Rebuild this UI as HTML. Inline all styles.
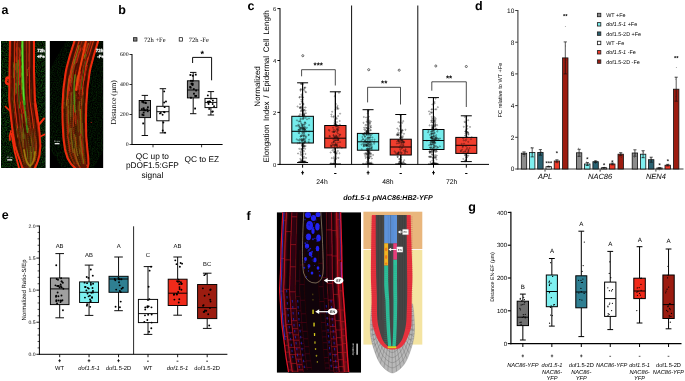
<!DOCTYPE html>
<html><head><meta charset="utf-8"><title>Figure</title>
<style>
html,body{margin:0;padding:0;background:#fff;}
body{width:685px;height:381px;overflow:hidden;font-family:"Liberation Sans",sans-serif;}
svg{display:block;will-change:transform;}
text{text-rendering:geometricPrecision;}
</style></head><body>
<svg width="685" height="381" viewBox="0 0 685 381">
<rect width="685" height="381" fill="#fff"/>
<text x="1.50" y="14.30" font-size="12.5" text-anchor="start" font-family="Liberation Sans, sans-serif" fill="#000" font-weight="bold">a</text>
<text x="118.30" y="13.80" font-size="12.5" text-anchor="start" font-family="Liberation Sans, sans-serif" fill="#000" font-weight="bold">b</text>
<text x="247.60" y="10.30" font-size="12.5" text-anchor="start" font-family="Liberation Sans, sans-serif" fill="#000" font-weight="bold">c</text>
<text x="475.00" y="10.20" font-size="12.5" text-anchor="start" font-family="Liberation Sans, sans-serif" fill="#000" font-weight="bold">d</text>
<text x="1.80" y="219.00" font-size="12.5" text-anchor="start" font-family="Liberation Sans, sans-serif" fill="#000" font-weight="bold">e</text>
<text x="246.50" y="219.50" font-size="12.5" text-anchor="start" font-family="Liberation Sans, sans-serif" fill="#000" font-weight="bold">f</text>
<text x="468.30" y="211.00" font-size="12.5" text-anchor="start" font-family="Liberation Sans, sans-serif" fill="#000" font-weight="bold">g</text>
<defs>
<clipPath id="ca1"><rect x="1" y="41" width="44.5" height="127"/></clipPath>
<clipPath id="ca2"><rect x="49.6" y="41" width="53.8" height="127"/></clipPath>
<filter id="bl1" x="-20%" y="-20%" width="140%" height="140%"><feGaussianBlur stdDeviation="0.5"/></filter>
<filter id="bl05" x="-20%" y="-20%" width="140%" height="140%"><feGaussianBlur stdDeviation="0.35"/></filter>
<filter id="bl2" x="-20%" y="-20%" width="140%" height="140%"><feGaussianBlur stdDeviation="1.0"/></filter>
<filter id="noise" x="0" y="0" width="100%" height="100%" color-interpolation-filters="sRGB"><feTurbulence type="fractalNoise" baseFrequency="0.8" numOctaves="2" seed="3"/><feColorMatrix type="matrix" values="0.15 0 0 0 -0.05  0.75 0 0 0 -0.25  0.1 0 0 0 -0.03  0 0 0 0 1"/></filter>
</defs>
<g clip-path="url(#ca1)">
<rect x="1" y="41" width="44.5" height="127" fill="#000"/>
<rect x="1" y="41" width="44.5" height="127" filter="url(#noise)" opacity="0.85"/>
<g filter="url(#bl1)" stroke="#f42a0c" fill="none" stroke-linecap="round">
<path d="M9.5,78 q-4,-1.5 -3,2 q-2,3 2.5,4.5" stroke-width="2.6"/>
<path d="M10,111 l-4.5,-4.5" stroke-width="1.6"/>
<path d="M37,127 l7,-8.5" stroke-width="2"/>
<path d="M39.5,137 l5,-2.5" stroke-width="1.8"/>
<path d="M11,131 q-2,5 -1,9" stroke-width="1.8"/>
<path d="M11.5,134 Q14,152 19,168" stroke-width="1.8"/>
</g>
<path d="M10.0,38.0 L10.0,41.0 L9.9,44.0 L9.9,47.0 L9.8,50.0 L9.8,53.0 L9.7,56.0 L9.7,59.0 L9.6,62.0 L9.6,65.0 L9.5,68.0 L9.5,71.0 L9.5,74.0 L9.4,77.0 L9.4,80.0 L9.4,83.0 L9.3,86.0 L9.3,89.0 L9.3,92.0 L9.2,95.0 L9.2,98.0 L9.3,101.0 L9.6,104.0 L9.9,107.0 L10.2,110.0 L10.5,113.0 L10.8,116.0 L11.1,119.0 L11.5,122.0 L11.8,125.0 L12.2,128.0 L12.6,131.0 L13.0,134.0 L13.5,137.0 L14.0,140.0 L14.5,143.0 L15.0,146.0 L15.9,149.0 L16.9,152.0 L17.8,155.0 L19.0,158.0 L20.1,161.0 L21.1,164.0 L22.0,167.0 L23.8,170.0 L25.0,172.0 L33.0,172.0 L34.0,170.0 L35.4,167.0 L36.7,164.0 L37.9,161.0 L38.7,158.0 L39.6,155.0 L39.9,152.0 L40.1,149.0 L40.4,146.0 L40.2,143.0 L40.0,140.0 L39.8,137.0 L39.7,134.0 L39.3,131.0 L39.0,128.0 L38.6,125.0 L38.2,122.0 L37.8,119.0 L37.4,116.0 L37.0,113.0 L36.5,110.0 L36.1,107.0 L35.6,104.0 L35.1,101.0 L34.9,98.0 L34.8,95.0 L34.7,92.0 L34.6,89.0 L34.5,86.0 L34.4,83.0 L34.3,80.0 L34.2,77.0 L34.1,74.0 L34.0,71.0 L34.0,68.0 L34.0,65.0 L34.0,62.0 L34.0,59.0 L34.0,56.0 L34.0,53.0 L34.0,50.0 L34.0,47.0 L34.0,44.0 L34.0,41.0 L34.0,38.0 Z" fill="#5c1806"/>
<g filter="url(#bl1)" fill="none" stroke-linecap="round">
<path d="M21.7,107.6 L22.2,110.6 L22.7,113.6 L23.1,116.6 L23.1,119.6 L23.6,122.6 L23.8,125.6 L24.6,128.6 L24.9,131.6 L24.9,134.6" stroke="#4b0f06" stroke-width="1.23" opacity="0.85"/>
<path d="M38.5,155.8 L37.4,158.8 L36.7,161.8 L35.6,164.8 L34.2,167.8" stroke="#52670e" stroke-width="0.71" opacity="0.85"/>
<path d="M21.2,93.4 L21.2,96.4 L21.1,99.4 L21.8,102.4 L22.2,105.4 L22.5,108.4 L22.7,111.4 L22.9,114.4 L23.2,117.4" stroke="#d3280b" stroke-width="1.15" opacity="0.85"/>
<path d="M17.3,49.4 L17.2,52.4 L16.7,55.4 L16.8,58.4 L17.2,61.4 L16.9,64.4 L17.2,67.4 L16.8,70.4 L16.6,73.4" stroke="#631307" stroke-width="1.05" opacity="0.85"/>
<path d="M29.7,133.6 L29.6,136.6 L30.0,139.6 L30.2,142.6 L30.5,145.6" stroke="#381b05" stroke-width="1.57" opacity="0.85"/>
<path d="M28.5,62.1 L28.8,65.1 L28.4,68.1 L28.6,71.1 L28.6,74.1 L28.7,77.1 L29.2,80.1" stroke="#350a04" stroke-width="1.36" opacity="0.85"/>
<path d="M29.1,77.2 L28.8,80.2 L29.4,83.2 L29.0,86.2 L29.1,89.2 L29.5,92.2 L29.3,95.2 L29.4,98.2 L29.4,101.2 L29.9,104.2" stroke="#430d05" stroke-width="1.47" opacity="0.85"/>
<path d="M23.7,69.9 L23.8,72.9 L24.0,75.9 L23.6,78.9 L23.6,81.9 L24.1,84.9 L24.1,87.9" stroke="#470e05" stroke-width="1.56" opacity="0.85"/>
<path d="M16.2,63.6 L16.0,66.6 L15.9,69.6 L15.7,72.6 L15.7,75.6 L16.2,78.6 L15.8,81.6 L16.1,84.6" stroke="#596f0e" stroke-width="1.56" opacity="0.85"/>
<path d="M20.6,139.0 L21.1,142.0 L21.7,145.0 L22.5,148.0 L22.9,151.0 L23.3,154.0 L24.3,157.0" stroke="#301505" stroke-width="1.35" opacity="0.85"/>
<path d="M15.1,43.0 L15.2,46.0 L14.9,49.0 L15.0,52.0 L15.3,55.0" stroke="#2c0804" stroke-width="0.86" opacity="0.85"/>
<path d="M36.4,119.2 L37.3,122.2 L37.6,125.2 L38.1,128.2 L37.9,131.2 L38.6,134.2 L38.7,137.2 L39.0,140.2" stroke="#b31e08" stroke-width="0.73" opacity="0.85"/>
<path d="M25.9,159.9 L26.3,162.9 L26.5,165.9" stroke="#4c2908" stroke-width="1.51" opacity="0.85"/>
<path d="M32.0,82.9 L32.1,85.9 L32.0,88.9 L32.1,91.9 L32.1,94.9 L32.3,97.9 L32.5,100.9 L32.6,103.9" stroke="#9d760f" stroke-width="1.08" opacity="0.85"/>
<path d="M31.5,159.2 L31.2,162.2 L31.0,165.2" stroke="#656b0f" stroke-width="1.36" opacity="0.85"/>
<path d="M15.4,130.3 L15.6,133.3 L16.2,136.3" stroke="#6c6d0f" stroke-width="0.91" opacity="0.85"/>
<path d="M31.4,71.4 L31.9,74.4 L31.8,77.4" stroke="#571106" stroke-width="0.88" opacity="0.85"/>
<path d="M26.6,147.1 L27.1,150.1 L27.5,153.1 L27.5,156.1 L27.9,159.1" stroke="#55670e" stroke-width="1.09" opacity="0.85"/>
<path d="M17.9,57.2 L17.4,60.2 L17.4,63.2 L17.5,66.2 L17.4,69.2 L17.3,72.2" stroke="#9a760f" stroke-width="1.34" opacity="0.85"/>
<path d="M21.8,115.5 L22.0,118.5 L22.3,121.5 L23.2,124.5 L23.1,127.5 L23.8,130.5" stroke="#621307" stroke-width="1.58" opacity="0.85"/>
<path d="M23.2,77.8 L23.7,80.8 L23.4,83.8 L23.4,86.8 L23.4,89.8 L23.8,92.8 L23.7,95.8 L23.9,98.8 L24.2,101.8" stroke="#310904" stroke-width="1.11" opacity="0.85"/>
<path d="M34.8,155.1 L34.6,158.1 L34.3,161.1 L33.3,164.1 L32.5,167.1" stroke="#3f2006" stroke-width="0.86" opacity="0.85"/>
<path d="M21.3,124.0 L21.8,127.0 L21.7,130.0 L22.5,133.0 L22.8,136.0 L22.8,139.0 L23.4,142.0" stroke="#827311" stroke-width="1.05" opacity="0.85"/>
<path d="M31.2,149.3 L31.1,152.3 L31.4,155.3 L31.0,158.3 L31.2,161.3 L30.9,164.3" stroke="#8c7511" stroke-width="1.42" opacity="0.85"/>
<path d="M29.0,126.4 L29.5,129.4 L29.6,132.4 L30.3,135.4" stroke="#d52f0d" stroke-width="1.58" opacity="0.85"/>
<path d="M30.4,82.5 L30.2,85.5 L30.7,88.5" stroke="#4e0f06" stroke-width="1.39" opacity="0.85"/>
<path d="M15.4,136.2 L16.1,139.2 L16.7,142.2 L17.3,145.2" stroke="#4f2a08" stroke-width="0.83" opacity="0.85"/>
<path d="M32.6,153.5 L32.4,156.5 L32.4,159.5 L32.1,162.5 L31.4,165.5" stroke="#9b1d08" stroke-width="0.90" opacity="0.85"/>
<path d="M31.4,107.6 L32.2,110.6 L32.7,113.6 L32.9,116.6 L33.3,119.6" stroke="#631307" stroke-width="1.51" opacity="0.85"/>
<path d="M15.3,104.8 L15.6,107.8 L16.1,110.8 L16.3,113.8 L16.6,116.8 L17.1,119.8 L17.1,122.8" stroke="#ab1c08" stroke-width="1.57" opacity="0.85"/>
<path d="M22.7,90.2 L22.9,93.2 L23.2,96.2 L23.3,99.2 L23.3,102.2 L23.6,105.2 L23.9,108.2 L24.5,111.2 L25.1,114.2 L25.0,117.2" stroke="#60700e" stroke-width="1.13" opacity="0.85"/>
<path d="M28.3,43.7 L28.4,46.7 L28.1,49.7 L28.5,52.7" stroke="#581106" stroke-width="0.99" opacity="0.85"/>
<path d="M13.0,101.7 L13.3,104.7 L13.7,107.7 L13.8,110.7 L14.1,113.7" stroke="#4d0f06" stroke-width="1.09" opacity="0.85"/>
<path d="M27.4,117.0 L28.1,120.0 L28.5,123.0 L28.9,126.0 L28.9,129.0 L29.3,132.0 L30.0,135.0" stroke="#83740f" stroke-width="1.47" opacity="0.85"/>
<path d="M23.8,159.8 L24.3,162.8 L25.2,165.8" stroke="#331805" stroke-width="1.35" opacity="0.85"/>
<path d="M24.3,135.0 L24.9,138.0 L25.4,141.0 L25.8,144.0" stroke="#4a2708" stroke-width="0.72" opacity="0.85"/>
<path d="M12.5,101.2 L12.9,104.2 L13.2,107.2 L13.8,110.2 L14.1,113.2 L14.4,116.2 L14.5,119.2 L14.9,122.2 L15.3,125.2" stroke="#d6290c" stroke-width="0.87" opacity="0.85"/>
<path d="M35.1,158.8 L34.8,161.8 L33.6,164.8 L32.8,167.8" stroke="#2b1204" stroke-width="1.56" opacity="0.85"/>
<path d="M22.2,92.2 L22.4,95.2 L22.6,98.2 L22.6,101.2 L22.8,104.2 L23.2,107.2 L23.8,110.2" stroke="#591106" stroke-width="1.46" opacity="0.85"/>
<path d="M16.3,147.3 L17.3,150.3 L18.2,153.3 L19.4,156.3 L20.4,159.3 L21.1,162.3 L22.3,165.3" stroke="#8a7511" stroke-width="1.27" opacity="0.85"/>
<path d="M32.6,133.6 L32.9,136.6 L33.2,139.6 L33.2,142.6 L33.7,145.6 L33.4,148.6 L33.6,151.6 L33.7,154.6 L33.2,157.6" stroke="#542e09" stroke-width="1.49" opacity="0.85"/>
<path d="M20.5,117.0 L21.0,120.0 L21.3,123.0 L21.7,126.0 L22.0,129.0 L22.7,132.0 L22.9,135.0" stroke="#6a1507" stroke-width="1.30" opacity="0.85"/>
<path d="M31.0,131.6 L31.4,134.6 L31.5,137.6 L31.9,140.6 L32.3,143.6 L32.3,146.6 L32.5,149.6 L33.0,152.6 L32.8,155.6 L32.6,158.6" stroke="#462407" stroke-width="1.36" opacity="0.85"/>
<path d="M34.9,108.6 L35.4,111.6 L35.4,114.6 L36.4,117.6 L36.3,120.6 L36.9,123.6 L37.1,126.6 L37.7,129.6 L38.1,132.6 L38.0,135.6" stroke="#de2c0c" stroke-width="0.77" opacity="0.85"/>
<path d="M32.8,91.1 L32.9,94.1 L32.8,97.1 L33.2,100.1 L33.3,103.1 L33.6,106.1 L34.2,109.1" stroke="#c1230a" stroke-width="0.96" opacity="0.85"/>
<path d="M11.0,59.6 L11.5,62.6 L11.4,65.6 L10.9,68.6 L11.3,71.6 L11.0,74.6 L11.0,77.6 L11.3,80.6 L10.9,83.6" stroke="#661407" stroke-width="1.37" opacity="0.85"/>
<path d="M29.0,152.5 L29.0,155.5 L29.4,158.5 L29.4,161.5 L29.0,164.5 L28.7,167.5" stroke="#583109" stroke-width="1.44" opacity="0.85"/>
<path d="M22.6,55.8 L22.4,58.8 L22.6,61.8 L22.5,64.8 L22.7,67.8 L22.7,70.8" stroke="#c7250a" stroke-width="0.94" opacity="0.85"/>
<path d="M27.1,69.4 L27.1,72.4 L27.4,75.4" stroke="#94750f" stroke-width="1.26" opacity="0.85"/>
<path d="M25.4,111.4 L25.8,114.4 L26.1,117.4 L26.0,120.4 L26.4,123.4 L26.9,126.4 L27.4,129.4 L27.9,132.4" stroke="#b61f09" stroke-width="0.92" opacity="0.85"/>
<path d="M13.0,105.5 L13.2,108.5 L13.6,111.5" stroke="#571106" stroke-width="1.20" opacity="0.85"/>
<path d="M15.2,81.9 L15.1,84.9 L15.2,87.9 L14.8,90.9 L15.0,93.9 L14.9,96.9 L15.2,99.9 L15.3,102.9" stroke="#4d6e0e" stroke-width="0.81" opacity="0.85"/>
<path d="M31.7,158.7 L31.5,161.7 L30.8,164.7 L30.8,167.7" stroke="#4d2908" stroke-width="1.53" opacity="0.85"/>
<path d="M12.4,50.9 L11.9,53.9 L12.0,56.9 L12.2,59.9 L11.8,62.9 L11.9,65.9 L12.1,68.9" stroke="#571106" stroke-width="0.97" opacity="0.85"/>
<path d="M26.1,74.7 L26.5,77.7 L26.5,80.7 L26.8,83.7" stroke="#5a1206" stroke-width="1.03" opacity="0.85"/>
<path d="M38.0,149.7 L38.2,152.7 L37.9,155.7 L36.8,158.7 L36.2,161.7 L35.1,164.7" stroke="#a92209" stroke-width="0.99" opacity="0.85"/>
<path d="M18.7,88.1 L18.9,91.1 L18.8,94.1 L18.5,97.1 L18.9,100.1 L19.3,103.1" stroke="#4f0f06" stroke-width="1.42" opacity="0.85"/>
<path d="M17.0,43.6 L17.1,46.6 L16.6,49.6 L16.9,52.6 L17.0,55.6 L16.5,58.6 L16.5,61.6" stroke="#ce270b" stroke-width="1.57" opacity="0.85"/>
<path d="M33.6,148.0 L33.4,151.0 L33.4,154.0" stroke="#51660e" stroke-width="1.37" opacity="0.85"/>
<path d="M29.1,103.1 L29.4,106.1 L29.9,109.1 L30.4,112.1 L30.8,115.1 L31.3,118.1 L31.4,121.1 L32.0,124.1 L32.3,127.1" stroke="#3f0c05" stroke-width="1.57" opacity="0.85"/>
<path d="M35.5,136.9 L35.9,139.9 L36.2,142.9 L36.2,145.9 L36.1,148.9 L35.9,151.9 L36.2,154.9 L35.8,157.9 L34.9,160.9" stroke="#d42f0d" stroke-width="1.28" opacity="0.85"/>
<path d="M14.0,65.3 L13.8,68.3 L14.1,71.3 L14.2,74.3 L13.8,77.3 L13.7,80.3" stroke="#6b1507" stroke-width="0.75" opacity="0.85"/>
<path d="M22.2,110.5 L22.6,113.5 L23.3,116.5 L23.5,119.5 L23.7,122.5 L24.0,125.5 L24.5,128.5 L24.8,131.5 L25.5,134.5 L25.6,137.5" stroke="#2f0904" stroke-width="0.87" opacity="0.85"/>
<path d="M27.9,138.2 L28.4,141.2 L28.9,144.2 L29.0,147.2 L29.1,150.2 L29.3,153.2" stroke="#542e09" stroke-width="1.52" opacity="0.85"/>
<path d="M38.1,136.4 L38.1,139.4 L38.1,142.4 L38.2,145.4 L38.3,148.4 L38.1,151.4" stroke="#412107" stroke-width="0.95" opacity="0.85"/>
<path d="M32.7,125.9 L33.5,128.9 L33.6,131.9 L34.0,134.9 L34.5,137.9 L34.3,140.9 L34.7,143.9" stroke="#2f1504" stroke-width="0.99" opacity="0.85"/>
<path d="M17.0,132.7 L17.6,135.7 L18.3,138.7" stroke="#cd2c0d" stroke-width="1.44" opacity="0.85"/>
<path d="M12.1,98.1 L12.5,101.1 L12.6,104.1 L13.2,107.1 L13.1,110.1 L13.8,113.1" stroke="#80730f" stroke-width="1.47" opacity="0.85"/>
<path d="M15.5,105.7 L15.7,108.7 L16.1,111.7 L16.6,114.7 L17.0,117.7 L17.2,120.7 L17.8,123.7" stroke="#621307" stroke-width="0.98" opacity="0.85"/>
<path d="M12.2,87.9 L12.4,90.9 L12.6,93.9 L12.3,96.9 L12.5,99.9 L12.7,102.9" stroke="#98760f" stroke-width="1.29" opacity="0.85"/>
<path d="M19.9,159.0 L21.1,162.0 L21.8,165.0" stroke="#462407" stroke-width="0.96" opacity="0.85"/>
<path d="M18.0,87.7 L18.3,90.7 L18.1,93.7 L18.2,96.7 L18.0,99.7 L18.6,102.7 L18.5,105.7 L18.9,108.7" stroke="#350a04" stroke-width="1.36" opacity="0.85"/>
<path d="M14.6,121.6 L14.6,124.6 L15.1,127.6 L15.4,130.6 L15.7,133.6 L16.4,136.6 L16.7,139.6 L17.6,142.6" stroke="#3c1d06" stroke-width="1.45" opacity="0.85"/>
<path d="M20.4,101.9 L20.9,104.9 L21.0,107.9 L21.6,110.9 L22.1,113.9 L22.7,116.9 L22.9,119.9 L23.2,122.9" stroke="#df2c0c" stroke-width="1.05" opacity="0.85"/>
<path d="M24.4,43.2 L24.4,46.2 L24.6,49.2 L24.6,52.2 L24.4,55.2" stroke="#551106" stroke-width="0.80" opacity="0.85"/>
<path d="M17.2,132.2 L18.0,135.2 L18.6,138.2 L18.7,141.2 L19.3,144.2 L19.9,147.2 L20.3,150.2 L21.5,153.2 L22.0,156.2 L22.6,159.2" stroke="#391b06" stroke-width="1.15" opacity="0.85"/>
<path d="M12.0,70.1 L12.0,73.1 L11.8,76.1 L12.3,79.1 L11.8,82.1 L12.2,85.1 L12.0,88.1" stroke="#bf2209" stroke-width="1.54" opacity="0.85"/>
<path d="M24.6,107.7 L24.7,110.7 L25.5,113.7 L25.6,116.7 L26.3,119.7" stroke="#a9770f" stroke-width="1.44" opacity="0.85"/>
<path d="M16.5,109.3 L16.9,112.3 L17.8,115.3 L18.1,118.3 L18.3,121.3 L18.4,124.3 L19.0,127.3 L19.4,130.3 L19.6,133.3" stroke="#4e0f06" stroke-width="0.77" opacity="0.85"/>
<path d="M28.9,136.7 L29.3,139.7 L29.4,142.7" stroke="#3f1f06" stroke-width="0.83" opacity="0.85"/>
<path d="M22.3,72.4 L22.1,75.4 L22.6,78.4 L22.4,81.4 L22.4,84.4 L22.4,87.4 L22.5,90.4" stroke="#541006" stroke-width="0.73" opacity="0.85"/>
<path d="M31.0,131.2 L31.1,134.2 L31.4,137.2 L31.8,140.2 L32.2,143.2 L32.3,146.2 L32.4,149.2 L32.5,152.2 L32.8,155.2" stroke="#593109" stroke-width="1.45" opacity="0.85"/>
<path d="M18.0,47.5 L17.7,50.5 L17.8,53.5 L17.5,56.5 L17.5,59.5 L17.6,62.5 L17.6,65.5 L17.5,68.5" stroke="#8f750f" stroke-width="1.24" opacity="0.85"/>
<path d="M13.5,123.7 L13.8,126.7 L14.6,129.7 L15.0,132.7 L15.3,135.7 L15.9,138.7 L16.1,141.7" stroke="#371a05" stroke-width="1.06" opacity="0.85"/>
<path d="M29.0,67.4 L28.6,70.4 L29.0,73.4 L29.3,76.4 L28.8,79.4 L29.0,82.4 L29.1,85.4 L29.2,88.4" stroke="#e42e0d" stroke-width="0.79" opacity="0.85"/>
<path d="M17.3,147.5 L18.1,150.5 L19.5,153.5 L20.0,156.5 L21.1,159.5 L22.3,162.5 L23.1,165.5" stroke="#391c06" stroke-width="1.23" opacity="0.85"/>
<path d="M21.4,65.6 L21.0,68.6 L21.1,71.6 L21.0,74.6 L21.4,77.6" stroke="#9f760f" stroke-width="0.88" opacity="0.85"/>
<path d="M33.0,65.0 L33.4,68.0 L33.2,71.0 L33.7,74.0 L33.7,77.0 L33.7,80.0 L33.5,83.0 L33.9,86.0" stroke="#651407" stroke-width="0.75" opacity="0.85"/>
<path d="M32.5,94.0 L32.5,97.0 L32.7,100.0" stroke="#3d0c05" stroke-width="1.34" opacity="0.85"/>
<path d="M30.4,135.1 L30.8,138.1 L31.4,141.1 L31.6,144.1 L31.6,147.1" stroke="#8c7511" stroke-width="1.23" opacity="0.85"/>
<path d="M24.8,51.7 L25.2,54.7 L24.9,57.7 L24.9,60.7 L25.2,63.7 L24.8,66.7 L24.9,69.7 L25.2,72.7 L25.0,75.7 L25.0,78.7" stroke="#4c0f06" stroke-width="1.18" opacity="0.85"/>
<path d="M23.1,63.2 L22.8,66.2 L23.1,69.2 L22.9,72.2 L22.7,75.2 L23.0,78.2 L23.1,81.2 L23.0,84.2 L23.2,87.2 L23.3,90.2" stroke="#496e0e" stroke-width="1.12" opacity="0.85"/>
<path d="M22.5,101.2 L23.2,104.2 L23.2,107.2 L23.9,110.2 L24.0,113.2 L24.5,116.2 L25.1,119.2 L25.5,122.2 L25.8,125.2" stroke="#cb260b" stroke-width="1.56" opacity="0.85"/>
<path d="M15.7,99.2 L16.0,102.2 L16.3,105.2 L16.8,108.2" stroke="#ca250a" stroke-width="0.73" opacity="0.85"/>
<path d="M14.3,59.1 L14.6,62.1 L14.1,65.1" stroke="#460e05" stroke-width="1.10" opacity="0.85"/>
<path d="M33.2,108.7 L33.5,111.7 L34.1,114.7 L34.7,117.7 L35.0,120.7 L35.3,123.7 L35.8,126.7" stroke="#b92009" stroke-width="0.83" opacity="0.85"/>
<path d="M16.8,138.6 L17.3,141.6 L17.3,144.6 L18.2,147.6" stroke="#2f1504" stroke-width="1.32" opacity="0.85"/>
<path d="M18.9,66.7 L18.4,69.7 L18.6,72.7 L18.8,75.7 L18.4,78.7 L18.5,81.7 L18.9,84.7 L18.5,87.7 L18.7,90.7 L18.6,93.7" stroke="#4a0e05" stroke-width="1.39" opacity="0.85"/>
<path d="M20.0,50.1 L20.0,53.1 L20.1,56.1" stroke="#92750f" stroke-width="1.36" opacity="0.85"/>
<path d="M15.8,95.9 L15.5,98.9 L15.9,101.9 L16.4,104.9 L16.4,107.9 L16.9,110.9 L17.5,113.9 L17.9,116.9 L18.1,119.9 L18.6,122.9" stroke="#3f0c05" stroke-width="1.58" opacity="0.85"/>
<path d="M21.0,87.8 L20.9,90.8 L21.1,93.8 L20.9,96.8 L21.0,99.8 L21.4,102.8 L21.9,105.8 L22.1,108.8 L22.6,111.8" stroke="#5e1207" stroke-width="0.89" opacity="0.85"/>
<path d="M37.5,121.8 L37.6,124.8 L38.0,127.8 L38.2,130.8 L38.6,133.8 L38.9,136.8 L39.1,139.8 L39.7,142.8 L39.7,145.8" stroke="#3b1d06" stroke-width="0.77" opacity="0.85"/>
<path d="M16.5,84.0 L16.6,87.0 L16.1,90.0 L16.3,93.0" stroke="#69710e" stroke-width="1.39" opacity="0.85"/>
<path d="M19.0,50.9 L19.1,53.9 L19.0,56.9 L18.9,59.9 L18.9,62.9 L19.2,65.9 L18.8,68.9 L19.0,71.9 L19.0,74.9 L19.1,77.9" stroke="#5d1207" stroke-width="1.17" opacity="0.85"/>
<path d="M15.8,125.1 L16.2,128.1 L16.8,131.1 L17.0,134.1 L17.5,137.1" stroke="#7b7110" stroke-width="0.83" opacity="0.85"/>
<path d="M30.0,67.9 L30.4,70.9 L30.4,73.9 L30.6,76.9 L30.8,79.9" stroke="#370b04" stroke-width="0.74" opacity="0.85"/>
<path d="M19.8,120.8 L20.2,123.8 L20.1,126.8 L20.7,129.8 L20.8,132.8 L21.4,135.8 L21.8,138.8 L22.0,141.8 L22.6,144.8 L23.1,147.8" stroke="#4a2708" stroke-width="1.30" opacity="0.85"/>
<path d="M21.8,74.3 L21.6,77.3 L21.6,80.3 L21.7,83.3" stroke="#490e05" stroke-width="0.85" opacity="0.85"/>
<path d="M19.8,58.9 L19.9,61.9 L19.9,64.9 L19.7,67.9 L19.9,70.9 L19.7,73.9 L20.0,76.9" stroke="#cd270b" stroke-width="1.33" opacity="0.85"/>
<path d="M24.4,96.8 L24.2,99.8 L24.4,102.8 L25.1,105.8 L25.2,108.8" stroke="#290804" stroke-width="1.01" opacity="0.85"/>
<path d="M23.3,114.2 L23.5,117.2 L23.9,120.2 L24.2,123.2 L24.5,126.2 L24.8,129.2 L25.5,132.2 L25.9,135.2 L26.0,138.2 L26.6,141.2" stroke="#501006" stroke-width="1.55" opacity="0.85"/>
<path d="M11.0,57.2 L11.0,60.2 L10.9,63.2 L11.2,66.2 L10.9,69.2 L10.7,72.2 L11.0,75.2" stroke="#410d05" stroke-width="1.58" opacity="0.85"/>
<path d="M19.3,69.5 L19.5,72.5 L19.6,75.5 L19.2,78.5 L19.3,81.5 L19.6,84.5" stroke="#cd260b" stroke-width="1.26" opacity="0.85"/>
<path d="M20.4,126.2 L21.1,129.2 L21.3,132.2 L21.8,135.2 L22.1,138.2 L22.4,141.2 L23.1,144.2 L23.4,147.2" stroke="#937711" stroke-width="1.44" opacity="0.85"/>
<path d="M15.4,70.7 L15.4,73.7 L15.4,76.7 L15.8,79.7 L15.4,82.7" stroke="#4b0f06" stroke-width="0.81" opacity="0.85"/>
<path d="M24.7,132.9 L25.2,135.9 L25.7,138.9 L26.2,141.9 L26.3,144.9 L26.9,147.9" stroke="#532d09" stroke-width="1.48" opacity="0.85"/>
<path d="M19.2,126.2 L19.5,129.2 L19.7,132.2 L20.3,135.2 L20.7,138.2" stroke="#4d2908" stroke-width="1.46" opacity="0.85"/>
<path d="M34.7,136.3 L34.9,139.3 L35.4,142.3 L35.9,145.3" stroke="#492608" stroke-width="0.91" opacity="0.85"/>
<path d="M33.0,56.9 L33.0,59.9 L32.4,62.9 L32.8,65.9 L32.5,68.9 L32.5,71.9 L32.7,74.9 L33.1,77.9" stroke="#541006" stroke-width="1.06" opacity="0.85"/>
<path d="M33.2,55.3 L33.1,58.3 L33.4,61.3 L33.4,64.3 L33.1,67.3" stroke="#4d0f06" stroke-width="1.13" opacity="0.85"/>
<path d="M21.2,114.5 L21.7,117.5 L21.7,120.5 L22.1,123.5 L22.4,126.5 L23.3,129.5 L23.2,132.5 L23.8,135.5 L23.9,138.5" stroke="#6c710e" stroke-width="1.32" opacity="0.85"/>
<path d="M17.8,43.3 L17.9,46.3 L17.8,49.3 L17.7,52.3 L17.5,55.3 L17.5,58.3 L18.0,61.3" stroke="#531006" stroke-width="0.95" opacity="0.85"/>
<path d="M17.7,50.3 L17.5,53.3 L17.4,56.3 L17.6,59.3" stroke="#6d1507" stroke-width="0.88" opacity="0.85"/>
<path d="M19.8,47.9 L19.7,50.9 L19.8,53.9 L19.4,56.9 L19.6,59.9 L19.5,62.9 L19.2,65.9" stroke="#d2280b" stroke-width="0.95" opacity="0.85"/>
<path d="M10.8,61.1 L10.8,64.1 L10.5,67.1" stroke="#410d05" stroke-width="1.38" opacity="0.85"/>
<path d="M22.9,155.2 L23.4,158.2 L24.3,161.2" stroke="#502b08" stroke-width="1.41" opacity="0.85"/>
<path d="M34.6,132.4 L34.6,135.4 L35.2,138.4 L34.9,141.4 L35.5,144.4 L35.4,147.4 L35.5,150.4 L35.4,153.4 L35.4,156.4 L35.0,159.4" stroke="#573009" stroke-width="1.06" opacity="0.85"/>
<path d="M20.5,116.9 L21.1,119.9 L21.7,122.9 L21.7,125.9 L22.4,128.9" stroke="#671407" stroke-width="0.99" opacity="0.85"/>
<path d="M26.0,121.9 L26.1,124.9 L26.8,127.9 L27.1,130.9" stroke="#2f1404" stroke-width="1.02" opacity="0.85"/>
<path d="M18.5,104.9 L18.4,107.9 L19.3,110.9 L19.3,113.9 L20.0,116.9 L19.9,119.9 L20.4,122.9 L20.9,125.9 L21.0,128.9 L21.4,131.9" stroke="#651407" stroke-width="0.99" opacity="0.85"/>
<path d="M32.1,153.8 L32.3,156.8 L32.0,159.8 L31.9,162.8 L31.0,165.8" stroke="#391c06" stroke-width="1.59" opacity="0.85"/>
<path d="M30.3,146.6 L31.0,149.6 L31.1,152.6 L31.1,155.6 L31.1,158.6 L30.9,161.6 L30.5,164.6 L30.0,167.6" stroke="#6e6e10" stroke-width="1.21" opacity="0.85"/>
<path d="M25.8,109.2 L26.2,112.2 L26.8,115.2 L26.7,118.2 L27.3,121.2 L28.0,124.2 L28.2,127.2" stroke="#531006" stroke-width="1.10" opacity="0.85"/>
<path d="M21.2,128.7 L21.3,131.7 L21.5,134.7 L22.3,137.7 L22.6,140.7 L23.1,143.7 L23.5,146.7 L24.0,149.7 L24.4,152.7 L25.2,155.7" stroke="#532d09" stroke-width="0.81" opacity="0.85"/>
<path d="M17.0,144.5 L17.8,147.5 L18.3,150.5 L19.2,153.5 L20.3,156.5 L20.9,159.5 L22.1,162.5 L23.0,165.5" stroke="#502b08" stroke-width="1.11" opacity="0.85"/>
<path d="M21.8,69.8 L21.7,72.8 L21.4,75.8 L21.6,78.8 L21.4,81.8 L21.4,84.8 L21.6,87.8 L22.0,90.8 L22.0,93.8" stroke="#93750f" stroke-width="1.19" opacity="0.85"/>
<path d="M12.7,62.6 L13.2,65.6 L12.7,68.6 L12.9,71.6 L13.1,74.6 L13.0,77.6" stroke="#83740f" stroke-width="1.51" opacity="0.85"/>
<path d="M17.1,120.5 L17.2,123.5 L17.8,126.5 L18.2,129.5 L18.2,132.5 L18.6,135.5" stroke="#381b06" stroke-width="0.98" opacity="0.85"/>
<path d="M26.7,96.5 L26.7,99.5 L27.5,102.5 L27.7,105.5" stroke="#691507" stroke-width="1.25" opacity="0.85"/>
<path d="M27.5,83.9 L27.8,86.9 L27.6,89.9 L27.7,92.9 L27.8,95.9" stroke="#320a04" stroke-width="1.27" opacity="0.85"/>
<path d="M32.6,82.2 L32.4,85.2 L32.8,88.2 L32.8,91.2 L32.7,94.2 L33.1,97.2 L32.9,100.2 L33.5,103.2" stroke="#501006" stroke-width="0.96" opacity="0.85"/>
<path d="M24.8,94.4 L24.4,97.4 L24.7,100.4" stroke="#3b0b05" stroke-width="1.10" opacity="0.85"/>
<path d="M25.7,70.1 L25.7,73.1 L26.1,76.1 L26.1,79.1 L26.0,82.1 L26.1,85.1" stroke="#661407" stroke-width="0.93" opacity="0.85"/>
<path d="M18.6,147.7 L19.2,150.7 L20.3,153.7" stroke="#3a1c06" stroke-width="1.35" opacity="0.85"/>
<path d="M32.1,43.8 L32.3,46.8 L32.3,49.8 L32.5,52.8 L32.5,55.8 L32.5,58.8 L32.2,61.8 L32.4,64.8" stroke="#410d05" stroke-width="1.12" opacity="0.85"/>
<path d="M29.0,124.4 L29.2,127.4 L30.0,130.4 L29.9,133.4 L30.3,136.4 L30.4,139.4 L30.9,142.4 L31.4,145.4 L31.2,148.4 L31.4,151.4" stroke="#3f1f06" stroke-width="1.06" opacity="0.85"/>
<path d="M27.9,115.1 L27.9,118.1 L28.5,121.1 L28.6,124.1 L29.5,127.1 L29.9,130.1 L30.2,133.1 L30.0,136.1" stroke="#601307" stroke-width="1.36" opacity="0.85"/>
<path d="M19.0,104.8 L19.1,107.8 L19.8,110.8 L19.9,113.8 L20.2,116.8 L20.8,119.8 L21.0,122.8" stroke="#5f1307" stroke-width="0.97" opacity="0.85"/>
<path d="M28.3,70.4 L28.3,73.4 L28.6,76.4 L28.2,79.4 L28.7,82.4 L28.4,85.4" stroke="#370b04" stroke-width="1.11" opacity="0.85"/>
<path d="M34.1,103.5 L34.3,106.5 L34.8,109.5 L35.7,112.5 L36.0,115.5 L36.5,118.5" stroke="#e22d0d" stroke-width="1.57" opacity="0.85"/>
<path d="M14.8,41.0 L14.7,44.0 L14.7,47.0 L14.7,50.0 L14.6,53.0 L14.6,56.0 L14.5,59.0 L14.5,62.0 L14.5,65.0 L14.4,68.0 L14.4,71.0 L14.4,74.0 L14.4,77.0 L14.4,80.0 L14.4,83.0 L14.4,86.0 L14.4,89.0 L14.4,92.0 L14.4,95.0 L14.4,98.0 L14.5,101.0 L14.8,104.0 L15.1,107.0 L15.5,110.0 L15.8,113.0 L16.1,116.0 L16.5,119.0 L16.8,122.0 L17.2,125.0 L17.6,128.0" stroke="#d8300c" stroke-width="1.0"/>
<path d="M17.6,128.0 L17.9,131.0 L18.3,134.0 L18.8,137.0 L19.2,140.0 L19.6,143.0 L20.1,146.0 L20.8,149.0 L21.5,152.0 L22.2,155.0 L22.9,158.0 L23.7,161.0 L24.2,164.0" stroke="#d8300c" stroke-width="1.0" opacity="0.45"/>
<path d="M29.2,41.0 L29.2,44.0 L29.2,47.0 L29.2,50.0 L29.2,53.0 L29.1,56.0 L29.1,59.0 L29.1,62.0 L29.1,65.0 L29.1,68.0 L29.1,71.0 L29.2,74.0 L29.3,77.0 L29.3,80.0 L29.4,83.0 L29.5,86.0 L29.6,89.0 L29.6,92.0 L29.7,95.0 L29.8,98.0 L30.0,101.0 L30.4,104.0 L30.8,107.0 L31.2,110.0 L31.7,113.0 L32.1,116.0 L32.5,119.0 L32.9,122.0 L33.2,125.0 L33.6,128.0" stroke="#d8300c" stroke-width="1.0"/>
<path d="M33.6,128.0 L34.0,131.0 L34.3,134.0 L34.6,137.0 L34.8,140.0 L35.1,143.0 L35.3,146.0 L35.3,149.0 L35.3,152.0 L35.2,155.0 L34.8,158.0 L34.3,161.0 L33.6,164.0" stroke="#d8300c" stroke-width="1.0" opacity="0.45"/>
<path d="M17.6,41.0 L17.6,44.0 L17.6,47.0 L17.6,50.0 L17.5,53.0 L17.5,56.0 L17.5,59.0 L17.4,62.0 L17.4,65.0 L17.4,68.0 L17.3,71.0 L17.4,74.0 L17.4,77.0 L17.4,80.0 L17.4,83.0 L17.4,86.0 L17.4,89.0 L17.4,92.0 L17.4,95.0 L17.4,98.0 L17.6,101.0 L17.9,104.0 L18.3,107.0 L18.6,110.0 L19.0,113.0 L19.3,116.0 L19.7,119.0 L20.0,122.0 L20.4,125.0 L20.8,128.0" stroke="#a8280a" stroke-width="0.8"/>
<path d="M20.8,128.0 L21.1,131.0 L21.5,134.0 L21.9,137.0 L22.3,140.0 L22.7,143.0 L23.1,146.0 L23.7,149.0 L24.2,152.0 L24.8,155.0 L25.3,158.0 L25.8,161.0 L26.1,164.0" stroke="#a8280a" stroke-width="0.8" opacity="0.45"/>
<path d="M26.5,41.0 L26.5,44.0 L26.5,47.0 L26.5,50.0 L26.5,53.0 L26.5,56.0 L26.5,59.0 L26.4,62.0 L26.4,65.0 L26.4,68.0 L26.4,71.0 L26.5,74.0 L26.5,77.0 L26.6,80.0 L26.7,83.0 L26.7,86.0 L26.8,89.0 L26.8,92.0 L26.9,95.0 L27.0,98.0 L27.1,101.0 L27.5,104.0 L27.9,107.0 L28.3,110.0 L28.8,113.0 L29.2,116.0 L29.5,119.0 L29.9,122.0 L30.3,125.0 L30.7,128.0" stroke="#a8280a" stroke-width="0.8"/>
<path d="M30.7,128.0 L31.0,131.0 L31.4,134.0 L31.7,137.0 L32.0,140.0 L32.2,143.0 L32.5,146.0 L32.6,149.0 L32.7,152.0 L32.8,155.0 L32.6,158.0 L32.4,161.0 L31.9,164.0" stroke="#a8280a" stroke-width="0.8" opacity="0.45"/>
<path d="M12.6,41.0 L12.6,44.0 L12.5,47.0 L12.5,50.0 L12.4,53.0 L12.4,56.0 L12.3,59.0 L12.3,62.0 L12.3,65.0 L12.2,68.0 L12.2,71.0 L12.2,74.0 L12.2,77.0 L12.1,80.0 L12.1,83.0 L12.1,86.0 L12.1,89.0 L12.1,92.0 L12.1,95.0 L12.0,98.0 L12.1,101.0 L12.5,104.0 L12.8,107.0 L13.1,110.0 L13.4,113.0 L13.7,116.0 L14.1,119.0 L14.4,122.0 L14.8,125.0 L15.1,128.0 L15.5,131.0 L15.9,134.0 L16.4,137.0 L16.8,140.0 L17.3,143.0 L17.8,146.0 L18.6,149.0 L19.4,152.0 L20.2,155.0 L21.1,158.0 L22.1,161.0 L22.8,164.0" stroke="#3a0c04" stroke-width="1.5" opacity="0.9"/>
<path d="M31.6,41.0 L31.6,44.0 L31.6,47.0 L31.6,50.0 L31.6,53.0 L31.6,56.0 L31.6,59.0 L31.6,62.0 L31.6,65.0 L31.6,68.0 L31.6,71.0 L31.7,74.0 L31.8,77.0 L31.8,80.0 L31.9,83.0 L32.0,86.0 L32.1,89.0 L32.2,92.0 L32.3,95.0 L32.4,98.0 L32.6,101.0 L33.0,104.0 L33.4,107.0 L33.9,110.0 L34.3,113.0 L34.7,116.0 L35.2,119.0 L35.5,122.0 L35.9,125.0 L36.3,128.0 L36.7,131.0 L37.0,134.0 L37.2,137.0 L37.4,140.0 L37.6,143.0 L37.9,146.0 L37.7,149.0 L37.6,152.0 L37.4,155.0 L36.8,158.0 L36.1,161.0 L35.2,164.0" stroke="#3a0c04" stroke-width="1.5" opacity="0.9"/>
</g>
<g filter="url(#bl05)" fill="none">
<path d="M18.1,141.6 L18.4,143.6 L18.7,145.6 L19.2,147.6 L19.7,149.6 L20.2,151.6 L20.7,153.6 L21.2,155.6 L21.8,157.6 L22.4,159.6 L22.9,161.6 L23.4,163.6" stroke="#8a8418" stroke-width="0.9" stroke-dasharray="0.8 1.2" opacity="0.45"/>
<path d="M18.8,126.8 L19.0,128.8 L19.2,130.8 L19.5,132.8 L19.8,134.8 L20.0,136.8 L20.3,138.8 L20.6,140.8 L20.9,142.8 L21.2,144.8 L21.5,146.8 L22.0,148.8 L22.4,150.8 L22.8,152.8 L23.2,154.8 L23.7,156.8 L24.1,158.8 L24.5,160.8 L24.9,162.8 L25.1,164.8" stroke="#8a8418" stroke-width="0.9" stroke-dasharray="0.8 1.2" opacity="0.45"/>
<path d="M22.0,131.9 L22.3,133.9 L22.6,135.9 L22.8,137.9 L23.1,139.9 L23.4,141.9 L23.6,143.9 L23.9,145.9 L24.2,147.9 L24.6,149.9 L24.9,151.9 L25.2,153.9 L25.6,155.9 L25.9,157.9 L26.2,159.9 L26.5,161.9 L26.6,163.9" stroke="#8a8418" stroke-width="0.9" stroke-dasharray="0.8 1.2" opacity="0.45"/>
<path d="M28.1,116.0 L28.4,118.0 L28.6,120.0 L28.9,122.0 L29.1,124.0 L29.4,126.0 L29.6,128.0 L29.8,130.0 L30.1,132.0 L30.3,134.0 L30.5,136.0 L30.7,138.0 L30.9,140.0 L31.1,142.0 L31.3,144.0 L31.5,146.0 L31.6,148.0 L31.7,150.0 L31.8,152.0 L31.9,154.0 L31.9,156.0 L31.8,158.0 L31.7,160.0 L31.6,162.0 L31.2,164.0" stroke="#8a8418" stroke-width="0.9" stroke-dasharray="0.8 1.2" opacity="0.45"/>
<path d="M31.6,122.8 L31.9,124.8 L32.1,126.8 L32.4,128.8 L32.6,130.8 L32.9,132.8 L33.1,134.8 L33.2,136.8 L33.4,138.8 L33.6,140.8 L33.8,142.8 L33.9,144.8 L34.1,146.8 L34.1,148.8 L34.1,150.8 L34.1,152.8 L34.1,154.8 L33.9,156.8 L33.7,158.8 L33.5,160.8 L33.1,162.8 L32.6,164.8" stroke="#8a8418" stroke-width="0.9" stroke-dasharray="0.8 1.2" opacity="0.45"/>
<path d="M33.9,119.5 L34.1,121.5 L34.4,123.5 L34.6,125.5 L34.9,127.5 L35.1,129.5 L35.4,131.5 L35.6,133.5 L35.8,135.5 L35.9,137.5 L36.1,139.5 L36.2,141.5 L36.4,143.5 L36.6,145.5 L36.5,147.5 L36.5,149.5 L36.4,151.5 L36.4,153.5 L36.2,155.5 L35.9,157.5 L35.5,159.5 L35.1,161.5 L34.5,163.5" stroke="#8a8418" stroke-width="0.9" stroke-dasharray="0.8 1.2" opacity="0.45"/>
<path d="M25.1,134.6 L25.3,136.6 L25.5,138.6 L25.8,140.6 L26.0,142.6 L26.3,144.6 L26.5,146.6 L26.8,148.6 L27.0,150.6 L27.3,152.6 L27.6,154.6 L27.7,156.6 L27.9,158.6 L28.1,160.6 L28.2,162.6 L28.1,164.6" stroke="#8a8418" stroke-width="0.9" stroke-dasharray="0.8 1.2" opacity="0.45"/>
<path d="M26.4,124.0 L26.7,126.0 L26.9,128.0 L27.2,130.0 L27.4,132.0 L27.6,134.0 L27.9,136.0 L28.1,138.0 L28.3,140.0 L28.5,142.0 L28.7,144.0 L29.0,146.0 L29.2,148.0 L29.3,150.0 L29.5,152.0 L29.7,154.0 L29.8,156.0 L29.8,158.0 L29.9,160.0 L29.9,162.0 L29.7,164.0" stroke="#8a8418" stroke-width="0.9" stroke-dasharray="0.8 1.2" opacity="0.45"/>
</g>
<g filter="url(#bl1)" fill="none">
<path d="M10.0,38.0 L10.0,41.0 L9.9,44.0 L9.9,47.0 L9.8,50.0 L9.8,53.0 L9.7,56.0 L9.7,59.0 L9.6,62.0 L9.6,65.0 L9.5,68.0 L9.5,71.0 L9.5,74.0 L9.4,77.0 L9.4,80.0 L9.4,83.0 L9.3,86.0 L9.3,89.0 L9.3,92.0 L9.2,95.0 L9.2,98.0 L9.3,101.0 L9.6,104.0 L9.9,107.0 L10.2,110.0 L10.5,113.0 L10.8,116.0 L11.1,119.0 L11.5,122.0 L11.8,125.0 L12.2,128.0 L12.6,131.0 L13.0,134.0 L13.5,137.0 L14.0,140.0 L14.5,143.0 L15.0,146.0 L15.9,149.0 L16.9,152.0 L17.8,155.0 L19.0,158.0 L20.1,161.0 L21.1,164.0 L22.0,167.0 L23.8,170.0 L25.0,172.0 L33.0,172.0 L34.0,170.0 L35.4,167.0 L36.7,164.0 L37.9,161.0 L38.7,158.0 L39.6,155.0 L39.9,152.0 L40.1,149.0 L40.4,146.0 L40.2,143.0 L40.0,140.0 L39.8,137.0 L39.7,134.0 L39.3,131.0 L39.0,128.0 L38.6,125.0 L38.2,122.0 L37.8,119.0 L37.4,116.0 L37.0,113.0 L36.5,110.0 L36.1,107.0 L35.6,104.0 L35.1,101.0 L34.9,98.0 L34.8,95.0 L34.7,92.0 L34.6,89.0 L34.5,86.0 L34.4,83.0 L34.3,80.0 L34.2,77.0 L34.1,74.0 L34.0,71.0 L34.0,68.0 L34.0,65.0 L34.0,62.0 L34.0,59.0 L34.0,56.0 L34.0,53.0 L34.0,50.0 L34.0,47.0 L34.0,44.0 L34.0,41.0 L34.0,38.0 Z" stroke="#f02c0e" stroke-width="2.0"/>
</g>
<g filter="url(#bl1)" fill="none" stroke-linecap="round">
<path d="M22.3,41 C22.5,70 23,90 24.3,104" stroke="#34b81c" stroke-width="2.6" opacity="0.9"/>
<path d="M24.3,104 Q26.3,120 27.4,132" stroke="#34a81c" stroke-width="1.8" opacity="0.75" stroke-dasharray="5 2"/>
<path d="M22.3,41 C22.5,70 23,90 24,100" stroke="#68e830" stroke-width="1.1" opacity="0.9"/>
<path d="M21.2,41 C21.4,70 21.8,90 23,104" stroke="#7a2008" stroke-width="0.6" opacity="0.6" stroke-dasharray="3 4"/>
<path d="M18.3,60 C18.3,80 18.6,95 19.5,108" stroke="#50a018" stroke-width="0.9" opacity="0.8"/>
<path d="M24,150 Q26,164 30,166 Q34,164 35,152" stroke="#c0a810" stroke-width="1.8" opacity="0.6"/>
</g>
</g>
<text x="41.00" y="52.30" font-size="4.4" text-anchor="middle" font-family="Liberation Sans, sans-serif" fill="#fff" font-weight="bold" stroke="#fff" stroke-width="0.25">72h</text>
<text x="40.80" y="57.60" font-size="4.4" text-anchor="middle" font-family="Liberation Sans, sans-serif" fill="#fff" font-weight="bold" stroke="#fff" stroke-width="0.25">+Fe</text>
<rect x="7.2" y="159.3" width="5" height="1.2" fill="#fff"/>
<text x="9.70" y="158.40" font-size="2.2" text-anchor="middle" font-family="Liberation Sans, sans-serif" fill="#ddd" >50 µm</text>
<g clip-path="url(#ca2)">
<rect x="49.6" y="41" width="53.8" height="127" fill="#000"/>
<defs><clipPath id="fov"><path d="M66,41 L103.4,41 L103.4,150 L94,168 L62,168 L49.6,148 L49.6,70 Z"/></clipPath></defs>
<g clip-path="url(#fov)"><rect x="49.6" y="41" width="53.8" height="127" filter="url(#noise)" opacity="0.38"/></g>
<path d="M75.5,38.0 L74.4,41.0 L73.5,44.0 L72.5,47.0 L71.6,50.0 L70.6,53.0 L69.7,56.0 L68.9,59.0 L68.1,62.0 L67.3,65.0 L66.5,68.0 L65.9,71.0 L65.4,74.0 L65.0,77.0 L64.6,80.0 L64.2,83.0 L63.8,86.0 L63.4,89.0 L63.2,92.0 L63.0,95.0 L62.9,98.0 L62.7,101.0 L62.5,104.0 L62.4,107.0 L62.4,110.0 L62.5,113.0 L62.5,116.0 L62.5,119.0 L62.6,122.0 L62.7,125.0 L62.9,128.0 L63.0,131.0 L63.2,134.0 L63.3,137.0 L63.7,140.0 L64.1,143.0 L64.5,146.0 L64.9,149.0 L65.6,152.0 L66.6,155.0 L67.5,158.0 L69.2,161.0 L71.0,164.0 L74.0,167.0 L77.0,170.0 L79.0,172.0 L86.0,172.0 L86.8,170.0 L87.8,167.0 L88.5,164.0 L88.4,161.0 L88.3,158.0 L88.0,155.0 L87.7,152.0 L87.4,149.0 L87.1,146.0 L86.9,143.0 L86.6,140.0 L86.3,137.0 L86.2,134.0 L86.2,131.0 L86.1,128.0 L86.1,125.0 L86.0,122.0 L86.0,119.0 L86.1,116.0 L86.1,113.0 L86.2,110.0 L86.3,107.0 L86.4,104.0 L86.6,101.0 L86.8,98.0 L87.0,95.0 L87.2,92.0 L87.4,89.0 L87.8,86.0 L88.2,83.0 L88.6,80.0 L89.0,77.0 L89.4,74.0 L89.9,71.0 L90.5,68.0 L91.3,65.0 L92.1,62.0 L92.9,59.0 L93.7,56.0 L94.6,53.0 L95.5,50.0 L96.4,47.0 L97.3,44.0 L98.2,41.0 L99.0,38.0 Z" fill="#5c1806"/>
<g filter="url(#bl1)" fill="none" stroke-linecap="round">
<path d="M85.8,153.9 L85.9,156.9 L86.3,159.9 L86.7,162.9 L86.4,165.9" stroke="#452407" stroke-width="1.08" opacity="0.85"/>
<path d="M84.5,43.9 L83.4,46.9 L82.3,49.9" stroke="#c5240a" stroke-width="1.16" opacity="0.85"/>
<path d="M80.8,111.1 L80.6,114.1 L80.7,117.1 L80.7,120.1 L80.5,123.1 L80.5,126.1 L80.8,129.1 L81.0,132.1" stroke="#937711" stroke-width="1.03" opacity="0.85"/>
<path d="M77.3,94.2 L76.8,97.2 L76.5,100.2 L76.3,103.2 L76.1,106.2 L76.2,109.2 L76.4,112.2 L76.5,115.2" stroke="#301605" stroke-width="0.99" opacity="0.85"/>
<path d="M71.9,85.0 L71.4,88.0 L71.6,91.0 L71.4,94.0 L71.2,97.0" stroke="#5e1207" stroke-width="1.19" opacity="0.85"/>
<path d="M68.7,105.9 L68.1,108.9 L68.4,111.9 L68.1,114.9 L68.6,117.9 L68.5,120.9 L68.8,123.9 L68.9,126.9 L69.1,129.9 L68.9,132.9" stroke="#917611" stroke-width="0.85" opacity="0.85"/>
<path d="M85.1,130.1 L85.4,133.1 L85.3,136.1 L85.9,139.1 L86.2,142.1" stroke="#ae230a" stroke-width="0.87" opacity="0.85"/>
<path d="M75.9,53.3 L75.1,56.3 L74.6,59.3 L73.5,62.3 L72.7,65.3 L72.2,68.3 L71.5,71.3" stroke="#4e0f06" stroke-width="1.43" opacity="0.85"/>
<path d="M83.0,122.8 L83.1,125.8 L83.2,128.8 L83.5,131.8 L83.4,134.8 L83.5,137.8" stroke="#887411" stroke-width="1.28" opacity="0.85"/>
<path d="M89.6,53.9 L89.2,56.9 L87.9,59.9 L87.4,62.9 L86.6,65.9 L85.6,68.9 L85.2,71.9 L84.7,74.9" stroke="#4f0f06" stroke-width="1.45" opacity="0.85"/>
<path d="M73.6,126.5 L73.3,129.5 L73.7,132.5" stroke="#4f2a08" stroke-width="0.83" opacity="0.85"/>
<path d="M67.7,94.5 L67.4,97.5 L67.3,100.5 L67.0,103.5 L66.8,106.5 L67.2,109.5" stroke="#4a2708" stroke-width="1.13" opacity="0.85"/>
<path d="M66.9,145.3 L67.1,148.3 L67.7,151.3 L68.6,154.3 L69.4,157.3 L71.2,160.3 L72.4,163.3 L74.8,166.3" stroke="#4e2a08" stroke-width="1.31" opacity="0.85"/>
<path d="M72.9,138.2 L73.3,141.2 L73.7,144.2 L74.4,147.2 L74.6,150.2 L75.0,153.2" stroke="#5a690f" stroke-width="0.95" opacity="0.85"/>
<path d="M81.3,55.4 L80.1,58.4 L79.7,61.4 L78.7,64.4 L77.6,67.4 L77.3,70.4 L76.5,73.4" stroke="#641407" stroke-width="0.93" opacity="0.85"/>
<path d="M78.0,58.4 L77.0,61.4 L76.1,64.4 L75.8,67.4 L74.9,70.4 L74.2,73.4 L74.2,76.4 L73.8,79.4 L72.9,82.4" stroke="#5b1206" stroke-width="1.06" opacity="0.85"/>
<path d="M63.5,113.7 L63.7,116.7 L63.7,119.7 L63.7,122.7" stroke="#6b6d0f" stroke-width="1.34" opacity="0.85"/>
<path d="M78.7,79.9 L78.2,82.9 L77.9,85.9 L77.5,88.9" stroke="#631307" stroke-width="0.89" opacity="0.85"/>
<path d="M83.2,92.9 L83.4,95.9 L83.2,98.9 L83.0,101.9 L82.3,104.9" stroke="#817210" stroke-width="1.53" opacity="0.85"/>
<path d="M72.2,133.1 L72.2,136.1 L72.3,139.1 L72.7,142.1 L72.9,145.1 L73.4,148.1 L73.9,151.1 L74.8,154.1 L75.4,157.1" stroke="#3b1d06" stroke-width="1.35" opacity="0.85"/>
<path d="M76.2,70.3 L75.6,73.3 L75.5,76.3 L74.8,79.3 L74.4,82.3" stroke="#c6240a" stroke-width="0.86" opacity="0.85"/>
<path d="M72.4,113.4 L72.9,116.4 L72.6,119.4 L72.6,122.4 L72.6,125.4 L72.6,128.4 L73.0,131.4 L73.4,134.4 L73.4,137.4 L73.7,140.4" stroke="#c0290b" stroke-width="1.09" opacity="0.85"/>
<path d="M81.4,73.5 L81.0,76.5 L80.3,79.5 L79.8,82.5" stroke="#ae1d08" stroke-width="1.23" opacity="0.85"/>
<path d="M80.6,58.3 L79.7,61.3 L78.7,64.3 L78.0,67.3 L77.6,70.3 L76.8,73.3 L76.4,76.3 L76.1,79.3" stroke="#531006" stroke-width="1.38" opacity="0.85"/>
<path d="M75.8,135.1 L76.2,138.1 L76.0,141.1 L76.7,144.1 L77.2,147.1" stroke="#971c08" stroke-width="1.41" opacity="0.85"/>
<path d="M85.7,54.4 L84.9,57.4 L84.6,60.4 L83.7,63.4 L83.1,66.4 L82.1,69.4 L81.5,72.4 L80.9,75.4 L80.7,78.4 L80.5,81.4" stroke="#516f0e" stroke-width="1.44" opacity="0.85"/>
<path d="M79.1,145.2 L79.0,148.2 L79.4,151.2 L79.9,154.2" stroke="#807210" stroke-width="0.76" opacity="0.85"/>
<path d="M85.0,57.9 L84.2,60.9 L83.5,63.9 L82.6,66.9 L81.5,69.9 L81.5,72.9 L80.8,75.9 L80.5,78.9 L80.1,81.9 L79.9,84.9" stroke="#601307" stroke-width="1.38" opacity="0.85"/>
<path d="M73.8,142.6 L73.7,145.6 L74.4,148.6" stroke="#492608" stroke-width="1.25" opacity="0.85"/>
<path d="M87.9,58.0 L87.1,61.0 L86.5,64.0 L85.6,67.0" stroke="#e92f0d" stroke-width="1.25" opacity="0.85"/>
<path d="M75.2,111.6 L75.3,114.6 L75.2,117.6 L75.4,120.6 L75.4,123.6 L75.1,126.6 L75.4,129.6 L75.4,132.6 L75.4,135.6 L75.8,138.6" stroke="#cc2c0d" stroke-width="0.94" opacity="0.85"/>
<path d="M85.3,132.4 L85.1,135.4 L85.5,138.4" stroke="#3a1c06" stroke-width="1.50" opacity="0.85"/>
<path d="M79.0,45.6 L78.3,48.6 L77.4,51.6 L76.5,54.6 L75.5,57.6 L74.5,60.6 L74.2,63.6" stroke="#93750f" stroke-width="1.36" opacity="0.85"/>
<path d="M69.3,128.9 L69.5,131.9 L69.8,134.9 L69.7,137.9 L70.2,140.9 L70.4,143.9" stroke="#616a0f" stroke-width="0.78" opacity="0.85"/>
<path d="M85.7,61.7 L84.8,64.7 L83.7,67.7 L83.3,70.7 L82.9,73.7 L82.4,76.7 L82.2,79.7 L81.8,82.7 L81.2,85.7 L81.0,88.7" stroke="#486e0e" stroke-width="1.47" opacity="0.85"/>
<path d="M69.0,76.5 L68.6,79.5 L68.4,82.5 L67.7,85.5 L67.5,88.5 L67.2,91.5 L66.9,94.5" stroke="#e72f0d" stroke-width="1.27" opacity="0.85"/>
<path d="M77.2,59.3 L76.3,62.3 L75.8,65.3" stroke="#3d0c05" stroke-width="0.77" opacity="0.85"/>
<path d="M80.4,120.1 L80.9,123.1 L80.6,126.1 L81.0,129.1 L80.7,132.1 L80.6,135.1 L81.1,138.1 L81.5,141.1 L81.5,144.1" stroke="#2d1304" stroke-width="1.25" opacity="0.85"/>
<path d="M86.3,156.8 L86.6,159.8 L86.9,162.8 L86.5,165.8" stroke="#d52f0d" stroke-width="0.83" opacity="0.85"/>
<path d="M75.5,111.0 L75.0,114.0 L75.0,117.0 L75.0,120.0 L75.1,123.0 L75.4,126.0 L75.7,129.0 L75.5,132.0 L75.4,135.0" stroke="#3a1c06" stroke-width="0.98" opacity="0.85"/>
<path d="M80.5,80.6 L80.2,83.6 L79.7,86.6 L79.5,89.6 L79.2,92.6 L78.7,95.6 L78.7,98.6" stroke="#c7250a" stroke-width="1.36" opacity="0.85"/>
<path d="M80.8,134.4 L80.5,137.4 L81.1,140.4 L81.5,143.4 L81.9,146.4 L82.2,149.4 L82.4,152.4 L82.7,155.4" stroke="#cb2c0c" stroke-width="1.19" opacity="0.85"/>
<path d="M82.6,119.2 L83.2,122.2 L83.0,125.2 L83.2,128.2" stroke="#532d09" stroke-width="1.22" opacity="0.85"/>
<path d="M85.0,71.5 L84.1,74.5 L83.8,77.5 L83.5,80.5 L82.8,83.5 L82.6,86.5 L82.7,89.5" stroke="#521006" stroke-width="1.09" opacity="0.85"/>
<path d="M88.2,62.4 L87.4,65.4 L86.5,68.4 L85.9,71.4 L85.5,74.4 L85.6,77.4 L84.6,80.4 L84.5,83.4 L83.9,86.4" stroke="#380b04" stroke-width="1.27" opacity="0.85"/>
<path d="M91.1,41.4 L90.2,44.4 L89.4,47.4 L88.2,50.4 L87.7,53.4" stroke="#ab1c08" stroke-width="1.07" opacity="0.85"/>
<path d="M69.5,132.9 L69.5,135.9 L69.8,138.9 L70.6,141.9" stroke="#311605" stroke-width="0.78" opacity="0.85"/>
<path d="M75.4,100.1 L74.8,103.1 L75.0,106.1 L75.0,109.1 L75.2,112.1 L74.6,115.1 L74.8,118.1" stroke="#981c08" stroke-width="0.74" opacity="0.85"/>
<path d="M70.2,110.0 L70.3,113.0 L70.3,116.0" stroke="#927711" stroke-width="1.19" opacity="0.85"/>
<path d="M81.9,99.0 L82.1,102.0 L81.7,105.0" stroke="#897411" stroke-width="1.33" opacity="0.85"/>
<path d="M70.8,134.5 L70.7,137.5 L71.2,140.5 L71.6,143.5" stroke="#552e09" stroke-width="0.75" opacity="0.85"/>
<path d="M87.7,67.2 L86.9,70.2 L86.8,73.2" stroke="#b82009" stroke-width="1.08" opacity="0.85"/>
<path d="M67.1,72.7 L67.2,75.7 L66.4,78.7 L66.3,81.7 L65.5,84.7 L65.5,87.7" stroke="#601307" stroke-width="1.51" opacity="0.85"/>
<path d="M87.4,71.8 L87.4,74.8 L86.9,77.8 L86.6,80.8" stroke="#641407" stroke-width="1.40" opacity="0.85"/>
<path d="M91.3,59.9 L90.5,62.9 L89.8,65.9 L89.1,68.9 L88.8,71.9 L88.2,74.9 L87.7,77.9 L87.4,80.9" stroke="#350a04" stroke-width="1.18" opacity="0.85"/>
<path d="M67.7,136.6 L68.3,139.6 L68.8,142.6 L69.3,145.6 L69.7,148.6 L69.9,151.6 L71.0,154.6 L71.8,157.6 L73.2,160.6" stroke="#b3250a" stroke-width="1.19" opacity="0.85"/>
<path d="M80.9,80.2 L80.4,83.2 L79.7,86.2 L79.3,89.2 L79.0,92.2 L79.3,95.2 L79.1,98.2 L78.6,101.2 L78.3,104.2" stroke="#4f0f06" stroke-width="1.11" opacity="0.85"/>
<path d="M80.7,64.3 L79.9,67.3 L79.3,70.3 L79.1,73.3 L78.2,76.3 L77.9,79.3 L77.5,82.3" stroke="#3e0c05" stroke-width="1.32" opacity="0.85"/>
<path d="M70.6,99.0 L70.3,102.0 L70.2,105.0 L70.0,108.0 L70.2,111.0 L70.1,114.0 L70.3,117.0 L70.2,120.0 L70.2,123.0" stroke="#4b2808" stroke-width="1.09" opacity="0.85"/>
<path d="M91.3,62.3 L90.1,65.3 L89.4,68.3" stroke="#581106" stroke-width="0.78" opacity="0.85"/>
<path d="M88.6,43.5 L87.4,46.5 L86.7,49.5 L85.5,52.5 L84.6,55.5 L84.0,58.5" stroke="#8e750f" stroke-width="1.05" opacity="0.85"/>
<path d="M79.9,123.4 L80.4,126.4 L80.1,129.4 L80.3,132.4" stroke="#371a05" stroke-width="0.91" opacity="0.85"/>
<path d="M63.9,124.9 L64.1,127.9 L64.1,130.9 L63.9,133.9 L64.1,136.9 L64.5,139.9 L64.8,142.9 L65.5,145.9" stroke="#573009" stroke-width="1.60" opacity="0.85"/>
<path d="M78.0,84.1 L77.9,87.1 L77.4,90.1 L77.4,93.1 L77.2,96.1 L76.9,99.1 L76.5,102.1 L76.7,105.1" stroke="#3b0b05" stroke-width="0.80" opacity="0.85"/>
<path d="M65.9,90.2 L65.7,93.2 L65.3,96.2 L65.3,99.2 L65.1,102.2 L65.0,105.2 L64.8,108.2 L65.1,111.2 L65.0,114.2 L64.7,117.2" stroke="#626b0f" stroke-width="1.44" opacity="0.85"/>
<path d="M81.5,64.4 L80.7,67.4 L79.7,70.4 L79.4,73.4 L78.7,76.4 L78.4,79.4 L78.0,82.4" stroke="#6d1507" stroke-width="1.01" opacity="0.85"/>
<path d="M79.4,101.5 L79.4,104.5 L79.2,107.5 L79.2,110.5" stroke="#6f6e10" stroke-width="1.17" opacity="0.85"/>
<path d="M75.3,88.8 L75.0,91.8 L74.8,94.8 L74.8,97.8 L74.6,100.8 L74.4,103.8" stroke="#696c0f" stroke-width="0.76" opacity="0.85"/>
<path d="M71.7,68.7 L70.7,71.7 L70.2,74.7 L70.1,77.7 L69.9,80.7 L69.4,83.7" stroke="#3a0b05" stroke-width="1.14" opacity="0.85"/>
<path d="M74.8,156.8 L76.1,159.8 L77.0,162.8 L78.7,165.8" stroke="#cc2c0d" stroke-width="0.73" opacity="0.85"/>
<path d="M67.8,152.6 L68.5,155.6 L69.9,158.6 L71.1,161.6 L73.0,164.6 L75.6,167.6" stroke="#512c08" stroke-width="1.18" opacity="0.85"/>
<path d="M66.1,76.4 L65.5,79.4 L65.1,82.4" stroke="#400c05" stroke-width="0.72" opacity="0.85"/>
<path d="M77.6,80.6 L77.1,83.6 L76.5,86.6" stroke="#a7770f" stroke-width="0.91" opacity="0.85"/>
<path d="M78.8,72.6 L78.3,75.6 L77.6,78.6 L77.6,81.6 L76.7,84.6" stroke="#2b0804" stroke-width="0.91" opacity="0.85"/>
<path d="M84.6,79.4 L84.2,82.4 L84.0,85.4 L83.7,88.4 L83.1,91.4 L83.0,94.4 L82.7,97.4 L82.4,100.4 L82.2,103.4 L82.0,106.4" stroke="#651407" stroke-width="0.82" opacity="0.85"/>
<path d="M70.6,92.3 L70.4,95.3 L70.1,98.3 L69.8,101.3 L69.8,104.3 L70.1,107.3 L69.6,110.3 L69.8,113.3 L69.7,116.3 L70.0,119.3" stroke="#827311" stroke-width="1.00" opacity="0.85"/>
<path d="M63.8,101.7 L64.1,104.7 L64.1,107.7 L64.1,110.7 L64.1,113.7 L63.8,116.7 L64.0,119.7 L64.0,122.7" stroke="#2f1404" stroke-width="1.50" opacity="0.85"/>
<path d="M77.4,86.2 L77.6,89.2 L77.1,92.2 L76.9,95.2 L77.0,98.2 L76.7,101.2 L76.1,104.2 L76.3,107.2 L76.2,110.2" stroke="#4f0f06" stroke-width="0.76" opacity="0.85"/>
<path d="M80.0,73.4 L79.6,76.4 L78.9,79.4 L78.8,82.4 L78.2,85.4" stroke="#81730f" stroke-width="1.20" opacity="0.85"/>
<path d="M68.9,78.7 L68.3,81.7 L68.1,84.7 L67.6,87.7 L67.3,90.7 L67.4,93.7 L67.0,96.7 L66.5,99.7 L66.8,102.7 L66.2,105.7" stroke="#a0770f" stroke-width="1.15" opacity="0.85"/>
<path d="M70.1,94.9 L69.9,97.9 L69.4,100.9 L69.3,103.9" stroke="#3d1e06" stroke-width="1.18" opacity="0.85"/>
<path d="M67.6,80.6 L67.5,83.6 L67.2,86.6 L66.9,89.6 L66.5,92.6 L66.0,95.6" stroke="#476e0e" stroke-width="1.43" opacity="0.85"/>
<path d="M70.1,92.9 L70.2,95.9 L69.8,98.9 L69.8,101.9 L69.5,104.9 L69.5,107.9 L69.4,110.9 L69.8,113.9" stroke="#ce2d0d" stroke-width="0.76" opacity="0.85"/>
<path d="M71.1,83.9 L70.8,86.9 L70.8,89.9 L70.7,92.9" stroke="#310904" stroke-width="1.28" opacity="0.85"/>
<path d="M70.9,128.4 L71.0,131.4 L71.1,134.4 L71.2,137.4 L71.7,140.4 L72.1,143.4 L72.2,146.4 L72.5,149.4 L73.1,152.4" stroke="#777010" stroke-width="1.38" opacity="0.85"/>
<path d="M74.2,59.6 L73.2,62.6 L72.8,65.6 L72.0,68.6 L71.0,71.6 L70.7,74.6 L70.5,77.6" stroke="#7b730f" stroke-width="1.28" opacity="0.85"/>
<path d="M85.0,60.5 L84.3,63.5 L83.9,66.5 L82.6,69.5 L82.1,72.5 L82.1,75.5" stroke="#4e0f06" stroke-width="1.44" opacity="0.85"/>
<path d="M77.6,97.6 L77.7,100.6 L77.3,103.6 L77.1,106.6 L77.0,109.6 L77.0,112.6" stroke="#482507" stroke-width="0.94" opacity="0.85"/>
<path d="M77.1,126.2 L76.9,129.2 L77.2,132.2" stroke="#3b1d06" stroke-width="0.85" opacity="0.85"/>
<path d="M77.0,156.8 L77.8,159.8 L79.1,162.8 L80.1,165.8" stroke="#381b06" stroke-width="1.29" opacity="0.85"/>
<path d="M66.2,141.7 L66.2,144.7 L66.9,147.7 L67.1,150.7" stroke="#432207" stroke-width="1.11" opacity="0.85"/>
<path d="M65.9,124.2 L65.7,127.2 L66.4,130.2 L66.0,133.2 L66.5,136.2 L66.9,139.2 L67.0,142.2 L67.6,145.2 L67.6,148.2" stroke="#291104" stroke-width="0.88" opacity="0.85"/>
<path d="M80.4,109.4 L80.2,112.4 L80.3,115.4 L80.6,118.4 L80.4,121.4 L80.5,124.4 L80.6,127.4 L80.4,130.4 L81.0,133.4" stroke="#847311" stroke-width="1.48" opacity="0.85"/>
<path d="M76.0,110.6 L75.6,113.6 L76.0,116.6 L75.9,119.6 L75.8,122.6 L75.7,125.6" stroke="#b4250a" stroke-width="1.19" opacity="0.85"/>
<path d="M77.7,75.9 L77.0,78.9 L76.9,81.9" stroke="#90750f" stroke-width="1.51" opacity="0.85"/>
<path d="M72.1,71.7 L71.1,74.7 L71.2,77.7 L70.6,80.7 L70.5,83.7 L70.0,86.7" stroke="#b01d08" stroke-width="0.75" opacity="0.85"/>
<path d="M73.6,106.1 L73.7,109.1 L73.5,112.1 L73.2,115.1 L73.2,118.1 L73.3,121.1 L73.9,124.1 L73.9,127.1" stroke="#281004" stroke-width="1.59" opacity="0.85"/>
<path d="M70.2,94.1 L70.2,97.1 L69.7,100.1 L69.8,103.1 L69.4,106.1 L69.4,109.1 L69.8,112.1 L69.6,115.1 L69.4,118.1 L69.6,121.1" stroke="#371a05" stroke-width="1.18" opacity="0.85"/>
<path d="M84.9,84.0 L84.6,87.0 L84.1,90.0 L84.3,93.0 L83.6,96.0" stroke="#661407" stroke-width="1.25" opacity="0.85"/>
<path d="M68.5,99.0 L68.4,102.0 L67.7,105.0 L67.8,108.0 L67.8,111.0 L67.7,114.0 L67.8,117.0 L68.0,120.0 L68.2,123.0" stroke="#7a7110" stroke-width="0.70" opacity="0.85"/>
<path d="M73.5,105.3 L73.3,108.3 L73.4,111.3 L73.3,114.3 L73.7,117.3 L73.6,120.3 L73.3,123.3 L73.6,126.3" stroke="#d52f0d" stroke-width="1.34" opacity="0.85"/>
<path d="M72.8,115.8 L72.5,118.8 L72.7,121.8 L72.7,124.8 L72.9,127.8 L73.0,130.8 L72.9,133.8 L73.1,136.8 L73.5,139.8 L73.9,142.8" stroke="#4a2708" stroke-width="1.07" opacity="0.85"/>
<path d="M77.9,83.8 L77.5,86.8 L77.3,89.8 L77.0,92.8 L77.0,95.8 L77.2,98.8" stroke="#c2230a" stroke-width="0.99" opacity="0.85"/>
<path d="M74.3,149.6 L74.5,152.6 L75.1,155.6 L76.4,158.6 L77.1,161.6 L78.5,164.6 L80.1,167.6" stroke="#c0290b" stroke-width="1.56" opacity="0.85"/>
<path d="M85.7,103.5 L85.1,106.5 L85.2,109.5 L85.5,112.5 L85.4,115.5" stroke="#7d7110" stroke-width="0.78" opacity="0.85"/>
<path d="M83.2,143.9 L83.6,146.9 L84.0,149.9 L84.1,152.9 L84.8,155.9 L84.9,158.9" stroke="#3f2006" stroke-width="1.17" opacity="0.85"/>
<path d="M85.6,48.1 L84.8,51.1 L83.6,54.1 L82.8,57.1" stroke="#5d1207" stroke-width="1.59" opacity="0.85"/>
<path d="M78.7,156.3 L79.5,159.3 L80.0,162.3 L80.9,165.3" stroke="#4a2708" stroke-width="1.35" opacity="0.85"/>
<path d="M73.8,63.9 L72.5,66.9 L72.0,69.9 L71.5,72.9 L71.0,75.9 L71.0,78.9 L70.0,81.9 L70.2,84.9 L69.6,87.9 L69.6,90.9" stroke="#df2c0c" stroke-width="0.99" opacity="0.85"/>
<path d="M74.1,148.1 L74.3,151.1 L74.9,154.1 L76.0,157.1 L76.5,160.1 L78.1,163.1 L79.0,166.1" stroke="#787010" stroke-width="0.94" opacity="0.85"/>
<path d="M86.2,77.6 L85.8,80.6 L85.8,83.6 L85.3,86.6 L84.7,89.6 L84.8,92.6 L84.6,95.6 L83.9,98.6" stroke="#581106" stroke-width="0.86" opacity="0.85"/>
<path d="M81.5,66.3 L80.8,69.3 L80.2,72.3 L79.8,75.3 L79.7,78.3" stroke="#370b04" stroke-width="1.23" opacity="0.85"/>
<path d="M73.2,156.3 L74.2,159.3 L75.7,162.3" stroke="#341805" stroke-width="1.16" opacity="0.85"/>
<path d="M81.9,69.7 L81.4,72.7 L80.9,75.7 L80.3,78.7 L79.8,81.7 L79.5,84.7 L79.5,87.7 L79.3,90.7 L78.8,93.7 L78.4,96.7" stroke="#4f0f06" stroke-width="1.02" opacity="0.85"/>
<path d="M70.3,152.3 L71.5,155.3 L72.4,158.3 L73.5,161.3" stroke="#2b1204" stroke-width="1.15" opacity="0.85"/>
<path d="M82.0,121.2 L81.8,124.2 L82.0,127.2 L82.0,130.2 L82.2,133.2 L82.0,136.2" stroke="#48640e" stroke-width="0.85" opacity="0.85"/>
<path d="M69.8,75.4 L69.6,78.4 L69.2,81.4 L68.6,84.4 L68.2,87.4 L68.0,90.4 L67.8,93.4 L67.4,96.4 L67.4,99.4" stroke="#db2b0c" stroke-width="1.39" opacity="0.85"/>
<path d="M86.1,71.3 L85.3,74.3 L85.1,77.3 L84.6,80.3 L84.2,83.3 L83.6,86.3" stroke="#3c0c05" stroke-width="1.53" opacity="0.85"/>
<path d="M78.5,83.8 L77.7,86.8 L77.9,89.8 L77.5,92.8 L77.2,95.8 L76.9,98.8 L77.1,101.8 L76.4,104.8" stroke="#4c0f06" stroke-width="1.10" opacity="0.85"/>
<path d="M78.6,77.5 L78.4,80.5 L77.8,83.5 L77.4,86.5 L77.5,89.5" stroke="#536f0e" stroke-width="0.87" opacity="0.85"/>
<path d="M90.5,61.0 L89.5,64.0 L89.0,67.0 L88.3,70.0 L87.9,73.0 L87.1,76.0 L86.9,79.0" stroke="#576f0e" stroke-width="0.84" opacity="0.85"/>
<path d="M74.9,94.7 L74.6,97.7 L74.9,100.7 L74.4,103.7" stroke="#52670e" stroke-width="1.31" opacity="0.85"/>
<path d="M72.4,102.1 L72.1,105.1 L72.1,108.1 L72.3,111.1 L72.3,114.1 L72.3,117.1" stroke="#502b08" stroke-width="1.58" opacity="0.85"/>
<path d="M80.6,71.9 L79.6,74.9 L79.4,77.9 L79.1,80.9 L78.4,83.9 L78.1,86.9 L77.8,89.9" stroke="#d2280b" stroke-width="1.28" opacity="0.85"/>
<path d="M75.7,124.6 L75.7,127.6 L75.5,130.6 L75.6,133.6 L75.6,136.6" stroke="#321705" stroke-width="1.07" opacity="0.85"/>
<path d="M84.7,151.2 L85.2,154.2 L85.3,157.2" stroke="#3b1d06" stroke-width="0.92" opacity="0.85"/>
<path d="M85.2,113.5 L84.9,116.5 L84.8,119.5 L85.0,122.5" stroke="#50660e" stroke-width="1.07" opacity="0.85"/>
<path d="M87.6,65.2 L86.8,68.2 L86.0,71.2 L85.6,74.2 L84.8,77.2 L84.6,80.2" stroke="#b61f09" stroke-width="1.04" opacity="0.85"/>
<path d="M80.9,47.8 L80.2,50.8 L78.9,53.8 L78.1,56.8 L77.3,59.8 L76.5,62.8" stroke="#d5290b" stroke-width="1.25" opacity="0.85"/>
<path d="M83.1,95.4 L83.2,98.4 L82.9,101.4 L82.8,104.4 L82.6,107.4 L82.7,110.4 L82.7,113.4 L82.2,116.4 L82.5,119.4 L82.5,122.4" stroke="#3b1d06" stroke-width="1.25" opacity="0.85"/>
<path d="M77.2,63.1 L76.1,66.1 L75.1,69.1 L74.6,72.1 L74.3,75.1 L74.1,78.1 L73.2,81.1 L73.0,84.1 L72.8,87.1" stroke="#3a0b05" stroke-width="0.99" opacity="0.85"/>
<path d="M65.2,110.7 L65.3,113.7 L65.0,116.7 L65.1,119.7 L65.2,122.7 L65.4,125.7 L65.3,128.7 L65.6,131.7 L65.6,134.7" stroke="#4a2708" stroke-width="1.21" opacity="0.85"/>
<path d="M82.6,138.4 L83.0,141.4 L83.1,144.4 L83.5,147.4 L84.1,150.4" stroke="#593109" stroke-width="1.36" opacity="0.85"/>
<path d="M67.0,114.3 L67.2,117.3 L67.2,120.3 L67.4,123.3 L67.1,126.3 L67.4,129.3 L67.7,132.3 L67.6,135.3 L68.1,138.3" stroke="#b1240a" stroke-width="0.75" opacity="0.85"/>
<path d="M87.8,80.2 L87.1,83.2 L87.0,86.2 L86.1,89.2 L86.2,92.2 L85.7,95.2 L85.7,98.2" stroke="#561106" stroke-width="1.56" opacity="0.85"/>
<path d="M76.5,55.8 L75.6,58.8 L75.0,61.8 L74.2,64.8 L73.6,67.8 L72.5,70.8 L72.1,73.8 L71.6,76.8 L71.7,79.8 L71.2,82.8" stroke="#7b730f" stroke-width="0.85" opacity="0.85"/>
<path d="M71.9,92.3 L71.3,95.3 L71.2,98.3 L71.4,101.3 L71.3,104.3 L71.0,107.3 L71.0,110.3 L70.9,113.3 L70.9,116.3" stroke="#746f10" stroke-width="1.07" opacity="0.85"/>
<path d="M76.7,134.0 L76.8,137.0 L77.2,140.0 L77.4,143.0 L77.7,146.0 L77.7,149.0 L78.2,152.0 L78.7,155.0 L79.6,158.0 L80.4,161.0" stroke="#3e1f06" stroke-width="1.10" opacity="0.85"/>
<path d="M65.9,146.1 L66.2,149.1 L67.1,152.1 L68.0,155.1 L68.9,158.1 L70.4,161.1 L72.5,164.1 L74.8,167.1" stroke="#59680e" stroke-width="0.97" opacity="0.85"/>
<path d="M77.0,86.5 L76.5,89.5 L76.6,92.5" stroke="#551106" stroke-width="1.48" opacity="0.85"/>
<path d="M64.2,102.4 L64.3,105.4 L64.1,108.4" stroke="#827311" stroke-width="1.40" opacity="0.85"/>
<path d="M68.6,125.2 L68.6,128.2 L68.5,131.2 L68.8,134.2" stroke="#cb2c0c" stroke-width="0.71" opacity="0.85"/>
<path d="M87.5,44.0 L86.7,47.0 L85.6,50.0 L84.5,53.0" stroke="#ba2109" stroke-width="1.48" opacity="0.85"/>
<path d="M80.9,75.6 L80.9,78.6 L80.5,81.6 L79.8,84.6 L79.5,87.6 L79.5,90.6 L78.8,93.6" stroke="#cd270b" stroke-width="0.87" opacity="0.85"/>
<path d="M74.7,134.6 L74.9,137.6 L75.2,140.6 L75.6,143.6 L75.8,146.6 L76.5,149.6 L77.0,152.6 L77.6,155.6" stroke="#857311" stroke-width="1.03" opacity="0.85"/>
<path d="M78.4,132.5 L78.3,135.5 L78.5,138.5 L78.8,141.5 L79.0,144.5 L79.4,147.5" stroke="#321705" stroke-width="0.80" opacity="0.85"/>
<path d="M63.8,122.9 L64.1,125.9 L64.3,128.9 L64.5,131.9 L64.4,134.9 L64.8,137.9" stroke="#573009" stroke-width="1.16" opacity="0.85"/>
<path d="M77.6,120.0 L77.7,123.0 L78.2,126.0 L78.0,129.0 L78.4,132.0" stroke="#51660e" stroke-width="0.74" opacity="0.85"/>
<path d="M79.9,136.4 L80.0,139.4 L80.5,142.4 L80.5,145.4 L81.2,148.4 L81.1,151.4 L82.1,154.4 L82.5,157.4 L83.2,160.4 L83.5,163.4" stroke="#7b7110" stroke-width="1.43" opacity="0.85"/>
<path d="M72.2,100.8 L72.1,103.8 L72.2,106.8 L72.1,109.8 L72.0,112.8 L72.1,115.8" stroke="#512c09" stroke-width="0.85" opacity="0.85"/>
<path d="M79.2,41.0 L78.2,44.0 L77.3,47.0 L76.4,50.0 L75.4,53.0 L74.5,56.0 L73.7,59.0 L72.9,62.0 L72.1,65.0 L71.3,68.0 L70.7,71.0 L70.2,74.0 L69.8,77.0 L69.4,80.0 L69.0,83.0 L68.6,86.0 L68.2,89.0 L68.0,92.0 L67.8,95.0" stroke="#d8300c" stroke-width="1.0"/>
<path d="M67.8,95.0 L67.6,98.0 L67.4,101.0 L67.2,104.0 L67.2,107.0 L67.2,110.0 L67.2,113.0 L67.2,116.0 L67.2,119.0 L67.3,122.0 L67.4,125.0 L67.5,128.0 L67.7,131.0 L67.8,134.0 L67.9,137.0 L68.3,140.0 L68.6,143.0 L69.0,146.0 L69.4,149.0 L70.0,152.0 L70.8,155.0 L71.7,158.0 L73.1,161.0 L74.5,164.0" stroke="#d8300c" stroke-width="1.0" opacity="0.45"/>
<path d="M93.4,41.0 L92.5,44.0 L91.6,47.0 L90.7,50.0 L89.8,53.0 L88.9,56.0 L88.1,59.0 L87.3,62.0 L86.5,65.0 L85.7,68.0 L85.1,71.0 L84.6,74.0 L84.2,77.0 L83.8,80.0 L83.4,83.0 L83.0,86.0 L82.6,89.0 L82.4,92.0 L82.2,95.0" stroke="#d8300c" stroke-width="1.0"/>
<path d="M82.2,95.0 L82.0,98.0 L81.8,101.0 L81.6,104.0 L81.5,107.0 L81.4,110.0 L81.4,113.0 L81.4,116.0 L81.3,119.0 L81.3,122.0 L81.4,125.0 L81.5,128.0 L81.6,131.0 L81.6,134.0 L81.7,137.0 L82.0,140.0 L82.3,143.0 L82.6,146.0 L82.9,149.0 L83.3,152.0 L83.7,155.0 L84.1,158.0 L84.6,161.0 L85.0,164.0" stroke="#d8300c" stroke-width="1.0" opacity="0.45"/>
<path d="M82.0,41.0 L81.1,44.0 L80.2,47.0 L79.2,50.0 L78.3,53.0 L77.4,56.0 L76.6,59.0 L75.8,62.0 L75.0,65.0 L74.2,68.0 L73.5,71.0 L73.1,74.0 L72.7,77.0 L72.3,80.0 L71.9,83.0 L71.5,86.0 L71.1,89.0 L70.9,92.0 L70.7,95.0" stroke="#a8280a" stroke-width="0.8"/>
<path d="M70.7,95.0 L70.5,98.0 L70.3,101.0 L70.1,104.0 L70.0,107.0 L70.0,110.0 L70.0,113.0 L70.0,116.0 L70.0,119.0 L70.1,122.0 L70.2,125.0 L70.3,128.0 L70.4,131.0 L70.5,134.0 L70.7,137.0 L71.0,140.0 L71.4,143.0 L71.7,146.0 L72.1,149.0 L72.7,152.0 L73.4,155.0 L74.2,158.0 L75.4,161.0 L76.6,164.0" stroke="#a8280a" stroke-width="0.8" opacity="0.45"/>
<path d="M90.8,41.0 L89.9,44.0 L89.0,47.0 L88.1,50.0 L87.2,53.0 L86.3,56.0 L85.5,59.0 L84.7,62.0 L83.9,65.0 L83.1,68.0 L82.4,71.0 L82.0,74.0 L81.6,77.0 L81.2,80.0 L80.8,83.0 L80.3,86.0 L80.0,89.0 L79.8,92.0 L79.6,95.0" stroke="#a8280a" stroke-width="0.8"/>
<path d="M79.6,95.0 L79.4,98.0 L79.2,101.0 L79.0,104.0 L78.9,107.0 L78.8,110.0 L78.8,113.0 L78.8,116.0 L78.7,119.0 L78.8,122.0 L78.8,125.0 L78.9,128.0 L79.0,131.0 L79.1,134.0 L79.2,137.0 L79.5,140.0 L79.8,143.0 L80.1,146.0 L80.4,149.0 L80.9,152.0 L81.4,155.0 L81.9,158.0 L82.5,161.0 L83.1,164.0" stroke="#a8280a" stroke-width="0.8" opacity="0.45"/>
<path d="M77.0,41.0 L76.1,44.0 L75.1,47.0 L74.2,50.0 L73.3,53.0 L72.4,56.0 L71.6,59.0 L70.8,62.0 L70.0,65.0 L69.2,68.0 L68.5,71.0 L68.1,74.0 L67.7,77.0 L67.3,80.0 L66.8,83.0 L66.4,86.0 L66.1,89.0 L65.9,92.0 L65.7,95.0 L65.5,98.0 L65.3,101.0 L65.1,104.0 L65.0,107.0 L65.0,110.0 L65.1,113.0 L65.1,116.0 L65.1,119.0 L65.2,122.0 L65.3,125.0 L65.4,128.0 L65.6,131.0 L65.7,134.0 L65.8,137.0 L66.2,140.0 L66.6,143.0 L67.0,146.0 L67.3,149.0 L68.1,152.0 L68.9,155.0 L69.8,158.0 L71.4,161.0 L72.9,164.0" stroke="#3a0c04" stroke-width="1.5" opacity="0.9"/>
<path d="M95.8,41.0 L94.9,44.0 L94.0,47.0 L93.1,50.0 L92.2,53.0 L91.3,56.0 L90.5,59.0 L89.7,62.0 L88.9,65.0 L88.1,68.0 L87.5,71.0 L87.0,74.0 L86.6,77.0 L86.2,80.0 L85.8,83.0 L85.4,86.0 L85.0,89.0 L84.8,92.0 L84.6,95.0 L84.4,98.0 L84.2,101.0 L84.0,104.0 L83.9,107.0 L83.8,110.0 L83.8,113.0 L83.7,116.0 L83.7,119.0 L83.7,122.0 L83.8,125.0 L83.8,128.0 L83.9,131.0 L83.9,134.0 L84.0,137.0 L84.3,140.0 L84.6,143.0 L84.9,146.0 L85.2,149.0 L85.5,152.0 L85.9,155.0 L86.2,158.0 L86.5,161.0 L86.8,164.0" stroke="#3a0c04" stroke-width="1.5" opacity="0.9"/>
</g>
<g filter="url(#bl05)" fill="none">
<path d="M66.2,102.4 L66.0,104.4 L66.0,106.4 L66.0,108.4 L66.0,110.4 L66.0,112.4 L66.0,114.4 L66.0,116.4 L66.0,118.4 L66.0,120.4 L66.1,122.4 L66.2,124.4 L66.3,126.4 L66.4,128.4 L66.5,130.4 L66.6,132.4 L66.6,134.4 L66.7,136.4 L66.9,138.4 L67.2,140.4 L67.4,142.4 L67.7,144.4 L67.9,146.4 L68.2,148.4 L68.5,150.4 L69.1,152.4 L69.6,154.4 L70.2,156.4 L70.8,158.4 L71.8,160.4 L72.8,162.4 L74.0,164.4" stroke="#8a8418" stroke-width="0.9" stroke-dasharray="0.8 1.2" opacity="0.45"/>
<path d="M69.0,95.4 L68.9,97.4 L68.7,99.4 L68.6,101.4 L68.5,103.4 L68.4,105.4 L68.4,107.4 L68.4,109.4 L68.4,111.4 L68.4,113.4 L68.4,115.4 L68.4,117.4 L68.4,119.4 L68.4,121.4 L68.5,123.4 L68.6,125.4 L68.7,127.4 L68.8,129.4 L68.8,131.4 L68.9,133.4 L69.0,135.4 L69.1,137.4 L69.3,139.4 L69.6,141.4 L69.8,143.4 L70.1,145.4 L70.3,147.4 L70.6,149.4 L71.0,151.4 L71.5,153.4 L72.0,155.4 L72.6,157.4 L73.3,159.4 L74.2,161.4 L75.1,163.4" stroke="#8a8418" stroke-width="0.9" stroke-dasharray="0.8 1.2" opacity="0.45"/>
<path d="M70.8,104.1 L70.8,106.1 L70.8,108.1 L70.8,110.1 L70.7,112.1 L70.7,114.1 L70.7,116.1 L70.7,118.1 L70.7,120.1 L70.8,122.1 L70.9,124.1 L70.9,126.1 L71.0,128.1 L71.1,130.1 L71.2,132.1 L71.2,134.1 L71.3,136.1 L71.5,138.1 L71.7,140.1 L71.9,142.1 L72.2,144.1 L72.4,146.1 L72.7,148.1 L72.9,150.1 L73.4,152.1 L73.8,154.1 L74.3,156.1 L74.8,158.1 L75.6,160.1 L76.4,162.1 L77.2,164.1" stroke="#8a8418" stroke-width="0.9" stroke-dasharray="0.8 1.2" opacity="0.45"/>
<path d="M78.2,101.7 L78.0,103.7 L77.9,105.7 L77.9,107.7 L77.9,109.7 L77.9,111.7 L77.8,113.7 L77.8,115.7 L77.8,117.7 L77.8,119.7 L77.8,121.7 L77.9,123.7 L77.9,125.7 L78.0,127.7 L78.0,129.7 L78.1,131.7 L78.2,133.7 L78.2,135.7 L78.3,137.7 L78.5,139.7 L78.7,141.7 L79.0,143.7 L79.2,145.7 L79.4,147.7 L79.6,149.7 L79.9,151.7 L80.3,153.7 L80.6,155.7 L81.0,157.7 L81.4,159.7 L81.8,161.7 L82.3,163.7" stroke="#8a8418" stroke-width="0.9" stroke-dasharray="0.8 1.2" opacity="0.45"/>
<path d="M81.6,86.9 L81.4,88.9 L81.3,90.9 L81.2,92.9 L81.0,94.9 L80.9,96.9 L80.7,98.9 L80.6,100.9 L80.5,102.9 L80.3,104.9 L80.3,106.9 L80.3,108.9 L80.2,110.9 L80.2,112.9 L80.2,114.9 L80.2,116.9 L80.1,118.9 L80.1,120.9 L80.2,122.9 L80.2,124.9 L80.3,126.9 L80.3,128.9 L80.4,130.9 L80.4,132.9 L80.5,134.9 L80.5,136.9 L80.7,138.9 L81.0,140.9 L81.2,142.9 L81.4,144.9 L81.6,146.9 L81.8,148.9 L82.0,150.9 L82.3,152.9 L82.6,154.9 L82.9,156.9 L83.3,158.9 L83.6,160.9 L83.9,162.9 L84.2,164.9" stroke="#8a8418" stroke-width="0.9" stroke-dasharray="0.8 1.2" opacity="0.45"/>
<path d="M83.9,87.6 L83.8,89.6 L83.6,91.6 L83.5,93.6 L83.4,95.6 L83.2,97.6 L83.1,99.6 L82.9,101.6 L82.8,103.6 L82.7,105.6 L82.7,107.6 L82.6,109.6 L82.6,111.6 L82.6,113.6 L82.5,115.6 L82.5,117.6 L82.5,119.6 L82.5,121.6 L82.6,123.6 L82.6,125.6 L82.6,127.6 L82.7,129.6 L82.7,131.6 L82.8,133.6 L82.8,135.6 L82.9,137.6 L83.1,139.6 L83.3,141.6 L83.5,143.6 L83.7,145.6 L83.9,147.6 L84.1,149.6 L84.3,151.6 L84.6,153.6 L84.9,155.6 L85.1,157.6 L85.4,159.6 L85.6,161.6 L85.8,163.6" stroke="#8a8418" stroke-width="0.9" stroke-dasharray="0.8 1.2" opacity="0.45"/>
<path d="M73.8,95.9 L73.6,97.9 L73.5,99.9 L73.4,101.9 L73.2,103.9 L73.2,105.9 L73.1,107.9 L73.1,109.9 L73.1,111.9 L73.1,113.9 L73.1,115.9 L73.1,117.9 L73.1,119.9 L73.1,121.9 L73.2,123.9 L73.3,125.9 L73.3,127.9 L73.4,129.9 L73.5,131.9 L73.5,133.9 L73.6,135.9 L73.8,137.9 L74.0,139.9 L74.2,141.9 L74.4,143.9 L74.7,145.9 L74.9,147.9 L75.1,149.9 L75.5,151.9 L76.0,153.9 L76.4,155.9 L76.8,157.9 L77.5,159.9 L78.2,161.9 L78.8,163.9" stroke="#8a8418" stroke-width="0.9" stroke-dasharray="0.8 1.2" opacity="0.45"/>
<path d="M76.2,95.4 L76.1,97.4 L75.9,99.4 L75.8,101.4 L75.7,103.4 L75.5,105.4 L75.5,107.4 L75.5,109.4 L75.5,111.4 L75.5,113.4 L75.5,115.4 L75.4,117.4 L75.4,119.4 L75.5,121.4 L75.5,123.4 L75.6,125.4 L75.7,127.4 L75.7,129.4 L75.8,131.4 L75.8,133.4 L75.9,135.4 L76.0,137.4 L76.2,139.4 L76.4,141.4 L76.7,143.4 L76.9,145.4 L77.1,147.4 L77.3,149.4 L77.6,151.4 L78.0,153.4 L78.4,155.4 L78.8,157.4 L79.3,159.4 L79.9,161.4 L80.5,163.4" stroke="#8a8418" stroke-width="0.9" stroke-dasharray="0.8 1.2" opacity="0.45"/>
</g>
<g filter="url(#bl1)" fill="none">
<path d="M75.5,38.0 L74.4,41.0 L73.5,44.0 L72.5,47.0 L71.6,50.0 L70.6,53.0 L69.7,56.0 L68.9,59.0 L68.1,62.0 L67.3,65.0 L66.5,68.0 L65.9,71.0 L65.4,74.0 L65.0,77.0 L64.6,80.0 L64.2,83.0 L63.8,86.0 L63.4,89.0 L63.2,92.0 L63.0,95.0 L62.9,98.0 L62.7,101.0 L62.5,104.0 L62.4,107.0 L62.4,110.0 L62.5,113.0 L62.5,116.0 L62.5,119.0 L62.6,122.0 L62.7,125.0 L62.9,128.0 L63.0,131.0 L63.2,134.0 L63.3,137.0 L63.7,140.0 L64.1,143.0 L64.5,146.0 L64.9,149.0 L65.6,152.0 L66.6,155.0 L67.5,158.0 L69.2,161.0 L71.0,164.0 L74.0,167.0 L77.0,170.0 L79.0,172.0 L86.0,172.0 L86.8,170.0 L87.8,167.0 L88.5,164.0 L88.4,161.0 L88.3,158.0 L88.0,155.0 L87.7,152.0 L87.4,149.0 L87.1,146.0 L86.9,143.0 L86.6,140.0 L86.3,137.0 L86.2,134.0 L86.2,131.0 L86.1,128.0 L86.1,125.0 L86.0,122.0 L86.0,119.0 L86.1,116.0 L86.1,113.0 L86.2,110.0 L86.3,107.0 L86.4,104.0 L86.6,101.0 L86.8,98.0 L87.0,95.0 L87.2,92.0 L87.4,89.0 L87.8,86.0 L88.2,83.0 L88.6,80.0 L89.0,77.0 L89.4,74.0 L89.9,71.0 L90.5,68.0 L91.3,65.0 L92.1,62.0 L92.9,59.0 L93.7,56.0 L94.6,53.0 L95.5,50.0 L96.4,47.0 L97.3,44.0 L98.2,41.0 L99.0,38.0 Z" stroke="#f02c0e" stroke-width="2.0"/>
</g>
<g filter="url(#bl1)" fill="none" stroke-linecap="round">
<path d="M86,41 C82,60 78,75 76,90" stroke="#f03c0a" stroke-width="2"/>
<path d="M75,75 C73,90 74,100 75,112" stroke="#50a018" stroke-width="1.5" opacity="0.75"/>
</g>
<circle cx="91.2" cy="122.4" r="0.5" fill="#e02010"/>
</g>
<text x="99.60" y="52.30" font-size="4.4" text-anchor="middle" font-family="Liberation Sans, sans-serif" fill="#fff" font-weight="bold" stroke="#fff" stroke-width="0.25">72h</text>
<text x="100.60" y="57.60" font-size="4.4" text-anchor="middle" font-family="Liberation Sans, sans-serif" fill="#fff" font-weight="bold" stroke="#fff" stroke-width="0.25">-Fe</text>
<rect x="54.7" y="143.1" width="4.8" height="1.2" fill="#fff"/>
<text x="57.00" y="142.20" font-size="2.2" text-anchor="middle" font-family="Liberation Sans, sans-serif" fill="#ddd" >50 µm</text>
<rect x="133.6" y="37.7" width="3.4" height="3.4" fill="#808080" stroke="#000" stroke-width="0.7"/>
<text x="144.00" y="41.70" font-size="6.5" text-anchor="start" font-family="Liberation Serif, serif" fill="#000" >72h +Fe</text>
<rect x="179.2" y="37.7" width="3.4" height="3.4" fill="#fff" stroke="#000" stroke-width="0.7"/>
<text x="188.80" y="41.70" font-size="6.5" text-anchor="start" font-family="Liberation Serif, serif" fill="#000" >72h -Fe</text>
<line x1="132.00" y1="54.00" x2="132.00" y2="145.00" stroke="#000" stroke-width="1.0"/>
<line x1="131.50" y1="144.50" x2="222.60" y2="144.50" stroke="#000" stroke-width="1.0"/>
<line x1="129.50" y1="54.50" x2="132.00" y2="54.50" stroke="#000" stroke-width="0.8"/>
<text x="128.60" y="56.40" font-size="5.8" text-anchor="end" font-family="Liberation Serif, serif" fill="#000" >600</text>
<line x1="129.50" y1="84.50" x2="132.00" y2="84.50" stroke="#000" stroke-width="0.8"/>
<text x="128.60" y="86.40" font-size="5.8" text-anchor="end" font-family="Liberation Serif, serif" fill="#000" >400</text>
<line x1="129.50" y1="114.50" x2="132.00" y2="114.50" stroke="#000" stroke-width="0.8"/>
<text x="128.60" y="116.40" font-size="5.8" text-anchor="end" font-family="Liberation Serif, serif" fill="#000" >200</text>
<line x1="129.50" y1="144.50" x2="132.00" y2="144.50" stroke="#000" stroke-width="0.8"/>
<text x="128.60" y="146.40" font-size="5.8" text-anchor="end" font-family="Liberation Serif, serif" fill="#000" >0</text>
<line x1="153.00" y1="144.50" x2="153.00" y2="147.30" stroke="#000" stroke-width="0.8"/>
<line x1="201.60" y1="144.50" x2="201.60" y2="147.30" stroke="#000" stroke-width="0.8"/>
<text transform="translate(116.4,102.3) rotate(-90)" font-size="7.7" text-anchor="middle" font-family="Liberation Serif, serif">Distance (µm)</text>
<line x1="144.85" y1="95.40" x2="144.85" y2="100.50" stroke="#000" stroke-width="0.95"/>
<line x1="144.85" y1="117.60" x2="144.85" y2="135.50" stroke="#000" stroke-width="0.95"/>
<line x1="141.65" y1="95.40" x2="148.05" y2="95.40" stroke="#000" stroke-width="0.95"/>
<line x1="141.65" y1="135.50" x2="148.05" y2="135.50" stroke="#000" stroke-width="0.95"/>
<rect x="139.20" y="100.50" width="11.30" height="17.10" fill="#808080" stroke="#000" stroke-width="0.95"/>
<line x1="139.20" y1="110.30" x2="150.50" y2="110.30" stroke="#000" stroke-width="0.95"/>
<rect x="144.92" y="102.18" width="1.8" height="1.8" fill="#000"/>
<rect x="143.09" y="108.76" width="1.8" height="1.8" fill="#000"/>
<rect x="140.99" y="108.28" width="1.8" height="1.8" fill="#000"/>
<rect x="141.33" y="100.79" width="1.8" height="1.8" fill="#000"/>
<rect x="141.54" y="113.74" width="1.8" height="1.8" fill="#000"/>
<rect x="146.82" y="110.33" width="1.8" height="1.8" fill="#000"/>
<rect x="147.00" y="106.38" width="1.8" height="1.8" fill="#000"/>
<rect x="142.60" y="114.28" width="1.8" height="1.8" fill="#000"/>
<rect x="142.72" y="101.61" width="1.8" height="1.8" fill="#000"/>
<rect x="144.47" y="101.75" width="1.8" height="1.8" fill="#000"/>
<rect x="144.26" y="109.43" width="1.8" height="1.8" fill="#000"/>
<rect x="142.07" y="100.62" width="1.8" height="1.8" fill="#000"/>
<rect x="142.76" y="111.65" width="1.8" height="1.8" fill="#000"/>
<rect x="142.67" y="107.35" width="1.8" height="1.8" fill="#000"/>
<rect x="142.31" y="122.53" width="1.8" height="1.8" fill="#000"/>
<rect x="146.35" y="108.58" width="1.8" height="1.8" fill="#000"/>
<line x1="162.90" y1="88.70" x2="162.90" y2="106.30" stroke="#000" stroke-width="0.95"/>
<line x1="162.90" y1="120.80" x2="162.90" y2="132.90" stroke="#000" stroke-width="0.95"/>
<line x1="159.70" y1="88.70" x2="166.10" y2="88.70" stroke="#000" stroke-width="0.95"/>
<line x1="159.70" y1="132.90" x2="166.10" y2="132.90" stroke="#000" stroke-width="0.95"/>
<rect x="156.80" y="106.30" width="12.20" height="14.50" fill="#fff" stroke="#000" stroke-width="0.95"/>
<line x1="156.80" y1="111.70" x2="169.00" y2="111.70" stroke="#000" stroke-width="0.95"/>
<circle cx="165.97" cy="101.43" r="0.95" fill="#000"/>
<circle cx="164.55" cy="112.36" r="0.95" fill="#000"/>
<circle cx="159.95" cy="113.39" r="0.95" fill="#000"/>
<circle cx="163.37" cy="122.49" r="0.95" fill="#000"/>
<circle cx="164.15" cy="102.57" r="0.95" fill="#000"/>
<circle cx="162.62" cy="114.71" r="0.95" fill="#000"/>
<circle cx="162.73" cy="130.45" r="0.95" fill="#000"/>
<circle cx="164.19" cy="91.38" r="0.95" fill="#000"/>
<circle cx="164.96" cy="132.59" r="0.95" fill="#000"/>
<circle cx="163.98" cy="111.89" r="0.95" fill="#000"/>
<circle cx="160.78" cy="112.99" r="0.95" fill="#000"/>
<circle cx="164.62" cy="107.15" r="0.95" fill="#000"/>
<line x1="193.20" y1="72.40" x2="193.20" y2="80.80" stroke="#000" stroke-width="0.95"/>
<line x1="193.20" y1="97.90" x2="193.20" y2="113.70" stroke="#000" stroke-width="0.95"/>
<line x1="190.00" y1="72.40" x2="196.40" y2="72.40" stroke="#000" stroke-width="0.95"/>
<line x1="190.00" y1="113.70" x2="196.40" y2="113.70" stroke="#000" stroke-width="0.95"/>
<rect x="187.40" y="80.80" width="11.60" height="17.10" fill="#808080" stroke="#000" stroke-width="0.95"/>
<line x1="187.40" y1="90.00" x2="199.00" y2="90.00" stroke="#000" stroke-width="0.95"/>
<rect x="191.60" y="84.13" width="1.8" height="1.8" fill="#000"/>
<rect x="191.97" y="74.83" width="1.8" height="1.8" fill="#000"/>
<rect x="194.34" y="95.01" width="1.8" height="1.8" fill="#000"/>
<rect x="191.76" y="83.00" width="1.8" height="1.8" fill="#000"/>
<rect x="195.23" y="95.02" width="1.8" height="1.8" fill="#000"/>
<rect x="190.58" y="82.91" width="1.8" height="1.8" fill="#000"/>
<rect x="192.87" y="88.19" width="1.8" height="1.8" fill="#000"/>
<rect x="191.78" y="79.97" width="1.8" height="1.8" fill="#000"/>
<rect x="195.20" y="89.58" width="1.8" height="1.8" fill="#000"/>
<rect x="193.05" y="92.79" width="1.8" height="1.8" fill="#000"/>
<rect x="194.86" y="73.73" width="1.8" height="1.8" fill="#000"/>
<rect x="194.21" y="107.62" width="1.8" height="1.8" fill="#000"/>
<rect x="189.76" y="86.72" width="1.8" height="1.8" fill="#000"/>
<rect x="189.53" y="74.07" width="1.8" height="1.8" fill="#000"/>
<rect x="191.28" y="82.68" width="1.8" height="1.8" fill="#000"/>
<rect x="190.07" y="79.90" width="1.8" height="1.8" fill="#000"/>
<rect x="189.26" y="86.12" width="1.8" height="1.8" fill="#000"/>
<rect x="190.05" y="96.86" width="1.8" height="1.8" fill="#000"/>
<line x1="210.90" y1="91.60" x2="210.90" y2="98.40" stroke="#000" stroke-width="0.95"/>
<line x1="210.90" y1="107.60" x2="210.90" y2="115.00" stroke="#000" stroke-width="0.95"/>
<line x1="207.70" y1="91.60" x2="214.10" y2="91.60" stroke="#000" stroke-width="0.95"/>
<line x1="207.70" y1="115.00" x2="214.10" y2="115.00" stroke="#000" stroke-width="0.95"/>
<rect x="205.00" y="98.40" width="11.80" height="9.20" fill="#fff" stroke="#000" stroke-width="0.95"/>
<line x1="205.00" y1="102.40" x2="216.80" y2="102.40" stroke="#000" stroke-width="0.95"/>
<circle cx="210.03" cy="101.60" r="0.95" fill="#000"/>
<circle cx="214.06" cy="106.21" r="0.95" fill="#000"/>
<circle cx="208.25" cy="102.85" r="0.95" fill="#000"/>
<circle cx="209.39" cy="101.55" r="0.95" fill="#000"/>
<circle cx="207.85" cy="95.38" r="0.95" fill="#000"/>
<circle cx="208.64" cy="103.96" r="0.95" fill="#000"/>
<circle cx="211.08" cy="98.65" r="0.95" fill="#000"/>
<circle cx="212.16" cy="111.80" r="0.95" fill="#000"/>
<circle cx="208.77" cy="101.77" r="0.95" fill="#000"/>
<circle cx="212.69" cy="104.06" r="0.95" fill="#000"/>
<circle cx="212.89" cy="100.45" r="0.95" fill="#000"/>
<circle cx="212.86" cy="111.55" r="0.95" fill="#000"/>
<circle cx="209.15" cy="108.91" r="0.95" fill="#000"/>
<circle cx="207.89" cy="101.67" r="0.95" fill="#000"/>
<path d="M192.6,63 V57.4 H211.6 V80.3" fill="none" stroke="#000" stroke-width="0.95"/>
<text x="202.20" y="56.60" font-size="9" text-anchor="middle" font-family="Liberation Sans, sans-serif" fill="#000" font-weight="bold">*</text>
<text x="152.40" y="158.60" font-size="8.3" text-anchor="middle" font-family="Liberation Sans, sans-serif" fill="#000" >QC up to</text>
<text x="152.40" y="168.40" font-size="8.3" text-anchor="middle" font-family="Liberation Sans, sans-serif" fill="#000" >pDOF1.5:GFP</text>
<text x="152.40" y="178.20" font-size="8.3" text-anchor="middle" font-family="Liberation Sans, sans-serif" fill="#000" >signal</text>
<text x="201.80" y="161.60" font-size="8.3" text-anchor="middle" font-family="Liberation Sans, sans-serif" fill="#000" >QC to EZ</text>
<line x1="280.00" y1="8.10" x2="280.00" y2="164.90" stroke="#000" stroke-width="1.0"/>
<line x1="279.50" y1="164.40" x2="489.00" y2="164.40" stroke="#000" stroke-width="1.0"/>
<line x1="277.40" y1="8.60" x2="280.00" y2="8.60" stroke="#000" stroke-width="1.0"/>
<text x="276.40" y="10.70" font-size="5.9" text-anchor="end" font-family="Liberation Sans, sans-serif" fill="#000" >6</text>
<line x1="277.40" y1="60.50" x2="280.00" y2="60.50" stroke="#000" stroke-width="1.0"/>
<text x="276.40" y="62.60" font-size="5.9" text-anchor="end" font-family="Liberation Sans, sans-serif" fill="#000" >4</text>
<line x1="277.40" y1="112.40" x2="280.00" y2="112.40" stroke="#000" stroke-width="1.0"/>
<text x="276.40" y="114.50" font-size="5.9" text-anchor="end" font-family="Liberation Sans, sans-serif" fill="#000" >2</text>
<line x1="277.40" y1="164.40" x2="280.00" y2="164.40" stroke="#000" stroke-width="1.0"/>
<text x="276.40" y="166.50" font-size="5.9" text-anchor="end" font-family="Liberation Sans, sans-serif" fill="#000" >0</text>
<line x1="351.60" y1="5.50" x2="351.60" y2="164.40" stroke="#000" stroke-width="0.95"/>
<line x1="417.80" y1="5.50" x2="417.80" y2="164.40" stroke="#000" stroke-width="0.95"/>
<text transform="translate(260.4,86.4) rotate(-90)" font-size="8" text-anchor="middle" font-family="Liberation Sans, sans-serif">Normalized</text>
<text transform="translate(269.2,86.4) rotate(-90)" font-size="8" text-anchor="middle" font-family="Liberation Sans, sans-serif" word-spacing="1.4">Elongation Index / Epidermal Cell Length</text>
<line x1="302.60" y1="82.80" x2="302.60" y2="116.30" stroke="#000" stroke-width="1.0"/>
<line x1="302.60" y1="143.00" x2="302.60" y2="162.50" stroke="#000" stroke-width="1.0"/>
<line x1="297.10" y1="82.80" x2="308.10" y2="82.80" stroke="#000" stroke-width="1.0"/>
<line x1="297.10" y1="162.50" x2="308.10" y2="162.50" stroke="#000" stroke-width="1.0"/>
<rect x="291.80" y="116.30" width="21.60" height="26.70" fill="#74ecec" stroke="#000" stroke-width="1.0"/>
<line x1="291.80" y1="131.30" x2="313.40" y2="131.30" stroke="#000" stroke-width="1.0"/>
<circle cx="302.87" cy="146.68" r="0.6" fill="none" stroke="#111" stroke-width="0.4" stroke-opacity="0.8"/>
<circle cx="306.89" cy="127.76" r="0.6" fill="none" stroke="#111" stroke-width="0.4" stroke-opacity="0.8"/>
<circle cx="302.04" cy="152.05" r="0.6" fill="none" stroke="#111" stroke-width="0.4" stroke-opacity="0.8"/>
<circle cx="300.42" cy="162.00" r="0.6" fill="none" stroke="#111" stroke-width="0.4" stroke-opacity="0.8"/>
<circle cx="302.10" cy="149.19" r="0.6" fill="none" stroke="#111" stroke-width="0.4" stroke-opacity="0.8"/>
<circle cx="304.57" cy="132.48" r="0.6" fill="none" stroke="#111" stroke-width="0.4" stroke-opacity="0.8"/>
<circle cx="304.39" cy="134.40" r="0.6" fill="none" stroke="#111" stroke-width="0.4" stroke-opacity="0.8"/>
<circle cx="299.73" cy="97.03" r="0.6" fill="none" stroke="#111" stroke-width="0.4" stroke-opacity="0.8"/>
<circle cx="299.90" cy="142.79" r="0.6" fill="none" stroke="#111" stroke-width="0.4" stroke-opacity="0.8"/>
<circle cx="299.81" cy="107.72" r="0.6" fill="none" stroke="#111" stroke-width="0.4" stroke-opacity="0.8"/>
<circle cx="304.02" cy="156.70" r="0.6" fill="none" stroke="#111" stroke-width="0.4" stroke-opacity="0.8"/>
<circle cx="300.82" cy="161.11" r="0.6" fill="none" stroke="#111" stroke-width="0.4" stroke-opacity="0.8"/>
<circle cx="299.41" cy="129.67" r="0.6" fill="none" stroke="#111" stroke-width="0.4" stroke-opacity="0.8"/>
<circle cx="305.62" cy="146.01" r="0.6" fill="none" stroke="#111" stroke-width="0.4" stroke-opacity="0.8"/>
<circle cx="305.56" cy="110.63" r="0.6" fill="none" stroke="#111" stroke-width="0.4" stroke-opacity="0.8"/>
<circle cx="302.26" cy="150.75" r="0.6" fill="none" stroke="#111" stroke-width="0.4" stroke-opacity="0.8"/>
<circle cx="305.27" cy="87.53" r="0.6" fill="none" stroke="#111" stroke-width="0.4" stroke-opacity="0.8"/>
<circle cx="300.91" cy="127.59" r="0.6" fill="none" stroke="#111" stroke-width="0.4" stroke-opacity="0.8"/>
<circle cx="303.75" cy="138.19" r="0.6" fill="none" stroke="#111" stroke-width="0.4" stroke-opacity="0.8"/>
<circle cx="300.66" cy="161.65" r="0.6" fill="none" stroke="#111" stroke-width="0.4" stroke-opacity="0.8"/>
<circle cx="305.43" cy="153.92" r="0.6" fill="none" stroke="#111" stroke-width="0.4" stroke-opacity="0.8"/>
<circle cx="302.26" cy="160.67" r="0.6" fill="none" stroke="#111" stroke-width="0.4" stroke-opacity="0.8"/>
<circle cx="304.54" cy="113.76" r="0.6" fill="none" stroke="#111" stroke-width="0.4" stroke-opacity="0.8"/>
<circle cx="302.95" cy="132.11" r="0.6" fill="none" stroke="#111" stroke-width="0.4" stroke-opacity="0.8"/>
<circle cx="302.10" cy="160.07" r="0.6" fill="none" stroke="#111" stroke-width="0.4" stroke-opacity="0.8"/>
<circle cx="301.86" cy="83.80" r="0.6" fill="none" stroke="#111" stroke-width="0.4" stroke-opacity="0.8"/>
<circle cx="304.16" cy="90.05" r="0.6" fill="none" stroke="#111" stroke-width="0.4" stroke-opacity="0.8"/>
<circle cx="300.89" cy="136.42" r="0.6" fill="none" stroke="#111" stroke-width="0.4" stroke-opacity="0.8"/>
<circle cx="304.93" cy="129.44" r="0.6" fill="none" stroke="#111" stroke-width="0.4" stroke-opacity="0.8"/>
<circle cx="306.31" cy="131.34" r="0.6" fill="none" stroke="#111" stroke-width="0.4" stroke-opacity="0.8"/>
<circle cx="305.51" cy="128.34" r="0.6" fill="none" stroke="#111" stroke-width="0.4" stroke-opacity="0.8"/>
<circle cx="305.66" cy="161.51" r="0.6" fill="none" stroke="#111" stroke-width="0.4" stroke-opacity="0.8"/>
<circle cx="304.27" cy="115.30" r="0.6" fill="none" stroke="#111" stroke-width="0.4" stroke-opacity="0.8"/>
<circle cx="300.54" cy="89.58" r="0.6" fill="none" stroke="#111" stroke-width="0.4" stroke-opacity="0.8"/>
<circle cx="304.63" cy="87.72" r="0.6" fill="none" stroke="#111" stroke-width="0.4" stroke-opacity="0.8"/>
<circle cx="302.58" cy="103.34" r="0.6" fill="none" stroke="#111" stroke-width="0.4" stroke-opacity="0.8"/>
<circle cx="302.52" cy="125.54" r="0.6" fill="none" stroke="#111" stroke-width="0.4" stroke-opacity="0.8"/>
<circle cx="303.25" cy="117.02" r="0.6" fill="none" stroke="#111" stroke-width="0.4" stroke-opacity="0.8"/>
<circle cx="302.68" cy="162.00" r="0.6" fill="none" stroke="#111" stroke-width="0.4" stroke-opacity="0.8"/>
<circle cx="305.40" cy="140.99" r="0.6" fill="none" stroke="#111" stroke-width="0.4" stroke-opacity="0.8"/>
<circle cx="299.07" cy="125.42" r="0.6" fill="none" stroke="#111" stroke-width="0.4" stroke-opacity="0.8"/>
<circle cx="305.61" cy="117.79" r="0.6" fill="none" stroke="#111" stroke-width="0.4" stroke-opacity="0.8"/>
<circle cx="301.46" cy="94.49" r="0.6" fill="none" stroke="#111" stroke-width="0.4" stroke-opacity="0.8"/>
<circle cx="304.11" cy="151.17" r="0.6" fill="none" stroke="#111" stroke-width="0.4" stroke-opacity="0.8"/>
<circle cx="304.85" cy="129.81" r="0.6" fill="none" stroke="#111" stroke-width="0.4" stroke-opacity="0.8"/>
<circle cx="299.30" cy="133.20" r="0.6" fill="none" stroke="#111" stroke-width="0.4" stroke-opacity="0.8"/>
<circle cx="301.39" cy="96.24" r="0.6" fill="none" stroke="#111" stroke-width="0.4" stroke-opacity="0.8"/>
<circle cx="301.53" cy="149.36" r="0.6" fill="none" stroke="#111" stroke-width="0.4" stroke-opacity="0.8"/>
<circle cx="301.14" cy="110.38" r="0.6" fill="none" stroke="#111" stroke-width="0.4" stroke-opacity="0.8"/>
<circle cx="302.38" cy="96.93" r="0.6" fill="none" stroke="#111" stroke-width="0.4" stroke-opacity="0.8"/>
<circle cx="303.29" cy="104.45" r="0.6" fill="none" stroke="#111" stroke-width="0.4" stroke-opacity="0.8"/>
<circle cx="303.22" cy="83.80" r="0.6" fill="none" stroke="#111" stroke-width="0.4" stroke-opacity="0.8"/>
<circle cx="298.91" cy="115.95" r="0.6" fill="none" stroke="#111" stroke-width="0.4" stroke-opacity="0.8"/>
<circle cx="302.08" cy="145.13" r="0.6" fill="none" stroke="#111" stroke-width="0.4" stroke-opacity="0.8"/>
<circle cx="300.94" cy="83.80" r="0.6" fill="none" stroke="#111" stroke-width="0.4" stroke-opacity="0.8"/>
<circle cx="301.32" cy="135.87" r="0.6" fill="none" stroke="#111" stroke-width="0.4" stroke-opacity="0.8"/>
<circle cx="304.02" cy="146.31" r="0.6" fill="none" stroke="#111" stroke-width="0.4" stroke-opacity="0.8"/>
<circle cx="303.22" cy="143.88" r="0.6" fill="none" stroke="#111" stroke-width="0.4" stroke-opacity="0.8"/>
<circle cx="303.85" cy="158.14" r="0.6" fill="none" stroke="#111" stroke-width="0.4" stroke-opacity="0.8"/>
<circle cx="296.76" cy="139.29" r="0.6" fill="none" stroke="#111" stroke-width="0.4" stroke-opacity="0.8"/>
<circle cx="305.09" cy="148.80" r="0.6" fill="none" stroke="#111" stroke-width="0.4" stroke-opacity="0.8"/>
<circle cx="301.29" cy="123.31" r="0.6" fill="none" stroke="#111" stroke-width="0.4" stroke-opacity="0.8"/>
<circle cx="299.26" cy="162.00" r="0.6" fill="none" stroke="#111" stroke-width="0.4" stroke-opacity="0.8"/>
<circle cx="309.10" cy="139.66" r="0.6" fill="none" stroke="#111" stroke-width="0.4" stroke-opacity="0.8"/>
<circle cx="303.91" cy="109.84" r="0.6" fill="none" stroke="#111" stroke-width="0.4" stroke-opacity="0.8"/>
<circle cx="302.37" cy="162.00" r="0.6" fill="none" stroke="#111" stroke-width="0.4" stroke-opacity="0.8"/>
<circle cx="305.13" cy="141.64" r="0.6" fill="none" stroke="#111" stroke-width="0.4" stroke-opacity="0.8"/>
<circle cx="302.43" cy="110.30" r="0.6" fill="none" stroke="#111" stroke-width="0.4" stroke-opacity="0.8"/>
<circle cx="304.91" cy="135.90" r="0.6" fill="none" stroke="#111" stroke-width="0.4" stroke-opacity="0.8"/>
<circle cx="302.05" cy="128.91" r="0.6" fill="none" stroke="#111" stroke-width="0.4" stroke-opacity="0.8"/>
<circle cx="301.92" cy="107.95" r="0.6" fill="none" stroke="#111" stroke-width="0.4" stroke-opacity="0.8"/>
<circle cx="302.79" cy="148.70" r="0.6" fill="none" stroke="#111" stroke-width="0.4" stroke-opacity="0.8"/>
<circle cx="301.00" cy="111.43" r="0.6" fill="none" stroke="#111" stroke-width="0.4" stroke-opacity="0.8"/>
<circle cx="304.77" cy="162.00" r="0.6" fill="none" stroke="#111" stroke-width="0.4" stroke-opacity="0.8"/>
<circle cx="297.67" cy="143.26" r="0.6" fill="none" stroke="#111" stroke-width="0.4" stroke-opacity="0.8"/>
<circle cx="303.95" cy="142.92" r="0.6" fill="none" stroke="#111" stroke-width="0.4" stroke-opacity="0.8"/>
<circle cx="303.41" cy="162.00" r="0.6" fill="none" stroke="#111" stroke-width="0.4" stroke-opacity="0.8"/>
<circle cx="304.06" cy="128.21" r="0.6" fill="none" stroke="#111" stroke-width="0.4" stroke-opacity="0.8"/>
<circle cx="304.56" cy="88.12" r="0.6" fill="none" stroke="#111" stroke-width="0.4" stroke-opacity="0.8"/>
<circle cx="300.63" cy="136.59" r="0.6" fill="none" stroke="#111" stroke-width="0.4" stroke-opacity="0.8"/>
<circle cx="306.04" cy="157.96" r="0.6" fill="none" stroke="#111" stroke-width="0.4" stroke-opacity="0.8"/>
<circle cx="301.33" cy="99.69" r="0.6" fill="none" stroke="#111" stroke-width="0.4" stroke-opacity="0.8"/>
<circle cx="303.11" cy="135.87" r="0.6" fill="none" stroke="#111" stroke-width="0.4" stroke-opacity="0.8"/>
<circle cx="299.87" cy="121.14" r="0.6" fill="none" stroke="#111" stroke-width="0.4" stroke-opacity="0.8"/>
<circle cx="304.57" cy="162.00" r="0.6" fill="none" stroke="#111" stroke-width="0.4" stroke-opacity="0.8"/>
<circle cx="300.04" cy="104.14" r="0.6" fill="none" stroke="#111" stroke-width="0.4" stroke-opacity="0.8"/>
<circle cx="304.48" cy="162.00" r="0.6" fill="none" stroke="#111" stroke-width="0.4" stroke-opacity="0.8"/>
<circle cx="304.14" cy="162.00" r="0.6" fill="none" stroke="#111" stroke-width="0.4" stroke-opacity="0.8"/>
<circle cx="303.10" cy="111.02" r="0.6" fill="none" stroke="#111" stroke-width="0.4" stroke-opacity="0.8"/>
<circle cx="301.18" cy="83.80" r="0.6" fill="none" stroke="#111" stroke-width="0.4" stroke-opacity="0.8"/>
<circle cx="304.06" cy="128.39" r="0.6" fill="none" stroke="#111" stroke-width="0.4" stroke-opacity="0.8"/>
<circle cx="302.36" cy="114.11" r="0.6" fill="none" stroke="#111" stroke-width="0.4" stroke-opacity="0.8"/>
<circle cx="303.65" cy="139.44" r="0.6" fill="none" stroke="#111" stroke-width="0.4" stroke-opacity="0.8"/>
<circle cx="303.00" cy="143.28" r="0.6" fill="none" stroke="#111" stroke-width="0.4" stroke-opacity="0.8"/>
<circle cx="304.81" cy="122.73" r="0.6" fill="none" stroke="#111" stroke-width="0.4" stroke-opacity="0.8"/>
<circle cx="300.29" cy="130.70" r="0.6" fill="none" stroke="#111" stroke-width="0.4" stroke-opacity="0.8"/>
<circle cx="302.60" cy="116.28" r="0.6" fill="none" stroke="#111" stroke-width="0.4" stroke-opacity="0.8"/>
<circle cx="303.04" cy="127.31" r="0.6" fill="none" stroke="#111" stroke-width="0.4" stroke-opacity="0.8"/>
<circle cx="303.09" cy="129.64" r="0.6" fill="none" stroke="#111" stroke-width="0.4" stroke-opacity="0.8"/>
<circle cx="299.08" cy="126.78" r="0.6" fill="none" stroke="#111" stroke-width="0.4" stroke-opacity="0.8"/>
<circle cx="305.55" cy="138.65" r="0.6" fill="none" stroke="#111" stroke-width="0.4" stroke-opacity="0.8"/>
<circle cx="302.07" cy="138.93" r="0.6" fill="none" stroke="#111" stroke-width="0.4" stroke-opacity="0.8"/>
<circle cx="299.90" cy="139.19" r="0.6" fill="none" stroke="#111" stroke-width="0.4" stroke-opacity="0.8"/>
<circle cx="302.71" cy="89.15" r="0.6" fill="none" stroke="#111" stroke-width="0.4" stroke-opacity="0.8"/>
<circle cx="304.01" cy="109.77" r="0.6" fill="none" stroke="#111" stroke-width="0.4" stroke-opacity="0.8"/>
<circle cx="297.61" cy="106.49" r="0.6" fill="none" stroke="#111" stroke-width="0.4" stroke-opacity="0.8"/>
<circle cx="305.60" cy="107.45" r="0.6" fill="none" stroke="#111" stroke-width="0.4" stroke-opacity="0.8"/>
<circle cx="298.77" cy="121.49" r="0.6" fill="none" stroke="#111" stroke-width="0.4" stroke-opacity="0.8"/>
<circle cx="303.59" cy="113.34" r="0.6" fill="none" stroke="#111" stroke-width="0.4" stroke-opacity="0.8"/>
<circle cx="303.09" cy="140.26" r="0.6" fill="none" stroke="#111" stroke-width="0.4" stroke-opacity="0.8"/>
<circle cx="303.94" cy="161.35" r="0.6" fill="none" stroke="#111" stroke-width="0.4" stroke-opacity="0.8"/>
<circle cx="304.27" cy="129.20" r="0.6" fill="none" stroke="#111" stroke-width="0.4" stroke-opacity="0.8"/>
<circle cx="304.45" cy="162.00" r="0.6" fill="none" stroke="#111" stroke-width="0.4" stroke-opacity="0.8"/>
<circle cx="300.54" cy="151.52" r="0.6" fill="none" stroke="#111" stroke-width="0.4" stroke-opacity="0.8"/>
<circle cx="304.64" cy="126.48" r="0.6" fill="none" stroke="#111" stroke-width="0.4" stroke-opacity="0.8"/>
<circle cx="305.59" cy="123.32" r="0.6" fill="none" stroke="#111" stroke-width="0.4" stroke-opacity="0.8"/>
<circle cx="305.14" cy="142.39" r="0.6" fill="none" stroke="#111" stroke-width="0.4" stroke-opacity="0.8"/>
<circle cx="309.10" cy="125.11" r="0.6" fill="none" stroke="#111" stroke-width="0.4" stroke-opacity="0.8"/>
<circle cx="302.19" cy="156.14" r="0.6" fill="none" stroke="#111" stroke-width="0.4" stroke-opacity="0.8"/>
<circle cx="309.10" cy="131.59" r="0.6" fill="none" stroke="#111" stroke-width="0.4" stroke-opacity="0.8"/>
<circle cx="305.05" cy="122.32" r="0.6" fill="none" stroke="#111" stroke-width="0.4" stroke-opacity="0.8"/>
<circle cx="302.61" cy="150.59" r="0.6" fill="none" stroke="#111" stroke-width="0.4" stroke-opacity="0.8"/>
<circle cx="302.96" cy="104.72" r="0.6" fill="none" stroke="#111" stroke-width="0.4" stroke-opacity="0.8"/>
<circle cx="305.76" cy="137.33" r="0.6" fill="none" stroke="#111" stroke-width="0.4" stroke-opacity="0.8"/>
<circle cx="302.65" cy="146.37" r="0.6" fill="none" stroke="#111" stroke-width="0.4" stroke-opacity="0.8"/>
<circle cx="303.63" cy="147.88" r="0.6" fill="none" stroke="#111" stroke-width="0.4" stroke-opacity="0.8"/>
<circle cx="302.75" cy="134.05" r="0.6" fill="none" stroke="#111" stroke-width="0.4" stroke-opacity="0.8"/>
<circle cx="304.52" cy="124.45" r="0.6" fill="none" stroke="#111" stroke-width="0.4" stroke-opacity="0.8"/>
<circle cx="301.41" cy="107.13" r="0.6" fill="none" stroke="#111" stroke-width="0.4" stroke-opacity="0.8"/>
<circle cx="298.50" cy="129.76" r="0.6" fill="none" stroke="#111" stroke-width="0.4" stroke-opacity="0.8"/>
<circle cx="296.98" cy="120.34" r="0.6" fill="none" stroke="#111" stroke-width="0.4" stroke-opacity="0.8"/>
<circle cx="303.68" cy="115.06" r="0.6" fill="none" stroke="#111" stroke-width="0.4" stroke-opacity="0.8"/>
<circle cx="302.45" cy="141.75" r="0.6" fill="none" stroke="#111" stroke-width="0.4" stroke-opacity="0.8"/>
<circle cx="298.63" cy="124.69" r="0.6" fill="none" stroke="#111" stroke-width="0.4" stroke-opacity="0.8"/>
<circle cx="303.58" cy="162.00" r="0.6" fill="none" stroke="#111" stroke-width="0.4" stroke-opacity="0.8"/>
<circle cx="300.92" cy="153.01" r="0.6" fill="none" stroke="#111" stroke-width="0.4" stroke-opacity="0.8"/>
<circle cx="297.51" cy="125.69" r="0.6" fill="none" stroke="#111" stroke-width="0.4" stroke-opacity="0.8"/>
<circle cx="304.38" cy="146.32" r="0.6" fill="none" stroke="#111" stroke-width="0.4" stroke-opacity="0.8"/>
<circle cx="302.50" cy="89.12" r="0.6" fill="none" stroke="#111" stroke-width="0.4" stroke-opacity="0.8"/>
<circle cx="299.25" cy="143.11" r="0.6" fill="none" stroke="#111" stroke-width="0.4" stroke-opacity="0.8"/>
<circle cx="300.58" cy="90.66" r="0.6" fill="none" stroke="#111" stroke-width="0.4" stroke-opacity="0.8"/>
<circle cx="299.93" cy="116.21" r="0.6" fill="none" stroke="#111" stroke-width="0.4" stroke-opacity="0.8"/>
<circle cx="303.30" cy="130.33" r="0.6" fill="none" stroke="#111" stroke-width="0.4" stroke-opacity="0.8"/>
<circle cx="303.93" cy="143.19" r="0.6" fill="none" stroke="#111" stroke-width="0.4" stroke-opacity="0.8"/>
<circle cx="304.81" cy="161.75" r="0.6" fill="none" stroke="#111" stroke-width="0.4" stroke-opacity="0.8"/>
<circle cx="301.64" cy="101.63" r="0.6" fill="none" stroke="#111" stroke-width="0.4" stroke-opacity="0.8"/>
<circle cx="300.55" cy="107.01" r="0.6" fill="none" stroke="#111" stroke-width="0.4" stroke-opacity="0.8"/>
<circle cx="302.62" cy="127.91" r="0.6" fill="none" stroke="#111" stroke-width="0.4" stroke-opacity="0.8"/>
<circle cx="298.16" cy="140.12" r="0.6" fill="none" stroke="#111" stroke-width="0.4" stroke-opacity="0.8"/>
<circle cx="302.56" cy="103.21" r="0.6" fill="none" stroke="#111" stroke-width="0.4" stroke-opacity="0.8"/>
<circle cx="301.73" cy="125.39" r="0.6" fill="none" stroke="#111" stroke-width="0.4" stroke-opacity="0.8"/>
<circle cx="300.47" cy="128.30" r="0.6" fill="none" stroke="#111" stroke-width="0.4" stroke-opacity="0.8"/>
<circle cx="303.27" cy="144.63" r="0.6" fill="none" stroke="#111" stroke-width="0.4" stroke-opacity="0.8"/>
<circle cx="300.72" cy="127.78" r="0.6" fill="none" stroke="#111" stroke-width="0.4" stroke-opacity="0.8"/>
<circle cx="296.10" cy="125.93" r="0.6" fill="none" stroke="#111" stroke-width="0.4" stroke-opacity="0.8"/>
<circle cx="302.67" cy="108.69" r="0.6" fill="none" stroke="#111" stroke-width="0.4" stroke-opacity="0.8"/>
<circle cx="302.98" cy="97.52" r="0.6" fill="none" stroke="#111" stroke-width="0.4" stroke-opacity="0.8"/>
<circle cx="298.74" cy="132.80" r="0.6" fill="none" stroke="#111" stroke-width="0.4" stroke-opacity="0.8"/>
<circle cx="301.72" cy="124.30" r="0.6" fill="none" stroke="#111" stroke-width="0.4" stroke-opacity="0.8"/>
<circle cx="304.31" cy="139.47" r="0.6" fill="none" stroke="#111" stroke-width="0.4" stroke-opacity="0.8"/>
<circle cx="300.22" cy="128.87" r="0.6" fill="none" stroke="#111" stroke-width="0.4" stroke-opacity="0.8"/>
<circle cx="302.42" cy="126.57" r="0.6" fill="none" stroke="#111" stroke-width="0.4" stroke-opacity="0.8"/>
<circle cx="303.16" cy="145.34" r="0.6" fill="none" stroke="#111" stroke-width="0.4" stroke-opacity="0.8"/>
<circle cx="300.03" cy="114.22" r="0.6" fill="none" stroke="#111" stroke-width="0.4" stroke-opacity="0.8"/>
<circle cx="300.53" cy="121.68" r="0.6" fill="none" stroke="#111" stroke-width="0.4" stroke-opacity="0.8"/>
<circle cx="302.38" cy="105.90" r="0.6" fill="none" stroke="#111" stroke-width="0.4" stroke-opacity="0.8"/>
<circle cx="302.90" cy="119.16" r="0.6" fill="none" stroke="#111" stroke-width="0.4" stroke-opacity="0.8"/>
<circle cx="301.44" cy="140.83" r="0.6" fill="none" stroke="#111" stroke-width="0.4" stroke-opacity="0.8"/>
<circle cx="301.99" cy="162.00" r="0.6" fill="none" stroke="#111" stroke-width="0.4" stroke-opacity="0.8"/>
<circle cx="302.83" cy="153.18" r="0.6" fill="none" stroke="#111" stroke-width="0.4" stroke-opacity="0.8"/>
<circle cx="298.09" cy="153.49" r="0.6" fill="none" stroke="#111" stroke-width="0.4" stroke-opacity="0.8"/>
<circle cx="303.07" cy="113.60" r="0.6" fill="none" stroke="#111" stroke-width="0.4" stroke-opacity="0.8"/>
<circle cx="309.10" cy="142.52" r="0.6" fill="none" stroke="#111" stroke-width="0.4" stroke-opacity="0.8"/>
<circle cx="306.18" cy="136.54" r="0.6" fill="none" stroke="#111" stroke-width="0.4" stroke-opacity="0.8"/>
<circle cx="304.40" cy="146.02" r="0.6" fill="none" stroke="#111" stroke-width="0.4" stroke-opacity="0.8"/>
<circle cx="302.16" cy="140.54" r="0.6" fill="none" stroke="#111" stroke-width="0.4" stroke-opacity="0.8"/>
<circle cx="299.58" cy="140.52" r="0.6" fill="none" stroke="#111" stroke-width="0.4" stroke-opacity="0.8"/>
<circle cx="300.67" cy="154.88" r="0.6" fill="none" stroke="#111" stroke-width="0.4" stroke-opacity="0.8"/>
<circle cx="308.54" cy="134.97" r="0.6" fill="none" stroke="#111" stroke-width="0.4" stroke-opacity="0.8"/>
<circle cx="302.65" cy="124.88" r="0.6" fill="none" stroke="#111" stroke-width="0.4" stroke-opacity="0.8"/>
<circle cx="302.65" cy="154.49" r="0.6" fill="none" stroke="#111" stroke-width="0.4" stroke-opacity="0.8"/>
<circle cx="303.09" cy="112.40" r="0.6" fill="none" stroke="#111" stroke-width="0.4" stroke-opacity="0.8"/>
<circle cx="304.59" cy="142.08" r="0.6" fill="none" stroke="#111" stroke-width="0.4" stroke-opacity="0.8"/>
<circle cx="305.93" cy="113.15" r="0.6" fill="none" stroke="#111" stroke-width="0.4" stroke-opacity="0.8"/>
<circle cx="302.63" cy="162.00" r="0.6" fill="none" stroke="#111" stroke-width="0.4" stroke-opacity="0.8"/>
<circle cx="301.40" cy="135.39" r="0.6" fill="none" stroke="#111" stroke-width="0.4" stroke-opacity="0.8"/>
<circle cx="301.26" cy="159.86" r="0.6" fill="none" stroke="#111" stroke-width="0.4" stroke-opacity="0.8"/>
<circle cx="301.69" cy="144.05" r="0.6" fill="none" stroke="#111" stroke-width="0.4" stroke-opacity="0.8"/>
<circle cx="303.97" cy="114.83" r="0.6" fill="none" stroke="#111" stroke-width="0.4" stroke-opacity="0.8"/>
<circle cx="302.58" cy="158.14" r="0.6" fill="none" stroke="#111" stroke-width="0.4" stroke-opacity="0.8"/>
<circle cx="304.14" cy="115.18" r="0.6" fill="none" stroke="#111" stroke-width="0.4" stroke-opacity="0.8"/>
<circle cx="303.47" cy="128.59" r="0.6" fill="none" stroke="#111" stroke-width="0.4" stroke-opacity="0.8"/>
<circle cx="304.75" cy="162.00" r="0.6" fill="none" stroke="#111" stroke-width="0.4" stroke-opacity="0.8"/>
<circle cx="308.99" cy="118.55" r="0.6" fill="none" stroke="#111" stroke-width="0.4" stroke-opacity="0.8"/>
<circle cx="304.80" cy="129.72" r="0.6" fill="none" stroke="#111" stroke-width="0.4" stroke-opacity="0.8"/>
<circle cx="302.52" cy="115.82" r="0.6" fill="none" stroke="#111" stroke-width="0.4" stroke-opacity="0.8"/>
<circle cx="305.99" cy="92.27" r="0.6" fill="none" stroke="#111" stroke-width="0.4" stroke-opacity="0.8"/>
<circle cx="300.29" cy="158.82" r="0.6" fill="none" stroke="#111" stroke-width="0.4" stroke-opacity="0.8"/>
<circle cx="299.52" cy="97.50" r="0.6" fill="none" stroke="#111" stroke-width="0.4" stroke-opacity="0.8"/>
<circle cx="301.73" cy="154.76" r="0.6" fill="none" stroke="#111" stroke-width="0.4" stroke-opacity="0.8"/>
<circle cx="301.72" cy="128.36" r="0.6" fill="none" stroke="#111" stroke-width="0.4" stroke-opacity="0.8"/>
<circle cx="299.55" cy="127.06" r="0.6" fill="none" stroke="#111" stroke-width="0.4" stroke-opacity="0.8"/>
<circle cx="298.57" cy="130.16" r="0.6" fill="none" stroke="#111" stroke-width="0.4" stroke-opacity="0.8"/>
<circle cx="303.46" cy="128.12" r="0.6" fill="none" stroke="#111" stroke-width="0.4" stroke-opacity="0.8"/>
<circle cx="301.95" cy="139.64" r="0.6" fill="none" stroke="#111" stroke-width="0.4" stroke-opacity="0.8"/>
<circle cx="302.90" cy="110.35" r="0.6" fill="none" stroke="#111" stroke-width="0.4" stroke-opacity="0.8"/>
<circle cx="306.98" cy="119.30" r="0.6" fill="none" stroke="#111" stroke-width="0.4" stroke-opacity="0.8"/>
<circle cx="302.38" cy="146.05" r="0.6" fill="none" stroke="#111" stroke-width="0.4" stroke-opacity="0.8"/>
<circle cx="300.63" cy="119.59" r="0.6" fill="none" stroke="#111" stroke-width="0.4" stroke-opacity="0.8"/>
<circle cx="301.93" cy="109.63" r="0.6" fill="none" stroke="#111" stroke-width="0.4" stroke-opacity="0.8"/>
<circle cx="304.04" cy="135.95" r="0.6" fill="none" stroke="#111" stroke-width="0.4" stroke-opacity="0.8"/>
<circle cx="308.48" cy="141.80" r="0.6" fill="none" stroke="#111" stroke-width="0.4" stroke-opacity="0.8"/>
<circle cx="302.62" cy="114.59" r="0.6" fill="none" stroke="#111" stroke-width="0.4" stroke-opacity="0.8"/>
<circle cx="299.05" cy="162.00" r="0.6" fill="none" stroke="#111" stroke-width="0.4" stroke-opacity="0.8"/>
<circle cx="303.07" cy="118.51" r="0.6" fill="none" stroke="#111" stroke-width="0.4" stroke-opacity="0.8"/>
<circle cx="303.74" cy="132.95" r="0.6" fill="none" stroke="#111" stroke-width="0.4" stroke-opacity="0.8"/>
<circle cx="303.63" cy="124.55" r="0.6" fill="none" stroke="#111" stroke-width="0.4" stroke-opacity="0.8"/>
<circle cx="304.76" cy="130.78" r="0.6" fill="none" stroke="#111" stroke-width="0.4" stroke-opacity="0.8"/>
<circle cx="300.92" cy="89.22" r="0.6" fill="none" stroke="#111" stroke-width="0.4" stroke-opacity="0.8"/>
<circle cx="299.71" cy="129.60" r="0.6" fill="none" stroke="#111" stroke-width="0.4" stroke-opacity="0.8"/>
<circle cx="303.79" cy="107.34" r="0.6" fill="none" stroke="#111" stroke-width="0.4" stroke-opacity="0.8"/>
<circle cx="303.81" cy="115.77" r="0.6" fill="none" stroke="#111" stroke-width="0.4" stroke-opacity="0.8"/>
<circle cx="303.18" cy="145.58" r="0.6" fill="none" stroke="#111" stroke-width="0.4" stroke-opacity="0.8"/>
<circle cx="302.31" cy="140.50" r="0.6" fill="none" stroke="#111" stroke-width="0.4" stroke-opacity="0.8"/>
<circle cx="302.54" cy="99.55" r="0.6" fill="none" stroke="#111" stroke-width="0.4" stroke-opacity="0.8"/>
<circle cx="301.12" cy="139.35" r="0.6" fill="none" stroke="#111" stroke-width="0.4" stroke-opacity="0.8"/>
<circle cx="304.70" cy="127.52" r="0.6" fill="none" stroke="#111" stroke-width="0.4" stroke-opacity="0.8"/>
<circle cx="303.82" cy="110.89" r="0.6" fill="none" stroke="#111" stroke-width="0.4" stroke-opacity="0.8"/>
<circle cx="301.55" cy="162.00" r="0.6" fill="none" stroke="#111" stroke-width="0.4" stroke-opacity="0.8"/>
<circle cx="302.18" cy="132.78" r="0.6" fill="none" stroke="#111" stroke-width="0.4" stroke-opacity="0.8"/>
<circle cx="303.20" cy="162.00" r="0.6" fill="none" stroke="#111" stroke-width="0.4" stroke-opacity="0.8"/>
<circle cx="301.29" cy="148.83" r="0.6" fill="none" stroke="#111" stroke-width="0.4" stroke-opacity="0.8"/>
<circle cx="302.57" cy="129.31" r="0.6" fill="none" stroke="#111" stroke-width="0.4" stroke-opacity="0.8"/>
<circle cx="305.34" cy="91.72" r="0.6" fill="none" stroke="#111" stroke-width="0.4" stroke-opacity="0.8"/>
<circle cx="299.28" cy="148.86" r="0.6" fill="none" stroke="#111" stroke-width="0.4" stroke-opacity="0.8"/>
<circle cx="302.35" cy="145.55" r="0.6" fill="none" stroke="#111" stroke-width="0.4" stroke-opacity="0.8"/>
<circle cx="303.63" cy="139.23" r="0.6" fill="none" stroke="#111" stroke-width="0.4" stroke-opacity="0.8"/>
<circle cx="302.20" cy="97.63" r="0.6" fill="none" stroke="#111" stroke-width="0.4" stroke-opacity="0.8"/>
<circle cx="301.51" cy="161.53" r="0.6" fill="none" stroke="#111" stroke-width="0.4" stroke-opacity="0.8"/>
<circle cx="300.02" cy="107.80" r="0.6" fill="none" stroke="#111" stroke-width="0.4" stroke-opacity="0.8"/>
<circle cx="303.24" cy="103.57" r="0.6" fill="none" stroke="#111" stroke-width="0.4" stroke-opacity="0.8"/>
<circle cx="303.42" cy="162.00" r="0.6" fill="none" stroke="#111" stroke-width="0.4" stroke-opacity="0.8"/>
<circle cx="308.85" cy="134.89" r="0.6" fill="none" stroke="#111" stroke-width="0.4" stroke-opacity="0.8"/>
<circle cx="300.71" cy="118.55" r="0.6" fill="none" stroke="#111" stroke-width="0.4" stroke-opacity="0.8"/>
<circle cx="304.14" cy="140.94" r="0.6" fill="none" stroke="#111" stroke-width="0.4" stroke-opacity="0.8"/>
<circle cx="300.38" cy="107.98" r="0.6" fill="none" stroke="#111" stroke-width="0.4" stroke-opacity="0.8"/>
<circle cx="303.29" cy="135.87" r="0.6" fill="none" stroke="#111" stroke-width="0.4" stroke-opacity="0.8"/>
<circle cx="302.22" cy="101.74" r="0.6" fill="none" stroke="#111" stroke-width="0.4" stroke-opacity="0.8"/>
<circle cx="303.89" cy="118.06" r="0.6" fill="none" stroke="#111" stroke-width="0.4" stroke-opacity="0.8"/>
<circle cx="302.36" cy="127.16" r="0.6" fill="none" stroke="#111" stroke-width="0.4" stroke-opacity="0.8"/>
<line x1="302.60" y1="82.80" x2="302.60" y2="116.30" stroke="#000" stroke-width="1.0"/>
<line x1="302.60" y1="143.00" x2="302.60" y2="162.50" stroke="#000" stroke-width="1.0"/>
<line x1="335.35" y1="91.80" x2="335.35" y2="125.50" stroke="#000" stroke-width="1.0"/>
<line x1="335.35" y1="147.90" x2="335.35" y2="164.00" stroke="#000" stroke-width="1.0"/>
<line x1="329.85" y1="91.80" x2="340.85" y2="91.80" stroke="#000" stroke-width="1.0"/>
<line x1="329.85" y1="164.00" x2="340.85" y2="164.00" stroke="#000" stroke-width="1.0"/>
<rect x="324.70" y="125.50" width="21.30" height="22.40" fill="#f03e2e" stroke="#000" stroke-width="1.0"/>
<line x1="324.70" y1="138.20" x2="346.00" y2="138.20" stroke="#000" stroke-width="1.0"/>
<circle cx="338.30" cy="130.37" r="0.6" fill="none" stroke="#111" stroke-width="0.4" stroke-opacity="0.8"/>
<circle cx="334.65" cy="161.62" r="0.6" fill="none" stroke="#111" stroke-width="0.4" stroke-opacity="0.8"/>
<circle cx="333.91" cy="151.86" r="0.6" fill="none" stroke="#111" stroke-width="0.4" stroke-opacity="0.8"/>
<circle cx="337.45" cy="137.99" r="0.6" fill="none" stroke="#111" stroke-width="0.4" stroke-opacity="0.8"/>
<circle cx="334.62" cy="163.50" r="0.6" fill="none" stroke="#111" stroke-width="0.4" stroke-opacity="0.8"/>
<circle cx="335.90" cy="135.37" r="0.6" fill="none" stroke="#111" stroke-width="0.4" stroke-opacity="0.8"/>
<circle cx="335.38" cy="109.85" r="0.6" fill="none" stroke="#111" stroke-width="0.4" stroke-opacity="0.8"/>
<circle cx="336.06" cy="124.59" r="0.6" fill="none" stroke="#111" stroke-width="0.4" stroke-opacity="0.8"/>
<circle cx="331.59" cy="116.45" r="0.6" fill="none" stroke="#111" stroke-width="0.4" stroke-opacity="0.8"/>
<circle cx="336.08" cy="137.39" r="0.6" fill="none" stroke="#111" stroke-width="0.4" stroke-opacity="0.8"/>
<circle cx="337.84" cy="126.86" r="0.6" fill="none" stroke="#111" stroke-width="0.4" stroke-opacity="0.8"/>
<circle cx="333.65" cy="131.80" r="0.6" fill="none" stroke="#111" stroke-width="0.4" stroke-opacity="0.8"/>
<circle cx="330.96" cy="145.26" r="0.6" fill="none" stroke="#111" stroke-width="0.4" stroke-opacity="0.8"/>
<circle cx="335.31" cy="124.56" r="0.6" fill="none" stroke="#111" stroke-width="0.4" stroke-opacity="0.8"/>
<circle cx="335.04" cy="151.91" r="0.6" fill="none" stroke="#111" stroke-width="0.4" stroke-opacity="0.8"/>
<circle cx="333.51" cy="142.23" r="0.6" fill="none" stroke="#111" stroke-width="0.4" stroke-opacity="0.8"/>
<circle cx="340.01" cy="142.11" r="0.6" fill="none" stroke="#111" stroke-width="0.4" stroke-opacity="0.8"/>
<circle cx="339.85" cy="124.40" r="0.6" fill="none" stroke="#111" stroke-width="0.4" stroke-opacity="0.8"/>
<circle cx="335.38" cy="125.16" r="0.6" fill="none" stroke="#111" stroke-width="0.4" stroke-opacity="0.8"/>
<circle cx="338.22" cy="139.81" r="0.6" fill="none" stroke="#111" stroke-width="0.4" stroke-opacity="0.8"/>
<circle cx="331.36" cy="114.53" r="0.6" fill="none" stroke="#111" stroke-width="0.4" stroke-opacity="0.8"/>
<circle cx="337.58" cy="147.56" r="0.6" fill="none" stroke="#111" stroke-width="0.4" stroke-opacity="0.8"/>
<circle cx="341.85" cy="147.88" r="0.6" fill="none" stroke="#111" stroke-width="0.4" stroke-opacity="0.8"/>
<circle cx="336.06" cy="140.37" r="0.6" fill="none" stroke="#111" stroke-width="0.4" stroke-opacity="0.8"/>
<circle cx="336.05" cy="153.35" r="0.6" fill="none" stroke="#111" stroke-width="0.4" stroke-opacity="0.8"/>
<circle cx="333.00" cy="163.50" r="0.6" fill="none" stroke="#111" stroke-width="0.4" stroke-opacity="0.8"/>
<circle cx="328.85" cy="129.97" r="0.6" fill="none" stroke="#111" stroke-width="0.4" stroke-opacity="0.8"/>
<circle cx="334.64" cy="151.26" r="0.6" fill="none" stroke="#111" stroke-width="0.4" stroke-opacity="0.8"/>
<circle cx="339.44" cy="153.26" r="0.6" fill="none" stroke="#111" stroke-width="0.4" stroke-opacity="0.8"/>
<circle cx="334.64" cy="136.59" r="0.6" fill="none" stroke="#111" stroke-width="0.4" stroke-opacity="0.8"/>
<circle cx="333.00" cy="127.75" r="0.6" fill="none" stroke="#111" stroke-width="0.4" stroke-opacity="0.8"/>
<circle cx="336.56" cy="125.40" r="0.6" fill="none" stroke="#111" stroke-width="0.4" stroke-opacity="0.8"/>
<circle cx="335.54" cy="137.36" r="0.6" fill="none" stroke="#111" stroke-width="0.4" stroke-opacity="0.8"/>
<circle cx="337.91" cy="133.59" r="0.6" fill="none" stroke="#111" stroke-width="0.4" stroke-opacity="0.8"/>
<circle cx="334.95" cy="145.55" r="0.6" fill="none" stroke="#111" stroke-width="0.4" stroke-opacity="0.8"/>
<circle cx="335.06" cy="148.61" r="0.6" fill="none" stroke="#111" stroke-width="0.4" stroke-opacity="0.8"/>
<circle cx="338.12" cy="116.04" r="0.6" fill="none" stroke="#111" stroke-width="0.4" stroke-opacity="0.8"/>
<circle cx="332.67" cy="145.04" r="0.6" fill="none" stroke="#111" stroke-width="0.4" stroke-opacity="0.8"/>
<circle cx="336.01" cy="156.03" r="0.6" fill="none" stroke="#111" stroke-width="0.4" stroke-opacity="0.8"/>
<circle cx="338.41" cy="108.67" r="0.6" fill="none" stroke="#111" stroke-width="0.4" stroke-opacity="0.8"/>
<circle cx="337.85" cy="142.68" r="0.6" fill="none" stroke="#111" stroke-width="0.4" stroke-opacity="0.8"/>
<circle cx="334.93" cy="140.25" r="0.6" fill="none" stroke="#111" stroke-width="0.4" stroke-opacity="0.8"/>
<circle cx="337.20" cy="108.96" r="0.6" fill="none" stroke="#111" stroke-width="0.4" stroke-opacity="0.8"/>
<circle cx="334.55" cy="137.24" r="0.6" fill="none" stroke="#111" stroke-width="0.4" stroke-opacity="0.8"/>
<circle cx="335.57" cy="142.99" r="0.6" fill="none" stroke="#111" stroke-width="0.4" stroke-opacity="0.8"/>
<circle cx="334.65" cy="148.81" r="0.6" fill="none" stroke="#111" stroke-width="0.4" stroke-opacity="0.8"/>
<circle cx="329.36" cy="136.05" r="0.6" fill="none" stroke="#111" stroke-width="0.4" stroke-opacity="0.8"/>
<circle cx="337.24" cy="129.11" r="0.6" fill="none" stroke="#111" stroke-width="0.4" stroke-opacity="0.8"/>
<circle cx="334.66" cy="160.65" r="0.6" fill="none" stroke="#111" stroke-width="0.4" stroke-opacity="0.8"/>
<circle cx="339.78" cy="134.53" r="0.6" fill="none" stroke="#111" stroke-width="0.4" stroke-opacity="0.8"/>
<circle cx="337.41" cy="130.86" r="0.6" fill="none" stroke="#111" stroke-width="0.4" stroke-opacity="0.8"/>
<circle cx="335.43" cy="163.50" r="0.6" fill="none" stroke="#111" stroke-width="0.4" stroke-opacity="0.8"/>
<circle cx="334.00" cy="158.69" r="0.6" fill="none" stroke="#111" stroke-width="0.4" stroke-opacity="0.8"/>
<circle cx="335.13" cy="140.42" r="0.6" fill="none" stroke="#111" stroke-width="0.4" stroke-opacity="0.8"/>
<circle cx="338.51" cy="138.76" r="0.6" fill="none" stroke="#111" stroke-width="0.4" stroke-opacity="0.8"/>
<circle cx="334.09" cy="163.50" r="0.6" fill="none" stroke="#111" stroke-width="0.4" stroke-opacity="0.8"/>
<circle cx="336.74" cy="126.39" r="0.6" fill="none" stroke="#111" stroke-width="0.4" stroke-opacity="0.8"/>
<circle cx="336.29" cy="117.79" r="0.6" fill="none" stroke="#111" stroke-width="0.4" stroke-opacity="0.8"/>
<circle cx="334.57" cy="146.95" r="0.6" fill="none" stroke="#111" stroke-width="0.4" stroke-opacity="0.8"/>
<circle cx="331.01" cy="146.22" r="0.6" fill="none" stroke="#111" stroke-width="0.4" stroke-opacity="0.8"/>
<circle cx="332.41" cy="150.32" r="0.6" fill="none" stroke="#111" stroke-width="0.4" stroke-opacity="0.8"/>
<circle cx="334.29" cy="124.22" r="0.6" fill="none" stroke="#111" stroke-width="0.4" stroke-opacity="0.8"/>
<circle cx="337.75" cy="129.51" r="0.6" fill="none" stroke="#111" stroke-width="0.4" stroke-opacity="0.8"/>
<circle cx="334.24" cy="138.16" r="0.6" fill="none" stroke="#111" stroke-width="0.4" stroke-opacity="0.8"/>
<circle cx="339.78" cy="146.44" r="0.6" fill="none" stroke="#111" stroke-width="0.4" stroke-opacity="0.8"/>
<circle cx="336.37" cy="136.81" r="0.6" fill="none" stroke="#111" stroke-width="0.4" stroke-opacity="0.8"/>
<circle cx="335.86" cy="158.92" r="0.6" fill="none" stroke="#111" stroke-width="0.4" stroke-opacity="0.8"/>
<circle cx="340.08" cy="113.69" r="0.6" fill="none" stroke="#111" stroke-width="0.4" stroke-opacity="0.8"/>
<circle cx="331.58" cy="163.50" r="0.6" fill="none" stroke="#111" stroke-width="0.4" stroke-opacity="0.8"/>
<circle cx="336.52" cy="136.00" r="0.6" fill="none" stroke="#111" stroke-width="0.4" stroke-opacity="0.8"/>
<circle cx="336.62" cy="154.01" r="0.6" fill="none" stroke="#111" stroke-width="0.4" stroke-opacity="0.8"/>
<circle cx="332.40" cy="131.82" r="0.6" fill="none" stroke="#111" stroke-width="0.4" stroke-opacity="0.8"/>
<circle cx="338.24" cy="138.54" r="0.6" fill="none" stroke="#111" stroke-width="0.4" stroke-opacity="0.8"/>
<circle cx="333.40" cy="117.17" r="0.6" fill="none" stroke="#111" stroke-width="0.4" stroke-opacity="0.8"/>
<circle cx="329.93" cy="136.26" r="0.6" fill="none" stroke="#111" stroke-width="0.4" stroke-opacity="0.8"/>
<circle cx="334.13" cy="132.04" r="0.6" fill="none" stroke="#111" stroke-width="0.4" stroke-opacity="0.8"/>
<circle cx="333.39" cy="144.78" r="0.6" fill="none" stroke="#111" stroke-width="0.4" stroke-opacity="0.8"/>
<circle cx="334.60" cy="120.89" r="0.6" fill="none" stroke="#111" stroke-width="0.4" stroke-opacity="0.8"/>
<circle cx="333.49" cy="135.81" r="0.6" fill="none" stroke="#111" stroke-width="0.4" stroke-opacity="0.8"/>
<circle cx="337.45" cy="136.92" r="0.6" fill="none" stroke="#111" stroke-width="0.4" stroke-opacity="0.8"/>
<circle cx="338.59" cy="157.94" r="0.6" fill="none" stroke="#111" stroke-width="0.4" stroke-opacity="0.8"/>
<circle cx="334.55" cy="122.66" r="0.6" fill="none" stroke="#111" stroke-width="0.4" stroke-opacity="0.8"/>
<circle cx="338.96" cy="92.80" r="0.6" fill="none" stroke="#111" stroke-width="0.4" stroke-opacity="0.8"/>
<circle cx="335.29" cy="123.71" r="0.6" fill="none" stroke="#111" stroke-width="0.4" stroke-opacity="0.8"/>
<circle cx="331.55" cy="146.06" r="0.6" fill="none" stroke="#111" stroke-width="0.4" stroke-opacity="0.8"/>
<circle cx="335.28" cy="145.01" r="0.6" fill="none" stroke="#111" stroke-width="0.4" stroke-opacity="0.8"/>
<circle cx="335.90" cy="103.98" r="0.6" fill="none" stroke="#111" stroke-width="0.4" stroke-opacity="0.8"/>
<circle cx="331.80" cy="158.11" r="0.6" fill="none" stroke="#111" stroke-width="0.4" stroke-opacity="0.8"/>
<circle cx="335.75" cy="151.17" r="0.6" fill="none" stroke="#111" stroke-width="0.4" stroke-opacity="0.8"/>
<circle cx="336.59" cy="145.21" r="0.6" fill="none" stroke="#111" stroke-width="0.4" stroke-opacity="0.8"/>
<circle cx="334.93" cy="160.07" r="0.6" fill="none" stroke="#111" stroke-width="0.4" stroke-opacity="0.8"/>
<circle cx="334.57" cy="152.35" r="0.6" fill="none" stroke="#111" stroke-width="0.4" stroke-opacity="0.8"/>
<circle cx="333.80" cy="149.74" r="0.6" fill="none" stroke="#111" stroke-width="0.4" stroke-opacity="0.8"/>
<circle cx="340.20" cy="134.76" r="0.6" fill="none" stroke="#111" stroke-width="0.4" stroke-opacity="0.8"/>
<circle cx="334.91" cy="144.69" r="0.6" fill="none" stroke="#111" stroke-width="0.4" stroke-opacity="0.8"/>
<circle cx="333.85" cy="116.19" r="0.6" fill="none" stroke="#111" stroke-width="0.4" stroke-opacity="0.8"/>
<circle cx="337.98" cy="140.17" r="0.6" fill="none" stroke="#111" stroke-width="0.4" stroke-opacity="0.8"/>
<circle cx="336.82" cy="144.34" r="0.6" fill="none" stroke="#111" stroke-width="0.4" stroke-opacity="0.8"/>
<circle cx="339.14" cy="135.95" r="0.6" fill="none" stroke="#111" stroke-width="0.4" stroke-opacity="0.8"/>
<circle cx="333.81" cy="129.70" r="0.6" fill="none" stroke="#111" stroke-width="0.4" stroke-opacity="0.8"/>
<circle cx="335.47" cy="152.61" r="0.6" fill="none" stroke="#111" stroke-width="0.4" stroke-opacity="0.8"/>
<circle cx="333.74" cy="131.71" r="0.6" fill="none" stroke="#111" stroke-width="0.4" stroke-opacity="0.8"/>
<circle cx="337.10" cy="132.10" r="0.6" fill="none" stroke="#111" stroke-width="0.4" stroke-opacity="0.8"/>
<circle cx="331.96" cy="143.04" r="0.6" fill="none" stroke="#111" stroke-width="0.4" stroke-opacity="0.8"/>
<circle cx="335.85" cy="144.34" r="0.6" fill="none" stroke="#111" stroke-width="0.4" stroke-opacity="0.8"/>
<circle cx="336.82" cy="118.78" r="0.6" fill="none" stroke="#111" stroke-width="0.4" stroke-opacity="0.8"/>
<circle cx="334.41" cy="131.67" r="0.6" fill="none" stroke="#111" stroke-width="0.4" stroke-opacity="0.8"/>
<circle cx="337.86" cy="150.96" r="0.6" fill="none" stroke="#111" stroke-width="0.4" stroke-opacity="0.8"/>
<circle cx="336.18" cy="124.36" r="0.6" fill="none" stroke="#111" stroke-width="0.4" stroke-opacity="0.8"/>
<circle cx="339.75" cy="121.00" r="0.6" fill="none" stroke="#111" stroke-width="0.4" stroke-opacity="0.8"/>
<circle cx="338.70" cy="127.85" r="0.6" fill="none" stroke="#111" stroke-width="0.4" stroke-opacity="0.8"/>
<circle cx="336.89" cy="125.10" r="0.6" fill="none" stroke="#111" stroke-width="0.4" stroke-opacity="0.8"/>
<circle cx="330.52" cy="163.50" r="0.6" fill="none" stroke="#111" stroke-width="0.4" stroke-opacity="0.8"/>
<circle cx="336.75" cy="128.91" r="0.6" fill="none" stroke="#111" stroke-width="0.4" stroke-opacity="0.8"/>
<circle cx="333.48" cy="135.04" r="0.6" fill="none" stroke="#111" stroke-width="0.4" stroke-opacity="0.8"/>
<circle cx="335.50" cy="163.50" r="0.6" fill="none" stroke="#111" stroke-width="0.4" stroke-opacity="0.8"/>
<circle cx="336.97" cy="107.23" r="0.6" fill="none" stroke="#111" stroke-width="0.4" stroke-opacity="0.8"/>
<circle cx="337.54" cy="105.85" r="0.6" fill="none" stroke="#111" stroke-width="0.4" stroke-opacity="0.8"/>
<circle cx="335.76" cy="126.35" r="0.6" fill="none" stroke="#111" stroke-width="0.4" stroke-opacity="0.8"/>
<circle cx="335.57" cy="159.30" r="0.6" fill="none" stroke="#111" stroke-width="0.4" stroke-opacity="0.8"/>
<circle cx="332.13" cy="111.77" r="0.6" fill="none" stroke="#111" stroke-width="0.4" stroke-opacity="0.8"/>
<circle cx="336.76" cy="157.89" r="0.6" fill="none" stroke="#111" stroke-width="0.4" stroke-opacity="0.8"/>
<circle cx="336.98" cy="122.08" r="0.6" fill="none" stroke="#111" stroke-width="0.4" stroke-opacity="0.8"/>
<circle cx="337.16" cy="145.60" r="0.6" fill="none" stroke="#111" stroke-width="0.4" stroke-opacity="0.8"/>
<circle cx="334.78" cy="96.22" r="0.6" fill="none" stroke="#111" stroke-width="0.4" stroke-opacity="0.8"/>
<circle cx="336.74" cy="152.84" r="0.6" fill="none" stroke="#111" stroke-width="0.4" stroke-opacity="0.8"/>
<circle cx="330.68" cy="152.49" r="0.6" fill="none" stroke="#111" stroke-width="0.4" stroke-opacity="0.8"/>
<circle cx="336.73" cy="139.73" r="0.6" fill="none" stroke="#111" stroke-width="0.4" stroke-opacity="0.8"/>
<circle cx="333.54" cy="163.50" r="0.6" fill="none" stroke="#111" stroke-width="0.4" stroke-opacity="0.8"/>
<circle cx="335.45" cy="130.80" r="0.6" fill="none" stroke="#111" stroke-width="0.4" stroke-opacity="0.8"/>
<circle cx="334.51" cy="152.58" r="0.6" fill="none" stroke="#111" stroke-width="0.4" stroke-opacity="0.8"/>
<circle cx="333.85" cy="157.26" r="0.6" fill="none" stroke="#111" stroke-width="0.4" stroke-opacity="0.8"/>
<circle cx="333.87" cy="141.48" r="0.6" fill="none" stroke="#111" stroke-width="0.4" stroke-opacity="0.8"/>
<circle cx="333.42" cy="139.53" r="0.6" fill="none" stroke="#111" stroke-width="0.4" stroke-opacity="0.8"/>
<circle cx="337.43" cy="108.08" r="0.6" fill="none" stroke="#111" stroke-width="0.4" stroke-opacity="0.8"/>
<circle cx="333.79" cy="142.14" r="0.6" fill="none" stroke="#111" stroke-width="0.4" stroke-opacity="0.8"/>
<circle cx="338.12" cy="140.30" r="0.6" fill="none" stroke="#111" stroke-width="0.4" stroke-opacity="0.8"/>
<circle cx="335.14" cy="119.18" r="0.6" fill="none" stroke="#111" stroke-width="0.4" stroke-opacity="0.8"/>
<circle cx="336.82" cy="146.36" r="0.6" fill="none" stroke="#111" stroke-width="0.4" stroke-opacity="0.8"/>
<circle cx="329.45" cy="130.69" r="0.6" fill="none" stroke="#111" stroke-width="0.4" stroke-opacity="0.8"/>
<line x1="335.35" y1="91.80" x2="335.35" y2="125.50" stroke="#000" stroke-width="1.0"/>
<line x1="335.35" y1="147.90" x2="335.35" y2="164.00" stroke="#000" stroke-width="1.0"/>
<line x1="368.05" y1="109.70" x2="368.05" y2="133.40" stroke="#000" stroke-width="1.0"/>
<line x1="368.05" y1="150.20" x2="368.05" y2="164.20" stroke="#000" stroke-width="1.0"/>
<line x1="362.55" y1="109.70" x2="373.55" y2="109.70" stroke="#000" stroke-width="1.0"/>
<line x1="362.55" y1="164.20" x2="373.55" y2="164.20" stroke="#000" stroke-width="1.0"/>
<rect x="357.40" y="133.40" width="21.30" height="16.80" fill="#74ecec" stroke="#000" stroke-width="1.0"/>
<line x1="357.40" y1="141.80" x2="378.70" y2="141.80" stroke="#000" stroke-width="1.0"/>
<circle cx="368.67" cy="158.50" r="0.6" fill="none" stroke="#111" stroke-width="0.4" stroke-opacity="0.8"/>
<circle cx="367.27" cy="141.98" r="0.6" fill="none" stroke="#111" stroke-width="0.4" stroke-opacity="0.8"/>
<circle cx="366.86" cy="145.34" r="0.6" fill="none" stroke="#111" stroke-width="0.4" stroke-opacity="0.8"/>
<circle cx="366.64" cy="128.03" r="0.6" fill="none" stroke="#111" stroke-width="0.4" stroke-opacity="0.8"/>
<circle cx="366.34" cy="133.78" r="0.6" fill="none" stroke="#111" stroke-width="0.4" stroke-opacity="0.8"/>
<circle cx="369.26" cy="126.23" r="0.6" fill="none" stroke="#111" stroke-width="0.4" stroke-opacity="0.8"/>
<circle cx="369.30" cy="124.20" r="0.6" fill="none" stroke="#111" stroke-width="0.4" stroke-opacity="0.8"/>
<circle cx="368.72" cy="128.16" r="0.6" fill="none" stroke="#111" stroke-width="0.4" stroke-opacity="0.8"/>
<circle cx="368.44" cy="160.27" r="0.6" fill="none" stroke="#111" stroke-width="0.4" stroke-opacity="0.8"/>
<circle cx="368.14" cy="131.98" r="0.6" fill="none" stroke="#111" stroke-width="0.4" stroke-opacity="0.8"/>
<circle cx="363.20" cy="143.79" r="0.6" fill="none" stroke="#111" stroke-width="0.4" stroke-opacity="0.8"/>
<circle cx="368.51" cy="133.63" r="0.6" fill="none" stroke="#111" stroke-width="0.4" stroke-opacity="0.8"/>
<circle cx="368.27" cy="135.49" r="0.6" fill="none" stroke="#111" stroke-width="0.4" stroke-opacity="0.8"/>
<circle cx="369.51" cy="151.66" r="0.6" fill="none" stroke="#111" stroke-width="0.4" stroke-opacity="0.8"/>
<circle cx="369.17" cy="153.97" r="0.6" fill="none" stroke="#111" stroke-width="0.4" stroke-opacity="0.8"/>
<circle cx="368.00" cy="137.93" r="0.6" fill="none" stroke="#111" stroke-width="0.4" stroke-opacity="0.8"/>
<circle cx="367.17" cy="138.16" r="0.6" fill="none" stroke="#111" stroke-width="0.4" stroke-opacity="0.8"/>
<circle cx="363.22" cy="139.39" r="0.6" fill="none" stroke="#111" stroke-width="0.4" stroke-opacity="0.8"/>
<circle cx="367.98" cy="137.32" r="0.6" fill="none" stroke="#111" stroke-width="0.4" stroke-opacity="0.8"/>
<circle cx="368.00" cy="128.71" r="0.6" fill="none" stroke="#111" stroke-width="0.4" stroke-opacity="0.8"/>
<circle cx="367.59" cy="148.73" r="0.6" fill="none" stroke="#111" stroke-width="0.4" stroke-opacity="0.8"/>
<circle cx="363.10" cy="163.70" r="0.6" fill="none" stroke="#111" stroke-width="0.4" stroke-opacity="0.8"/>
<circle cx="362.94" cy="139.03" r="0.6" fill="none" stroke="#111" stroke-width="0.4" stroke-opacity="0.8"/>
<circle cx="373.09" cy="154.97" r="0.6" fill="none" stroke="#111" stroke-width="0.4" stroke-opacity="0.8"/>
<circle cx="368.29" cy="110.70" r="0.6" fill="none" stroke="#111" stroke-width="0.4" stroke-opacity="0.8"/>
<circle cx="367.20" cy="148.78" r="0.6" fill="none" stroke="#111" stroke-width="0.4" stroke-opacity="0.8"/>
<circle cx="361.77" cy="149.21" r="0.6" fill="none" stroke="#111" stroke-width="0.4" stroke-opacity="0.8"/>
<circle cx="368.76" cy="153.25" r="0.6" fill="none" stroke="#111" stroke-width="0.4" stroke-opacity="0.8"/>
<circle cx="366.40" cy="142.11" r="0.6" fill="none" stroke="#111" stroke-width="0.4" stroke-opacity="0.8"/>
<circle cx="367.13" cy="150.38" r="0.6" fill="none" stroke="#111" stroke-width="0.4" stroke-opacity="0.8"/>
<circle cx="366.62" cy="144.80" r="0.6" fill="none" stroke="#111" stroke-width="0.4" stroke-opacity="0.8"/>
<circle cx="367.99" cy="111.60" r="0.6" fill="none" stroke="#111" stroke-width="0.4" stroke-opacity="0.8"/>
<circle cx="370.16" cy="144.52" r="0.6" fill="none" stroke="#111" stroke-width="0.4" stroke-opacity="0.8"/>
<circle cx="367.99" cy="130.03" r="0.6" fill="none" stroke="#111" stroke-width="0.4" stroke-opacity="0.8"/>
<circle cx="368.46" cy="150.09" r="0.6" fill="none" stroke="#111" stroke-width="0.4" stroke-opacity="0.8"/>
<circle cx="371.83" cy="158.50" r="0.6" fill="none" stroke="#111" stroke-width="0.4" stroke-opacity="0.8"/>
<circle cx="364.40" cy="129.59" r="0.6" fill="none" stroke="#111" stroke-width="0.4" stroke-opacity="0.8"/>
<circle cx="370.96" cy="153.31" r="0.6" fill="none" stroke="#111" stroke-width="0.4" stroke-opacity="0.8"/>
<circle cx="369.60" cy="154.20" r="0.6" fill="none" stroke="#111" stroke-width="0.4" stroke-opacity="0.8"/>
<circle cx="366.05" cy="133.49" r="0.6" fill="none" stroke="#111" stroke-width="0.4" stroke-opacity="0.8"/>
<circle cx="366.32" cy="153.74" r="0.6" fill="none" stroke="#111" stroke-width="0.4" stroke-opacity="0.8"/>
<circle cx="366.15" cy="117.43" r="0.6" fill="none" stroke="#111" stroke-width="0.4" stroke-opacity="0.8"/>
<circle cx="371.70" cy="163.70" r="0.6" fill="none" stroke="#111" stroke-width="0.4" stroke-opacity="0.8"/>
<circle cx="366.66" cy="132.57" r="0.6" fill="none" stroke="#111" stroke-width="0.4" stroke-opacity="0.8"/>
<circle cx="365.95" cy="144.91" r="0.6" fill="none" stroke="#111" stroke-width="0.4" stroke-opacity="0.8"/>
<circle cx="367.90" cy="159.41" r="0.6" fill="none" stroke="#111" stroke-width="0.4" stroke-opacity="0.8"/>
<circle cx="370.54" cy="127.20" r="0.6" fill="none" stroke="#111" stroke-width="0.4" stroke-opacity="0.8"/>
<circle cx="368.67" cy="133.96" r="0.6" fill="none" stroke="#111" stroke-width="0.4" stroke-opacity="0.8"/>
<circle cx="367.17" cy="141.63" r="0.6" fill="none" stroke="#111" stroke-width="0.4" stroke-opacity="0.8"/>
<circle cx="366.11" cy="146.17" r="0.6" fill="none" stroke="#111" stroke-width="0.4" stroke-opacity="0.8"/>
<circle cx="363.85" cy="117.01" r="0.6" fill="none" stroke="#111" stroke-width="0.4" stroke-opacity="0.8"/>
<circle cx="366.61" cy="124.78" r="0.6" fill="none" stroke="#111" stroke-width="0.4" stroke-opacity="0.8"/>
<circle cx="368.20" cy="141.49" r="0.6" fill="none" stroke="#111" stroke-width="0.4" stroke-opacity="0.8"/>
<circle cx="368.39" cy="149.27" r="0.6" fill="none" stroke="#111" stroke-width="0.4" stroke-opacity="0.8"/>
<circle cx="366.70" cy="131.14" r="0.6" fill="none" stroke="#111" stroke-width="0.4" stroke-opacity="0.8"/>
<circle cx="367.73" cy="113.32" r="0.6" fill="none" stroke="#111" stroke-width="0.4" stroke-opacity="0.8"/>
<circle cx="369.53" cy="148.32" r="0.6" fill="none" stroke="#111" stroke-width="0.4" stroke-opacity="0.8"/>
<circle cx="367.56" cy="140.17" r="0.6" fill="none" stroke="#111" stroke-width="0.4" stroke-opacity="0.8"/>
<circle cx="368.08" cy="154.38" r="0.6" fill="none" stroke="#111" stroke-width="0.4" stroke-opacity="0.8"/>
<circle cx="369.16" cy="151.72" r="0.6" fill="none" stroke="#111" stroke-width="0.4" stroke-opacity="0.8"/>
<circle cx="371.71" cy="144.66" r="0.6" fill="none" stroke="#111" stroke-width="0.4" stroke-opacity="0.8"/>
<circle cx="367.05" cy="134.10" r="0.6" fill="none" stroke="#111" stroke-width="0.4" stroke-opacity="0.8"/>
<circle cx="366.54" cy="130.94" r="0.6" fill="none" stroke="#111" stroke-width="0.4" stroke-opacity="0.8"/>
<circle cx="371.39" cy="162.71" r="0.6" fill="none" stroke="#111" stroke-width="0.4" stroke-opacity="0.8"/>
<circle cx="369.64" cy="142.11" r="0.6" fill="none" stroke="#111" stroke-width="0.4" stroke-opacity="0.8"/>
<circle cx="369.58" cy="157.60" r="0.6" fill="none" stroke="#111" stroke-width="0.4" stroke-opacity="0.8"/>
<circle cx="365.65" cy="158.00" r="0.6" fill="none" stroke="#111" stroke-width="0.4" stroke-opacity="0.8"/>
<circle cx="368.91" cy="133.21" r="0.6" fill="none" stroke="#111" stroke-width="0.4" stroke-opacity="0.8"/>
<circle cx="368.25" cy="161.09" r="0.6" fill="none" stroke="#111" stroke-width="0.4" stroke-opacity="0.8"/>
<circle cx="367.38" cy="130.26" r="0.6" fill="none" stroke="#111" stroke-width="0.4" stroke-opacity="0.8"/>
<circle cx="366.42" cy="132.92" r="0.6" fill="none" stroke="#111" stroke-width="0.4" stroke-opacity="0.8"/>
<circle cx="366.86" cy="161.98" r="0.6" fill="none" stroke="#111" stroke-width="0.4" stroke-opacity="0.8"/>
<circle cx="374.10" cy="142.07" r="0.6" fill="none" stroke="#111" stroke-width="0.4" stroke-opacity="0.8"/>
<circle cx="368.69" cy="157.72" r="0.6" fill="none" stroke="#111" stroke-width="0.4" stroke-opacity="0.8"/>
<circle cx="369.20" cy="133.58" r="0.6" fill="none" stroke="#111" stroke-width="0.4" stroke-opacity="0.8"/>
<circle cx="369.23" cy="163.60" r="0.6" fill="none" stroke="#111" stroke-width="0.4" stroke-opacity="0.8"/>
<circle cx="368.24" cy="158.76" r="0.6" fill="none" stroke="#111" stroke-width="0.4" stroke-opacity="0.8"/>
<circle cx="367.49" cy="148.74" r="0.6" fill="none" stroke="#111" stroke-width="0.4" stroke-opacity="0.8"/>
<circle cx="371.69" cy="147.54" r="0.6" fill="none" stroke="#111" stroke-width="0.4" stroke-opacity="0.8"/>
<circle cx="367.93" cy="122.57" r="0.6" fill="none" stroke="#111" stroke-width="0.4" stroke-opacity="0.8"/>
<circle cx="366.45" cy="145.03" r="0.6" fill="none" stroke="#111" stroke-width="0.4" stroke-opacity="0.8"/>
<circle cx="370.25" cy="137.66" r="0.6" fill="none" stroke="#111" stroke-width="0.4" stroke-opacity="0.8"/>
<circle cx="369.25" cy="163.70" r="0.6" fill="none" stroke="#111" stroke-width="0.4" stroke-opacity="0.8"/>
<circle cx="363.71" cy="146.18" r="0.6" fill="none" stroke="#111" stroke-width="0.4" stroke-opacity="0.8"/>
<circle cx="368.20" cy="163.70" r="0.6" fill="none" stroke="#111" stroke-width="0.4" stroke-opacity="0.8"/>
<circle cx="364.92" cy="141.35" r="0.6" fill="none" stroke="#111" stroke-width="0.4" stroke-opacity="0.8"/>
<circle cx="364.98" cy="141.04" r="0.6" fill="none" stroke="#111" stroke-width="0.4" stroke-opacity="0.8"/>
<circle cx="369.36" cy="142.75" r="0.6" fill="none" stroke="#111" stroke-width="0.4" stroke-opacity="0.8"/>
<circle cx="368.83" cy="142.22" r="0.6" fill="none" stroke="#111" stroke-width="0.4" stroke-opacity="0.8"/>
<circle cx="370.77" cy="130.35" r="0.6" fill="none" stroke="#111" stroke-width="0.4" stroke-opacity="0.8"/>
<circle cx="364.60" cy="133.02" r="0.6" fill="none" stroke="#111" stroke-width="0.4" stroke-opacity="0.8"/>
<circle cx="365.91" cy="139.28" r="0.6" fill="none" stroke="#111" stroke-width="0.4" stroke-opacity="0.8"/>
<circle cx="367.38" cy="128.23" r="0.6" fill="none" stroke="#111" stroke-width="0.4" stroke-opacity="0.8"/>
<circle cx="364.74" cy="145.71" r="0.6" fill="none" stroke="#111" stroke-width="0.4" stroke-opacity="0.8"/>
<circle cx="372.04" cy="139.95" r="0.6" fill="none" stroke="#111" stroke-width="0.4" stroke-opacity="0.8"/>
<circle cx="367.76" cy="150.98" r="0.6" fill="none" stroke="#111" stroke-width="0.4" stroke-opacity="0.8"/>
<circle cx="367.71" cy="143.52" r="0.6" fill="none" stroke="#111" stroke-width="0.4" stroke-opacity="0.8"/>
<circle cx="370.10" cy="141.16" r="0.6" fill="none" stroke="#111" stroke-width="0.4" stroke-opacity="0.8"/>
<circle cx="361.55" cy="140.56" r="0.6" fill="none" stroke="#111" stroke-width="0.4" stroke-opacity="0.8"/>
<circle cx="365.56" cy="141.51" r="0.6" fill="none" stroke="#111" stroke-width="0.4" stroke-opacity="0.8"/>
<circle cx="366.89" cy="150.55" r="0.6" fill="none" stroke="#111" stroke-width="0.4" stroke-opacity="0.8"/>
<circle cx="374.15" cy="143.79" r="0.6" fill="none" stroke="#111" stroke-width="0.4" stroke-opacity="0.8"/>
<circle cx="365.91" cy="127.73" r="0.6" fill="none" stroke="#111" stroke-width="0.4" stroke-opacity="0.8"/>
<circle cx="363.50" cy="122.83" r="0.6" fill="none" stroke="#111" stroke-width="0.4" stroke-opacity="0.8"/>
<circle cx="368.74" cy="116.55" r="0.6" fill="none" stroke="#111" stroke-width="0.4" stroke-opacity="0.8"/>
<circle cx="364.50" cy="133.22" r="0.6" fill="none" stroke="#111" stroke-width="0.4" stroke-opacity="0.8"/>
<circle cx="369.22" cy="121.87" r="0.6" fill="none" stroke="#111" stroke-width="0.4" stroke-opacity="0.8"/>
<circle cx="367.35" cy="131.38" r="0.6" fill="none" stroke="#111" stroke-width="0.4" stroke-opacity="0.8"/>
<circle cx="371.85" cy="146.24" r="0.6" fill="none" stroke="#111" stroke-width="0.4" stroke-opacity="0.8"/>
<circle cx="370.01" cy="163.70" r="0.6" fill="none" stroke="#111" stroke-width="0.4" stroke-opacity="0.8"/>
<circle cx="368.57" cy="143.73" r="0.6" fill="none" stroke="#111" stroke-width="0.4" stroke-opacity="0.8"/>
<circle cx="370.76" cy="163.70" r="0.6" fill="none" stroke="#111" stroke-width="0.4" stroke-opacity="0.8"/>
<circle cx="369.33" cy="137.63" r="0.6" fill="none" stroke="#111" stroke-width="0.4" stroke-opacity="0.8"/>
<circle cx="368.20" cy="145.66" r="0.6" fill="none" stroke="#111" stroke-width="0.4" stroke-opacity="0.8"/>
<circle cx="364.34" cy="135.08" r="0.6" fill="none" stroke="#111" stroke-width="0.4" stroke-opacity="0.8"/>
<circle cx="363.73" cy="134.62" r="0.6" fill="none" stroke="#111" stroke-width="0.4" stroke-opacity="0.8"/>
<circle cx="369.07" cy="158.25" r="0.6" fill="none" stroke="#111" stroke-width="0.4" stroke-opacity="0.8"/>
<circle cx="370.70" cy="125.59" r="0.6" fill="none" stroke="#111" stroke-width="0.4" stroke-opacity="0.8"/>
<circle cx="364.42" cy="153.78" r="0.6" fill="none" stroke="#111" stroke-width="0.4" stroke-opacity="0.8"/>
<circle cx="369.59" cy="163.70" r="0.6" fill="none" stroke="#111" stroke-width="0.4" stroke-opacity="0.8"/>
<circle cx="365.71" cy="163.70" r="0.6" fill="none" stroke="#111" stroke-width="0.4" stroke-opacity="0.8"/>
<circle cx="369.23" cy="148.93" r="0.6" fill="none" stroke="#111" stroke-width="0.4" stroke-opacity="0.8"/>
<circle cx="368.53" cy="144.51" r="0.6" fill="none" stroke="#111" stroke-width="0.4" stroke-opacity="0.8"/>
<circle cx="365.21" cy="155.96" r="0.6" fill="none" stroke="#111" stroke-width="0.4" stroke-opacity="0.8"/>
<circle cx="365.40" cy="125.11" r="0.6" fill="none" stroke="#111" stroke-width="0.4" stroke-opacity="0.8"/>
<circle cx="366.35" cy="134.30" r="0.6" fill="none" stroke="#111" stroke-width="0.4" stroke-opacity="0.8"/>
<circle cx="368.80" cy="146.74" r="0.6" fill="none" stroke="#111" stroke-width="0.4" stroke-opacity="0.8"/>
<circle cx="366.16" cy="142.22" r="0.6" fill="none" stroke="#111" stroke-width="0.4" stroke-opacity="0.8"/>
<circle cx="370.72" cy="135.86" r="0.6" fill="none" stroke="#111" stroke-width="0.4" stroke-opacity="0.8"/>
<circle cx="368.24" cy="152.06" r="0.6" fill="none" stroke="#111" stroke-width="0.4" stroke-opacity="0.8"/>
<circle cx="372.40" cy="137.46" r="0.6" fill="none" stroke="#111" stroke-width="0.4" stroke-opacity="0.8"/>
<circle cx="369.87" cy="133.81" r="0.6" fill="none" stroke="#111" stroke-width="0.4" stroke-opacity="0.8"/>
<circle cx="367.55" cy="157.30" r="0.6" fill="none" stroke="#111" stroke-width="0.4" stroke-opacity="0.8"/>
<circle cx="365.93" cy="152.89" r="0.6" fill="none" stroke="#111" stroke-width="0.4" stroke-opacity="0.8"/>
<circle cx="368.43" cy="155.41" r="0.6" fill="none" stroke="#111" stroke-width="0.4" stroke-opacity="0.8"/>
<circle cx="369.32" cy="120.47" r="0.6" fill="none" stroke="#111" stroke-width="0.4" stroke-opacity="0.8"/>
<circle cx="370.49" cy="129.81" r="0.6" fill="none" stroke="#111" stroke-width="0.4" stroke-opacity="0.8"/>
<circle cx="367.74" cy="132.67" r="0.6" fill="none" stroke="#111" stroke-width="0.4" stroke-opacity="0.8"/>
<circle cx="367.12" cy="145.60" r="0.6" fill="none" stroke="#111" stroke-width="0.4" stroke-opacity="0.8"/>
<circle cx="366.50" cy="145.29" r="0.6" fill="none" stroke="#111" stroke-width="0.4" stroke-opacity="0.8"/>
<circle cx="368.06" cy="150.83" r="0.6" fill="none" stroke="#111" stroke-width="0.4" stroke-opacity="0.8"/>
<circle cx="361.55" cy="144.64" r="0.6" fill="none" stroke="#111" stroke-width="0.4" stroke-opacity="0.8"/>
<circle cx="368.11" cy="157.41" r="0.6" fill="none" stroke="#111" stroke-width="0.4" stroke-opacity="0.8"/>
<circle cx="368.23" cy="117.84" r="0.6" fill="none" stroke="#111" stroke-width="0.4" stroke-opacity="0.8"/>
<circle cx="371.05" cy="148.08" r="0.6" fill="none" stroke="#111" stroke-width="0.4" stroke-opacity="0.8"/>
<circle cx="370.99" cy="127.25" r="0.6" fill="none" stroke="#111" stroke-width="0.4" stroke-opacity="0.8"/>
<circle cx="374.55" cy="139.66" r="0.6" fill="none" stroke="#111" stroke-width="0.4" stroke-opacity="0.8"/>
<circle cx="369.95" cy="139.83" r="0.6" fill="none" stroke="#111" stroke-width="0.4" stroke-opacity="0.8"/>
<circle cx="364.93" cy="136.87" r="0.6" fill="none" stroke="#111" stroke-width="0.4" stroke-opacity="0.8"/>
<circle cx="369.77" cy="156.54" r="0.6" fill="none" stroke="#111" stroke-width="0.4" stroke-opacity="0.8"/>
<circle cx="369.68" cy="162.48" r="0.6" fill="none" stroke="#111" stroke-width="0.4" stroke-opacity="0.8"/>
<circle cx="363.40" cy="134.10" r="0.6" fill="none" stroke="#111" stroke-width="0.4" stroke-opacity="0.8"/>
<circle cx="366.77" cy="133.06" r="0.6" fill="none" stroke="#111" stroke-width="0.4" stroke-opacity="0.8"/>
<circle cx="369.16" cy="130.84" r="0.6" fill="none" stroke="#111" stroke-width="0.4" stroke-opacity="0.8"/>
<circle cx="367.29" cy="146.21" r="0.6" fill="none" stroke="#111" stroke-width="0.4" stroke-opacity="0.8"/>
<circle cx="367.64" cy="144.12" r="0.6" fill="none" stroke="#111" stroke-width="0.4" stroke-opacity="0.8"/>
<circle cx="370.16" cy="144.66" r="0.6" fill="none" stroke="#111" stroke-width="0.4" stroke-opacity="0.8"/>
<circle cx="366.75" cy="154.69" r="0.6" fill="none" stroke="#111" stroke-width="0.4" stroke-opacity="0.8"/>
<circle cx="370.76" cy="121.55" r="0.6" fill="none" stroke="#111" stroke-width="0.4" stroke-opacity="0.8"/>
<circle cx="371.15" cy="143.34" r="0.6" fill="none" stroke="#111" stroke-width="0.4" stroke-opacity="0.8"/>
<circle cx="367.42" cy="119.72" r="0.6" fill="none" stroke="#111" stroke-width="0.4" stroke-opacity="0.8"/>
<circle cx="364.01" cy="142.16" r="0.6" fill="none" stroke="#111" stroke-width="0.4" stroke-opacity="0.8"/>
<circle cx="370.08" cy="134.87" r="0.6" fill="none" stroke="#111" stroke-width="0.4" stroke-opacity="0.8"/>
<circle cx="371.08" cy="156.30" r="0.6" fill="none" stroke="#111" stroke-width="0.4" stroke-opacity="0.8"/>
<circle cx="365.39" cy="130.19" r="0.6" fill="none" stroke="#111" stroke-width="0.4" stroke-opacity="0.8"/>
<circle cx="370.68" cy="148.80" r="0.6" fill="none" stroke="#111" stroke-width="0.4" stroke-opacity="0.8"/>
<circle cx="364.41" cy="144.39" r="0.6" fill="none" stroke="#111" stroke-width="0.4" stroke-opacity="0.8"/>
<circle cx="369.56" cy="152.31" r="0.6" fill="none" stroke="#111" stroke-width="0.4" stroke-opacity="0.8"/>
<circle cx="366.69" cy="149.24" r="0.6" fill="none" stroke="#111" stroke-width="0.4" stroke-opacity="0.8"/>
<circle cx="370.26" cy="145.89" r="0.6" fill="none" stroke="#111" stroke-width="0.4" stroke-opacity="0.8"/>
<circle cx="362.89" cy="134.29" r="0.6" fill="none" stroke="#111" stroke-width="0.4" stroke-opacity="0.8"/>
<circle cx="369.40" cy="146.22" r="0.6" fill="none" stroke="#111" stroke-width="0.4" stroke-opacity="0.8"/>
<circle cx="370.54" cy="141.98" r="0.6" fill="none" stroke="#111" stroke-width="0.4" stroke-opacity="0.8"/>
<circle cx="367.82" cy="133.92" r="0.6" fill="none" stroke="#111" stroke-width="0.4" stroke-opacity="0.8"/>
<circle cx="369.65" cy="137.70" r="0.6" fill="none" stroke="#111" stroke-width="0.4" stroke-opacity="0.8"/>
<circle cx="367.57" cy="163.25" r="0.6" fill="none" stroke="#111" stroke-width="0.4" stroke-opacity="0.8"/>
<circle cx="370.96" cy="163.70" r="0.6" fill="none" stroke="#111" stroke-width="0.4" stroke-opacity="0.8"/>
<circle cx="369.17" cy="152.43" r="0.6" fill="none" stroke="#111" stroke-width="0.4" stroke-opacity="0.8"/>
<circle cx="367.71" cy="163.70" r="0.6" fill="none" stroke="#111" stroke-width="0.4" stroke-opacity="0.8"/>
<circle cx="365.07" cy="140.30" r="0.6" fill="none" stroke="#111" stroke-width="0.4" stroke-opacity="0.8"/>
<circle cx="371.82" cy="148.15" r="0.6" fill="none" stroke="#111" stroke-width="0.4" stroke-opacity="0.8"/>
<circle cx="369.23" cy="148.96" r="0.6" fill="none" stroke="#111" stroke-width="0.4" stroke-opacity="0.8"/>
<circle cx="368.52" cy="139.10" r="0.6" fill="none" stroke="#111" stroke-width="0.4" stroke-opacity="0.8"/>
<circle cx="370.04" cy="122.65" r="0.6" fill="none" stroke="#111" stroke-width="0.4" stroke-opacity="0.8"/>
<circle cx="364.96" cy="136.29" r="0.6" fill="none" stroke="#111" stroke-width="0.4" stroke-opacity="0.8"/>
<circle cx="366.48" cy="131.70" r="0.6" fill="none" stroke="#111" stroke-width="0.4" stroke-opacity="0.8"/>
<circle cx="370.06" cy="153.29" r="0.6" fill="none" stroke="#111" stroke-width="0.4" stroke-opacity="0.8"/>
<circle cx="369.81" cy="123.55" r="0.6" fill="none" stroke="#111" stroke-width="0.4" stroke-opacity="0.8"/>
<circle cx="366.95" cy="153.74" r="0.6" fill="none" stroke="#111" stroke-width="0.4" stroke-opacity="0.8"/>
<circle cx="366.63" cy="121.82" r="0.6" fill="none" stroke="#111" stroke-width="0.4" stroke-opacity="0.8"/>
<circle cx="368.70" cy="133.28" r="0.6" fill="none" stroke="#111" stroke-width="0.4" stroke-opacity="0.8"/>
<circle cx="362.37" cy="136.99" r="0.6" fill="none" stroke="#111" stroke-width="0.4" stroke-opacity="0.8"/>
<circle cx="363.75" cy="144.94" r="0.6" fill="none" stroke="#111" stroke-width="0.4" stroke-opacity="0.8"/>
<circle cx="365.76" cy="153.97" r="0.6" fill="none" stroke="#111" stroke-width="0.4" stroke-opacity="0.8"/>
<circle cx="366.43" cy="132.49" r="0.6" fill="none" stroke="#111" stroke-width="0.4" stroke-opacity="0.8"/>
<circle cx="371.68" cy="134.51" r="0.6" fill="none" stroke="#111" stroke-width="0.4" stroke-opacity="0.8"/>
<circle cx="369.19" cy="153.25" r="0.6" fill="none" stroke="#111" stroke-width="0.4" stroke-opacity="0.8"/>
<circle cx="363.72" cy="146.09" r="0.6" fill="none" stroke="#111" stroke-width="0.4" stroke-opacity="0.8"/>
<circle cx="366.51" cy="134.80" r="0.6" fill="none" stroke="#111" stroke-width="0.4" stroke-opacity="0.8"/>
<circle cx="369.02" cy="128.66" r="0.6" fill="none" stroke="#111" stroke-width="0.4" stroke-opacity="0.8"/>
<circle cx="366.70" cy="131.84" r="0.6" fill="none" stroke="#111" stroke-width="0.4" stroke-opacity="0.8"/>
<circle cx="364.14" cy="127.76" r="0.6" fill="none" stroke="#111" stroke-width="0.4" stroke-opacity="0.8"/>
<circle cx="371.78" cy="149.80" r="0.6" fill="none" stroke="#111" stroke-width="0.4" stroke-opacity="0.8"/>
<circle cx="365.32" cy="144.15" r="0.6" fill="none" stroke="#111" stroke-width="0.4" stroke-opacity="0.8"/>
<circle cx="368.38" cy="110.70" r="0.6" fill="none" stroke="#111" stroke-width="0.4" stroke-opacity="0.8"/>
<circle cx="368.61" cy="158.15" r="0.6" fill="none" stroke="#111" stroke-width="0.4" stroke-opacity="0.8"/>
<circle cx="370.86" cy="154.26" r="0.6" fill="none" stroke="#111" stroke-width="0.4" stroke-opacity="0.8"/>
<circle cx="367.21" cy="156.95" r="0.6" fill="none" stroke="#111" stroke-width="0.4" stroke-opacity="0.8"/>
<circle cx="369.52" cy="155.94" r="0.6" fill="none" stroke="#111" stroke-width="0.4" stroke-opacity="0.8"/>
<circle cx="367.28" cy="121.14" r="0.6" fill="none" stroke="#111" stroke-width="0.4" stroke-opacity="0.8"/>
<line x1="368.05" y1="109.70" x2="368.05" y2="133.40" stroke="#000" stroke-width="1.0"/>
<line x1="368.05" y1="150.20" x2="368.05" y2="164.20" stroke="#000" stroke-width="1.0"/>
<line x1="400.75" y1="114.50" x2="400.75" y2="139.20" stroke="#000" stroke-width="1.0"/>
<line x1="400.75" y1="155.00" x2="400.75" y2="164.00" stroke="#000" stroke-width="1.0"/>
<line x1="395.25" y1="114.50" x2="406.25" y2="114.50" stroke="#000" stroke-width="1.0"/>
<line x1="395.25" y1="164.00" x2="406.25" y2="164.00" stroke="#000" stroke-width="1.0"/>
<rect x="390.20" y="139.20" width="21.10" height="15.80" fill="#f03e2e" stroke="#000" stroke-width="1.0"/>
<line x1="390.20" y1="147.00" x2="411.30" y2="147.00" stroke="#000" stroke-width="1.0"/>
<circle cx="400.54" cy="129.10" r="0.6" fill="none" stroke="#111" stroke-width="0.4" stroke-opacity="0.8"/>
<circle cx="397.76" cy="154.41" r="0.6" fill="none" stroke="#111" stroke-width="0.4" stroke-opacity="0.8"/>
<circle cx="403.22" cy="121.11" r="0.6" fill="none" stroke="#111" stroke-width="0.4" stroke-opacity="0.8"/>
<circle cx="404.87" cy="151.86" r="0.6" fill="none" stroke="#111" stroke-width="0.4" stroke-opacity="0.8"/>
<circle cx="402.77" cy="130.37" r="0.6" fill="none" stroke="#111" stroke-width="0.4" stroke-opacity="0.8"/>
<circle cx="404.56" cy="163.50" r="0.6" fill="none" stroke="#111" stroke-width="0.4" stroke-opacity="0.8"/>
<circle cx="401.50" cy="144.44" r="0.6" fill="none" stroke="#111" stroke-width="0.4" stroke-opacity="0.8"/>
<circle cx="403.55" cy="145.15" r="0.6" fill="none" stroke="#111" stroke-width="0.4" stroke-opacity="0.8"/>
<circle cx="400.92" cy="160.22" r="0.6" fill="none" stroke="#111" stroke-width="0.4" stroke-opacity="0.8"/>
<circle cx="402.16" cy="129.92" r="0.6" fill="none" stroke="#111" stroke-width="0.4" stroke-opacity="0.8"/>
<circle cx="402.51" cy="141.16" r="0.6" fill="none" stroke="#111" stroke-width="0.4" stroke-opacity="0.8"/>
<circle cx="405.30" cy="150.43" r="0.6" fill="none" stroke="#111" stroke-width="0.4" stroke-opacity="0.8"/>
<circle cx="399.89" cy="161.48" r="0.6" fill="none" stroke="#111" stroke-width="0.4" stroke-opacity="0.8"/>
<circle cx="405.69" cy="151.51" r="0.6" fill="none" stroke="#111" stroke-width="0.4" stroke-opacity="0.8"/>
<circle cx="401.96" cy="140.31" r="0.6" fill="none" stroke="#111" stroke-width="0.4" stroke-opacity="0.8"/>
<circle cx="403.14" cy="162.15" r="0.6" fill="none" stroke="#111" stroke-width="0.4" stroke-opacity="0.8"/>
<circle cx="397.05" cy="153.66" r="0.6" fill="none" stroke="#111" stroke-width="0.4" stroke-opacity="0.8"/>
<circle cx="401.22" cy="131.16" r="0.6" fill="none" stroke="#111" stroke-width="0.4" stroke-opacity="0.8"/>
<circle cx="407.25" cy="152.00" r="0.6" fill="none" stroke="#111" stroke-width="0.4" stroke-opacity="0.8"/>
<circle cx="402.91" cy="136.21" r="0.6" fill="none" stroke="#111" stroke-width="0.4" stroke-opacity="0.8"/>
<circle cx="397.57" cy="156.84" r="0.6" fill="none" stroke="#111" stroke-width="0.4" stroke-opacity="0.8"/>
<circle cx="401.07" cy="136.76" r="0.6" fill="none" stroke="#111" stroke-width="0.4" stroke-opacity="0.8"/>
<circle cx="400.32" cy="140.86" r="0.6" fill="none" stroke="#111" stroke-width="0.4" stroke-opacity="0.8"/>
<circle cx="398.48" cy="153.04" r="0.6" fill="none" stroke="#111" stroke-width="0.4" stroke-opacity="0.8"/>
<circle cx="398.97" cy="153.00" r="0.6" fill="none" stroke="#111" stroke-width="0.4" stroke-opacity="0.8"/>
<circle cx="402.25" cy="140.22" r="0.6" fill="none" stroke="#111" stroke-width="0.4" stroke-opacity="0.8"/>
<circle cx="401.55" cy="139.85" r="0.6" fill="none" stroke="#111" stroke-width="0.4" stroke-opacity="0.8"/>
<circle cx="400.80" cy="163.50" r="0.6" fill="none" stroke="#111" stroke-width="0.4" stroke-opacity="0.8"/>
<circle cx="402.81" cy="145.25" r="0.6" fill="none" stroke="#111" stroke-width="0.4" stroke-opacity="0.8"/>
<circle cx="403.78" cy="142.48" r="0.6" fill="none" stroke="#111" stroke-width="0.4" stroke-opacity="0.8"/>
<circle cx="401.93" cy="130.88" r="0.6" fill="none" stroke="#111" stroke-width="0.4" stroke-opacity="0.8"/>
<circle cx="398.51" cy="140.63" r="0.6" fill="none" stroke="#111" stroke-width="0.4" stroke-opacity="0.8"/>
<circle cx="399.13" cy="163.50" r="0.6" fill="none" stroke="#111" stroke-width="0.4" stroke-opacity="0.8"/>
<circle cx="402.00" cy="163.50" r="0.6" fill="none" stroke="#111" stroke-width="0.4" stroke-opacity="0.8"/>
<circle cx="398.89" cy="163.50" r="0.6" fill="none" stroke="#111" stroke-width="0.4" stroke-opacity="0.8"/>
<circle cx="403.52" cy="162.25" r="0.6" fill="none" stroke="#111" stroke-width="0.4" stroke-opacity="0.8"/>
<circle cx="400.39" cy="145.63" r="0.6" fill="none" stroke="#111" stroke-width="0.4" stroke-opacity="0.8"/>
<circle cx="401.09" cy="163.50" r="0.6" fill="none" stroke="#111" stroke-width="0.4" stroke-opacity="0.8"/>
<circle cx="398.99" cy="141.76" r="0.6" fill="none" stroke="#111" stroke-width="0.4" stroke-opacity="0.8"/>
<circle cx="401.68" cy="152.74" r="0.6" fill="none" stroke="#111" stroke-width="0.4" stroke-opacity="0.8"/>
<circle cx="405.57" cy="149.34" r="0.6" fill="none" stroke="#111" stroke-width="0.4" stroke-opacity="0.8"/>
<circle cx="402.07" cy="142.96" r="0.6" fill="none" stroke="#111" stroke-width="0.4" stroke-opacity="0.8"/>
<circle cx="398.84" cy="163.50" r="0.6" fill="none" stroke="#111" stroke-width="0.4" stroke-opacity="0.8"/>
<circle cx="404.23" cy="160.23" r="0.6" fill="none" stroke="#111" stroke-width="0.4" stroke-opacity="0.8"/>
<circle cx="398.66" cy="129.98" r="0.6" fill="none" stroke="#111" stroke-width="0.4" stroke-opacity="0.8"/>
<circle cx="397.24" cy="133.97" r="0.6" fill="none" stroke="#111" stroke-width="0.4" stroke-opacity="0.8"/>
<circle cx="395.55" cy="152.82" r="0.6" fill="none" stroke="#111" stroke-width="0.4" stroke-opacity="0.8"/>
<circle cx="404.82" cy="153.41" r="0.6" fill="none" stroke="#111" stroke-width="0.4" stroke-opacity="0.8"/>
<circle cx="400.15" cy="126.68" r="0.6" fill="none" stroke="#111" stroke-width="0.4" stroke-opacity="0.8"/>
<circle cx="402.23" cy="122.86" r="0.6" fill="none" stroke="#111" stroke-width="0.4" stroke-opacity="0.8"/>
<circle cx="400.24" cy="137.78" r="0.6" fill="none" stroke="#111" stroke-width="0.4" stroke-opacity="0.8"/>
<circle cx="402.28" cy="147.79" r="0.6" fill="none" stroke="#111" stroke-width="0.4" stroke-opacity="0.8"/>
<circle cx="400.79" cy="142.72" r="0.6" fill="none" stroke="#111" stroke-width="0.4" stroke-opacity="0.8"/>
<circle cx="401.07" cy="140.19" r="0.6" fill="none" stroke="#111" stroke-width="0.4" stroke-opacity="0.8"/>
<circle cx="400.87" cy="132.28" r="0.6" fill="none" stroke="#111" stroke-width="0.4" stroke-opacity="0.8"/>
<circle cx="399.82" cy="122.68" r="0.6" fill="none" stroke="#111" stroke-width="0.4" stroke-opacity="0.8"/>
<circle cx="400.90" cy="163.50" r="0.6" fill="none" stroke="#111" stroke-width="0.4" stroke-opacity="0.8"/>
<circle cx="401.24" cy="131.17" r="0.6" fill="none" stroke="#111" stroke-width="0.4" stroke-opacity="0.8"/>
<circle cx="397.61" cy="134.81" r="0.6" fill="none" stroke="#111" stroke-width="0.4" stroke-opacity="0.8"/>
<circle cx="402.15" cy="137.79" r="0.6" fill="none" stroke="#111" stroke-width="0.4" stroke-opacity="0.8"/>
<circle cx="400.48" cy="151.95" r="0.6" fill="none" stroke="#111" stroke-width="0.4" stroke-opacity="0.8"/>
<circle cx="398.70" cy="135.39" r="0.6" fill="none" stroke="#111" stroke-width="0.4" stroke-opacity="0.8"/>
<circle cx="401.21" cy="163.50" r="0.6" fill="none" stroke="#111" stroke-width="0.4" stroke-opacity="0.8"/>
<circle cx="396.74" cy="135.07" r="0.6" fill="none" stroke="#111" stroke-width="0.4" stroke-opacity="0.8"/>
<circle cx="405.45" cy="129.78" r="0.6" fill="none" stroke="#111" stroke-width="0.4" stroke-opacity="0.8"/>
<circle cx="400.60" cy="132.58" r="0.6" fill="none" stroke="#111" stroke-width="0.4" stroke-opacity="0.8"/>
<circle cx="400.31" cy="149.76" r="0.6" fill="none" stroke="#111" stroke-width="0.4" stroke-opacity="0.8"/>
<circle cx="396.90" cy="143.58" r="0.6" fill="none" stroke="#111" stroke-width="0.4" stroke-opacity="0.8"/>
<circle cx="403.96" cy="133.81" r="0.6" fill="none" stroke="#111" stroke-width="0.4" stroke-opacity="0.8"/>
<circle cx="402.36" cy="137.54" r="0.6" fill="none" stroke="#111" stroke-width="0.4" stroke-opacity="0.8"/>
<circle cx="400.23" cy="125.69" r="0.6" fill="none" stroke="#111" stroke-width="0.4" stroke-opacity="0.8"/>
<circle cx="403.65" cy="150.40" r="0.6" fill="none" stroke="#111" stroke-width="0.4" stroke-opacity="0.8"/>
<circle cx="401.88" cy="132.91" r="0.6" fill="none" stroke="#111" stroke-width="0.4" stroke-opacity="0.8"/>
<circle cx="398.68" cy="151.98" r="0.6" fill="none" stroke="#111" stroke-width="0.4" stroke-opacity="0.8"/>
<circle cx="398.24" cy="153.13" r="0.6" fill="none" stroke="#111" stroke-width="0.4" stroke-opacity="0.8"/>
<circle cx="400.71" cy="137.04" r="0.6" fill="none" stroke="#111" stroke-width="0.4" stroke-opacity="0.8"/>
<circle cx="400.54" cy="115.50" r="0.6" fill="none" stroke="#111" stroke-width="0.4" stroke-opacity="0.8"/>
<circle cx="397.97" cy="134.46" r="0.6" fill="none" stroke="#111" stroke-width="0.4" stroke-opacity="0.8"/>
<circle cx="402.89" cy="141.73" r="0.6" fill="none" stroke="#111" stroke-width="0.4" stroke-opacity="0.8"/>
<circle cx="404.29" cy="141.99" r="0.6" fill="none" stroke="#111" stroke-width="0.4" stroke-opacity="0.8"/>
<circle cx="398.26" cy="132.44" r="0.6" fill="none" stroke="#111" stroke-width="0.4" stroke-opacity="0.8"/>
<circle cx="401.51" cy="163.50" r="0.6" fill="none" stroke="#111" stroke-width="0.4" stroke-opacity="0.8"/>
<circle cx="399.18" cy="159.04" r="0.6" fill="none" stroke="#111" stroke-width="0.4" stroke-opacity="0.8"/>
<circle cx="401.24" cy="157.27" r="0.6" fill="none" stroke="#111" stroke-width="0.4" stroke-opacity="0.8"/>
<circle cx="400.80" cy="155.30" r="0.6" fill="none" stroke="#111" stroke-width="0.4" stroke-opacity="0.8"/>
<circle cx="399.52" cy="162.35" r="0.6" fill="none" stroke="#111" stroke-width="0.4" stroke-opacity="0.8"/>
<circle cx="397.94" cy="134.92" r="0.6" fill="none" stroke="#111" stroke-width="0.4" stroke-opacity="0.8"/>
<circle cx="399.35" cy="161.77" r="0.6" fill="none" stroke="#111" stroke-width="0.4" stroke-opacity="0.8"/>
<circle cx="398.96" cy="133.91" r="0.6" fill="none" stroke="#111" stroke-width="0.4" stroke-opacity="0.8"/>
<circle cx="397.19" cy="141.47" r="0.6" fill="none" stroke="#111" stroke-width="0.4" stroke-opacity="0.8"/>
<circle cx="398.99" cy="143.43" r="0.6" fill="none" stroke="#111" stroke-width="0.4" stroke-opacity="0.8"/>
<circle cx="398.06" cy="140.13" r="0.6" fill="none" stroke="#111" stroke-width="0.4" stroke-opacity="0.8"/>
<circle cx="399.46" cy="147.56" r="0.6" fill="none" stroke="#111" stroke-width="0.4" stroke-opacity="0.8"/>
<circle cx="401.45" cy="148.55" r="0.6" fill="none" stroke="#111" stroke-width="0.4" stroke-opacity="0.8"/>
<circle cx="394.62" cy="151.40" r="0.6" fill="none" stroke="#111" stroke-width="0.4" stroke-opacity="0.8"/>
<circle cx="398.52" cy="140.33" r="0.6" fill="none" stroke="#111" stroke-width="0.4" stroke-opacity="0.8"/>
<circle cx="397.75" cy="156.89" r="0.6" fill="none" stroke="#111" stroke-width="0.4" stroke-opacity="0.8"/>
<circle cx="400.19" cy="138.07" r="0.6" fill="none" stroke="#111" stroke-width="0.4" stroke-opacity="0.8"/>
<circle cx="403.53" cy="142.85" r="0.6" fill="none" stroke="#111" stroke-width="0.4" stroke-opacity="0.8"/>
<circle cx="403.45" cy="141.50" r="0.6" fill="none" stroke="#111" stroke-width="0.4" stroke-opacity="0.8"/>
<circle cx="397.31" cy="128.57" r="0.6" fill="none" stroke="#111" stroke-width="0.4" stroke-opacity="0.8"/>
<circle cx="401.58" cy="162.51" r="0.6" fill="none" stroke="#111" stroke-width="0.4" stroke-opacity="0.8"/>
<circle cx="401.09" cy="153.26" r="0.6" fill="none" stroke="#111" stroke-width="0.4" stroke-opacity="0.8"/>
<circle cx="397.35" cy="153.22" r="0.6" fill="none" stroke="#111" stroke-width="0.4" stroke-opacity="0.8"/>
<circle cx="399.74" cy="159.09" r="0.6" fill="none" stroke="#111" stroke-width="0.4" stroke-opacity="0.8"/>
<circle cx="400.92" cy="159.56" r="0.6" fill="none" stroke="#111" stroke-width="0.4" stroke-opacity="0.8"/>
<circle cx="398.30" cy="122.15" r="0.6" fill="none" stroke="#111" stroke-width="0.4" stroke-opacity="0.8"/>
<circle cx="400.49" cy="161.35" r="0.6" fill="none" stroke="#111" stroke-width="0.4" stroke-opacity="0.8"/>
<circle cx="401.43" cy="142.10" r="0.6" fill="none" stroke="#111" stroke-width="0.4" stroke-opacity="0.8"/>
<circle cx="399.23" cy="141.73" r="0.6" fill="none" stroke="#111" stroke-width="0.4" stroke-opacity="0.8"/>
<line x1="400.75" y1="114.50" x2="400.75" y2="139.20" stroke="#000" stroke-width="1.0"/>
<line x1="400.75" y1="155.00" x2="400.75" y2="164.00" stroke="#000" stroke-width="1.0"/>
<line x1="433.45" y1="97.60" x2="433.45" y2="129.50" stroke="#000" stroke-width="1.0"/>
<line x1="433.45" y1="149.50" x2="433.45" y2="164.20" stroke="#000" stroke-width="1.0"/>
<line x1="427.95" y1="97.60" x2="438.95" y2="97.60" stroke="#000" stroke-width="1.0"/>
<line x1="427.95" y1="164.20" x2="438.95" y2="164.20" stroke="#000" stroke-width="1.0"/>
<rect x="422.90" y="129.50" width="21.10" height="20.00" fill="#74ecec" stroke="#000" stroke-width="1.0"/>
<line x1="422.90" y1="140.50" x2="444.00" y2="140.50" stroke="#000" stroke-width="1.0"/>
<circle cx="433.85" cy="141.14" r="0.6" fill="none" stroke="#111" stroke-width="0.4" stroke-opacity="0.8"/>
<circle cx="433.54" cy="163.70" r="0.6" fill="none" stroke="#111" stroke-width="0.4" stroke-opacity="0.8"/>
<circle cx="436.88" cy="163.70" r="0.6" fill="none" stroke="#111" stroke-width="0.4" stroke-opacity="0.8"/>
<circle cx="435.47" cy="163.70" r="0.6" fill="none" stroke="#111" stroke-width="0.4" stroke-opacity="0.8"/>
<circle cx="433.83" cy="141.59" r="0.6" fill="none" stroke="#111" stroke-width="0.4" stroke-opacity="0.8"/>
<circle cx="431.40" cy="137.22" r="0.6" fill="none" stroke="#111" stroke-width="0.4" stroke-opacity="0.8"/>
<circle cx="431.66" cy="138.44" r="0.6" fill="none" stroke="#111" stroke-width="0.4" stroke-opacity="0.8"/>
<circle cx="434.47" cy="163.70" r="0.6" fill="none" stroke="#111" stroke-width="0.4" stroke-opacity="0.8"/>
<circle cx="428.09" cy="132.36" r="0.6" fill="none" stroke="#111" stroke-width="0.4" stroke-opacity="0.8"/>
<circle cx="432.28" cy="138.65" r="0.6" fill="none" stroke="#111" stroke-width="0.4" stroke-opacity="0.8"/>
<circle cx="431.29" cy="122.13" r="0.6" fill="none" stroke="#111" stroke-width="0.4" stroke-opacity="0.8"/>
<circle cx="434.53" cy="103.50" r="0.6" fill="none" stroke="#111" stroke-width="0.4" stroke-opacity="0.8"/>
<circle cx="439.95" cy="138.45" r="0.6" fill="none" stroke="#111" stroke-width="0.4" stroke-opacity="0.8"/>
<circle cx="433.03" cy="139.00" r="0.6" fill="none" stroke="#111" stroke-width="0.4" stroke-opacity="0.8"/>
<circle cx="433.70" cy="162.61" r="0.6" fill="none" stroke="#111" stroke-width="0.4" stroke-opacity="0.8"/>
<circle cx="432.41" cy="142.18" r="0.6" fill="none" stroke="#111" stroke-width="0.4" stroke-opacity="0.8"/>
<circle cx="437.65" cy="129.82" r="0.6" fill="none" stroke="#111" stroke-width="0.4" stroke-opacity="0.8"/>
<circle cx="436.71" cy="155.51" r="0.6" fill="none" stroke="#111" stroke-width="0.4" stroke-opacity="0.8"/>
<circle cx="433.53" cy="133.90" r="0.6" fill="none" stroke="#111" stroke-width="0.4" stroke-opacity="0.8"/>
<circle cx="435.29" cy="125.41" r="0.6" fill="none" stroke="#111" stroke-width="0.4" stroke-opacity="0.8"/>
<circle cx="434.52" cy="117.21" r="0.6" fill="none" stroke="#111" stroke-width="0.4" stroke-opacity="0.8"/>
<circle cx="436.13" cy="157.04" r="0.6" fill="none" stroke="#111" stroke-width="0.4" stroke-opacity="0.8"/>
<circle cx="435.52" cy="124.46" r="0.6" fill="none" stroke="#111" stroke-width="0.4" stroke-opacity="0.8"/>
<circle cx="432.01" cy="128.08" r="0.6" fill="none" stroke="#111" stroke-width="0.4" stroke-opacity="0.8"/>
<circle cx="435.65" cy="118.33" r="0.6" fill="none" stroke="#111" stroke-width="0.4" stroke-opacity="0.8"/>
<circle cx="432.32" cy="163.70" r="0.6" fill="none" stroke="#111" stroke-width="0.4" stroke-opacity="0.8"/>
<circle cx="432.81" cy="127.35" r="0.6" fill="none" stroke="#111" stroke-width="0.4" stroke-opacity="0.8"/>
<circle cx="435.36" cy="163.70" r="0.6" fill="none" stroke="#111" stroke-width="0.4" stroke-opacity="0.8"/>
<circle cx="428.43" cy="130.82" r="0.6" fill="none" stroke="#111" stroke-width="0.4" stroke-opacity="0.8"/>
<circle cx="435.71" cy="128.74" r="0.6" fill="none" stroke="#111" stroke-width="0.4" stroke-opacity="0.8"/>
<circle cx="432.94" cy="163.70" r="0.6" fill="none" stroke="#111" stroke-width="0.4" stroke-opacity="0.8"/>
<circle cx="432.48" cy="128.44" r="0.6" fill="none" stroke="#111" stroke-width="0.4" stroke-opacity="0.8"/>
<circle cx="435.18" cy="109.33" r="0.6" fill="none" stroke="#111" stroke-width="0.4" stroke-opacity="0.8"/>
<circle cx="435.47" cy="122.13" r="0.6" fill="none" stroke="#111" stroke-width="0.4" stroke-opacity="0.8"/>
<circle cx="431.04" cy="112.18" r="0.6" fill="none" stroke="#111" stroke-width="0.4" stroke-opacity="0.8"/>
<circle cx="431.31" cy="144.11" r="0.6" fill="none" stroke="#111" stroke-width="0.4" stroke-opacity="0.8"/>
<circle cx="433.47" cy="152.00" r="0.6" fill="none" stroke="#111" stroke-width="0.4" stroke-opacity="0.8"/>
<circle cx="434.63" cy="120.70" r="0.6" fill="none" stroke="#111" stroke-width="0.4" stroke-opacity="0.8"/>
<circle cx="429.82" cy="152.97" r="0.6" fill="none" stroke="#111" stroke-width="0.4" stroke-opacity="0.8"/>
<circle cx="434.39" cy="163.70" r="0.6" fill="none" stroke="#111" stroke-width="0.4" stroke-opacity="0.8"/>
<circle cx="429.92" cy="151.66" r="0.6" fill="none" stroke="#111" stroke-width="0.4" stroke-opacity="0.8"/>
<circle cx="432.79" cy="127.98" r="0.6" fill="none" stroke="#111" stroke-width="0.4" stroke-opacity="0.8"/>
<circle cx="430.68" cy="156.73" r="0.6" fill="none" stroke="#111" stroke-width="0.4" stroke-opacity="0.8"/>
<circle cx="429.59" cy="125.36" r="0.6" fill="none" stroke="#111" stroke-width="0.4" stroke-opacity="0.8"/>
<circle cx="434.42" cy="135.64" r="0.6" fill="none" stroke="#111" stroke-width="0.4" stroke-opacity="0.8"/>
<circle cx="432.33" cy="112.52" r="0.6" fill="none" stroke="#111" stroke-width="0.4" stroke-opacity="0.8"/>
<circle cx="437.89" cy="147.67" r="0.6" fill="none" stroke="#111" stroke-width="0.4" stroke-opacity="0.8"/>
<circle cx="432.87" cy="150.12" r="0.6" fill="none" stroke="#111" stroke-width="0.4" stroke-opacity="0.8"/>
<circle cx="431.67" cy="120.65" r="0.6" fill="none" stroke="#111" stroke-width="0.4" stroke-opacity="0.8"/>
<circle cx="433.73" cy="128.87" r="0.6" fill="none" stroke="#111" stroke-width="0.4" stroke-opacity="0.8"/>
<circle cx="438.12" cy="138.71" r="0.6" fill="none" stroke="#111" stroke-width="0.4" stroke-opacity="0.8"/>
<circle cx="430.45" cy="144.10" r="0.6" fill="none" stroke="#111" stroke-width="0.4" stroke-opacity="0.8"/>
<circle cx="435.25" cy="163.70" r="0.6" fill="none" stroke="#111" stroke-width="0.4" stroke-opacity="0.8"/>
<circle cx="431.43" cy="141.12" r="0.6" fill="none" stroke="#111" stroke-width="0.4" stroke-opacity="0.8"/>
<circle cx="431.51" cy="109.57" r="0.6" fill="none" stroke="#111" stroke-width="0.4" stroke-opacity="0.8"/>
<circle cx="431.92" cy="154.09" r="0.6" fill="none" stroke="#111" stroke-width="0.4" stroke-opacity="0.8"/>
<circle cx="433.82" cy="118.38" r="0.6" fill="none" stroke="#111" stroke-width="0.4" stroke-opacity="0.8"/>
<circle cx="435.15" cy="143.40" r="0.6" fill="none" stroke="#111" stroke-width="0.4" stroke-opacity="0.8"/>
<circle cx="436.13" cy="149.99" r="0.6" fill="none" stroke="#111" stroke-width="0.4" stroke-opacity="0.8"/>
<circle cx="435.31" cy="126.07" r="0.6" fill="none" stroke="#111" stroke-width="0.4" stroke-opacity="0.8"/>
<circle cx="434.77" cy="123.70" r="0.6" fill="none" stroke="#111" stroke-width="0.4" stroke-opacity="0.8"/>
<circle cx="434.13" cy="142.37" r="0.6" fill="none" stroke="#111" stroke-width="0.4" stroke-opacity="0.8"/>
<circle cx="433.42" cy="154.98" r="0.6" fill="none" stroke="#111" stroke-width="0.4" stroke-opacity="0.8"/>
<circle cx="435.11" cy="157.30" r="0.6" fill="none" stroke="#111" stroke-width="0.4" stroke-opacity="0.8"/>
<circle cx="431.86" cy="141.67" r="0.6" fill="none" stroke="#111" stroke-width="0.4" stroke-opacity="0.8"/>
<circle cx="432.45" cy="127.44" r="0.6" fill="none" stroke="#111" stroke-width="0.4" stroke-opacity="0.8"/>
<circle cx="433.38" cy="136.26" r="0.6" fill="none" stroke="#111" stroke-width="0.4" stroke-opacity="0.8"/>
<circle cx="434.66" cy="163.70" r="0.6" fill="none" stroke="#111" stroke-width="0.4" stroke-opacity="0.8"/>
<circle cx="431.81" cy="151.81" r="0.6" fill="none" stroke="#111" stroke-width="0.4" stroke-opacity="0.8"/>
<circle cx="432.84" cy="128.13" r="0.6" fill="none" stroke="#111" stroke-width="0.4" stroke-opacity="0.8"/>
<circle cx="430.55" cy="142.57" r="0.6" fill="none" stroke="#111" stroke-width="0.4" stroke-opacity="0.8"/>
<circle cx="432.38" cy="163.70" r="0.6" fill="none" stroke="#111" stroke-width="0.4" stroke-opacity="0.8"/>
<circle cx="429.01" cy="156.75" r="0.6" fill="none" stroke="#111" stroke-width="0.4" stroke-opacity="0.8"/>
<circle cx="434.23" cy="139.39" r="0.6" fill="none" stroke="#111" stroke-width="0.4" stroke-opacity="0.8"/>
<circle cx="435.13" cy="142.56" r="0.6" fill="none" stroke="#111" stroke-width="0.4" stroke-opacity="0.8"/>
<circle cx="433.90" cy="143.98" r="0.6" fill="none" stroke="#111" stroke-width="0.4" stroke-opacity="0.8"/>
<circle cx="432.09" cy="109.22" r="0.6" fill="none" stroke="#111" stroke-width="0.4" stroke-opacity="0.8"/>
<circle cx="434.64" cy="102.02" r="0.6" fill="none" stroke="#111" stroke-width="0.4" stroke-opacity="0.8"/>
<circle cx="432.90" cy="144.42" r="0.6" fill="none" stroke="#111" stroke-width="0.4" stroke-opacity="0.8"/>
<circle cx="432.34" cy="126.36" r="0.6" fill="none" stroke="#111" stroke-width="0.4" stroke-opacity="0.8"/>
<circle cx="436.74" cy="163.70" r="0.6" fill="none" stroke="#111" stroke-width="0.4" stroke-opacity="0.8"/>
<circle cx="437.06" cy="138.57" r="0.6" fill="none" stroke="#111" stroke-width="0.4" stroke-opacity="0.8"/>
<circle cx="429.77" cy="114.09" r="0.6" fill="none" stroke="#111" stroke-width="0.4" stroke-opacity="0.8"/>
<circle cx="431.00" cy="131.77" r="0.6" fill="none" stroke="#111" stroke-width="0.4" stroke-opacity="0.8"/>
<circle cx="433.98" cy="130.55" r="0.6" fill="none" stroke="#111" stroke-width="0.4" stroke-opacity="0.8"/>
<circle cx="432.19" cy="163.70" r="0.6" fill="none" stroke="#111" stroke-width="0.4" stroke-opacity="0.8"/>
<circle cx="434.22" cy="140.29" r="0.6" fill="none" stroke="#111" stroke-width="0.4" stroke-opacity="0.8"/>
<circle cx="436.06" cy="138.95" r="0.6" fill="none" stroke="#111" stroke-width="0.4" stroke-opacity="0.8"/>
<circle cx="431.09" cy="163.70" r="0.6" fill="none" stroke="#111" stroke-width="0.4" stroke-opacity="0.8"/>
<circle cx="432.71" cy="142.09" r="0.6" fill="none" stroke="#111" stroke-width="0.4" stroke-opacity="0.8"/>
<circle cx="429.16" cy="145.20" r="0.6" fill="none" stroke="#111" stroke-width="0.4" stroke-opacity="0.8"/>
<circle cx="429.05" cy="111.37" r="0.6" fill="none" stroke="#111" stroke-width="0.4" stroke-opacity="0.8"/>
<circle cx="433.99" cy="147.91" r="0.6" fill="none" stroke="#111" stroke-width="0.4" stroke-opacity="0.8"/>
<circle cx="426.95" cy="140.68" r="0.6" fill="none" stroke="#111" stroke-width="0.4" stroke-opacity="0.8"/>
<circle cx="431.34" cy="133.52" r="0.6" fill="none" stroke="#111" stroke-width="0.4" stroke-opacity="0.8"/>
<circle cx="431.71" cy="116.88" r="0.6" fill="none" stroke="#111" stroke-width="0.4" stroke-opacity="0.8"/>
<circle cx="434.48" cy="150.66" r="0.6" fill="none" stroke="#111" stroke-width="0.4" stroke-opacity="0.8"/>
<circle cx="434.89" cy="139.14" r="0.6" fill="none" stroke="#111" stroke-width="0.4" stroke-opacity="0.8"/>
<circle cx="433.65" cy="129.84" r="0.6" fill="none" stroke="#111" stroke-width="0.4" stroke-opacity="0.8"/>
<circle cx="435.00" cy="140.14" r="0.6" fill="none" stroke="#111" stroke-width="0.4" stroke-opacity="0.8"/>
<circle cx="433.05" cy="138.38" r="0.6" fill="none" stroke="#111" stroke-width="0.4" stroke-opacity="0.8"/>
<circle cx="431.64" cy="137.34" r="0.6" fill="none" stroke="#111" stroke-width="0.4" stroke-opacity="0.8"/>
<circle cx="434.43" cy="163.70" r="0.6" fill="none" stroke="#111" stroke-width="0.4" stroke-opacity="0.8"/>
<circle cx="439.87" cy="146.36" r="0.6" fill="none" stroke="#111" stroke-width="0.4" stroke-opacity="0.8"/>
<circle cx="430.49" cy="161.95" r="0.6" fill="none" stroke="#111" stroke-width="0.4" stroke-opacity="0.8"/>
<circle cx="435.04" cy="150.63" r="0.6" fill="none" stroke="#111" stroke-width="0.4" stroke-opacity="0.8"/>
<circle cx="435.95" cy="163.70" r="0.6" fill="none" stroke="#111" stroke-width="0.4" stroke-opacity="0.8"/>
<circle cx="431.21" cy="151.83" r="0.6" fill="none" stroke="#111" stroke-width="0.4" stroke-opacity="0.8"/>
<circle cx="433.96" cy="125.57" r="0.6" fill="none" stroke="#111" stroke-width="0.4" stroke-opacity="0.8"/>
<circle cx="430.59" cy="147.58" r="0.6" fill="none" stroke="#111" stroke-width="0.4" stroke-opacity="0.8"/>
<circle cx="432.33" cy="133.35" r="0.6" fill="none" stroke="#111" stroke-width="0.4" stroke-opacity="0.8"/>
<circle cx="434.39" cy="140.47" r="0.6" fill="none" stroke="#111" stroke-width="0.4" stroke-opacity="0.8"/>
<circle cx="429.99" cy="134.91" r="0.6" fill="none" stroke="#111" stroke-width="0.4" stroke-opacity="0.8"/>
<circle cx="436.48" cy="159.38" r="0.6" fill="none" stroke="#111" stroke-width="0.4" stroke-opacity="0.8"/>
<circle cx="436.32" cy="137.80" r="0.6" fill="none" stroke="#111" stroke-width="0.4" stroke-opacity="0.8"/>
<circle cx="435.30" cy="146.61" r="0.6" fill="none" stroke="#111" stroke-width="0.4" stroke-opacity="0.8"/>
<circle cx="431.31" cy="147.20" r="0.6" fill="none" stroke="#111" stroke-width="0.4" stroke-opacity="0.8"/>
<circle cx="436.28" cy="148.68" r="0.6" fill="none" stroke="#111" stroke-width="0.4" stroke-opacity="0.8"/>
<circle cx="437.19" cy="125.16" r="0.6" fill="none" stroke="#111" stroke-width="0.4" stroke-opacity="0.8"/>
<circle cx="436.91" cy="163.70" r="0.6" fill="none" stroke="#111" stroke-width="0.4" stroke-opacity="0.8"/>
<circle cx="434.86" cy="163.70" r="0.6" fill="none" stroke="#111" stroke-width="0.4" stroke-opacity="0.8"/>
<circle cx="431.77" cy="134.09" r="0.6" fill="none" stroke="#111" stroke-width="0.4" stroke-opacity="0.8"/>
<circle cx="433.67" cy="126.49" r="0.6" fill="none" stroke="#111" stroke-width="0.4" stroke-opacity="0.8"/>
<circle cx="435.33" cy="138.97" r="0.6" fill="none" stroke="#111" stroke-width="0.4" stroke-opacity="0.8"/>
<circle cx="437.84" cy="107.18" r="0.6" fill="none" stroke="#111" stroke-width="0.4" stroke-opacity="0.8"/>
<circle cx="433.40" cy="163.70" r="0.6" fill="none" stroke="#111" stroke-width="0.4" stroke-opacity="0.8"/>
<circle cx="434.35" cy="150.32" r="0.6" fill="none" stroke="#111" stroke-width="0.4" stroke-opacity="0.8"/>
<circle cx="432.87" cy="143.88" r="0.6" fill="none" stroke="#111" stroke-width="0.4" stroke-opacity="0.8"/>
<circle cx="431.14" cy="137.54" r="0.6" fill="none" stroke="#111" stroke-width="0.4" stroke-opacity="0.8"/>
<circle cx="433.38" cy="142.35" r="0.6" fill="none" stroke="#111" stroke-width="0.4" stroke-opacity="0.8"/>
<circle cx="431.06" cy="144.62" r="0.6" fill="none" stroke="#111" stroke-width="0.4" stroke-opacity="0.8"/>
<circle cx="433.58" cy="140.13" r="0.6" fill="none" stroke="#111" stroke-width="0.4" stroke-opacity="0.8"/>
<circle cx="430.47" cy="149.17" r="0.6" fill="none" stroke="#111" stroke-width="0.4" stroke-opacity="0.8"/>
<circle cx="436.20" cy="146.21" r="0.6" fill="none" stroke="#111" stroke-width="0.4" stroke-opacity="0.8"/>
<circle cx="432.42" cy="149.05" r="0.6" fill="none" stroke="#111" stroke-width="0.4" stroke-opacity="0.8"/>
<circle cx="432.79" cy="131.64" r="0.6" fill="none" stroke="#111" stroke-width="0.4" stroke-opacity="0.8"/>
<circle cx="436.40" cy="151.17" r="0.6" fill="none" stroke="#111" stroke-width="0.4" stroke-opacity="0.8"/>
<circle cx="431.65" cy="136.97" r="0.6" fill="none" stroke="#111" stroke-width="0.4" stroke-opacity="0.8"/>
<circle cx="434.02" cy="145.51" r="0.6" fill="none" stroke="#111" stroke-width="0.4" stroke-opacity="0.8"/>
<circle cx="432.05" cy="124.97" r="0.6" fill="none" stroke="#111" stroke-width="0.4" stroke-opacity="0.8"/>
<circle cx="435.33" cy="137.87" r="0.6" fill="none" stroke="#111" stroke-width="0.4" stroke-opacity="0.8"/>
<circle cx="431.52" cy="120.41" r="0.6" fill="none" stroke="#111" stroke-width="0.4" stroke-opacity="0.8"/>
<circle cx="430.02" cy="147.48" r="0.6" fill="none" stroke="#111" stroke-width="0.4" stroke-opacity="0.8"/>
<circle cx="434.44" cy="141.24" r="0.6" fill="none" stroke="#111" stroke-width="0.4" stroke-opacity="0.8"/>
<circle cx="430.60" cy="137.72" r="0.6" fill="none" stroke="#111" stroke-width="0.4" stroke-opacity="0.8"/>
<circle cx="432.52" cy="138.54" r="0.6" fill="none" stroke="#111" stroke-width="0.4" stroke-opacity="0.8"/>
<circle cx="431.10" cy="144.88" r="0.6" fill="none" stroke="#111" stroke-width="0.4" stroke-opacity="0.8"/>
<circle cx="430.27" cy="156.96" r="0.6" fill="none" stroke="#111" stroke-width="0.4" stroke-opacity="0.8"/>
<circle cx="433.47" cy="136.68" r="0.6" fill="none" stroke="#111" stroke-width="0.4" stroke-opacity="0.8"/>
<circle cx="432.29" cy="154.89" r="0.6" fill="none" stroke="#111" stroke-width="0.4" stroke-opacity="0.8"/>
<circle cx="431.86" cy="148.23" r="0.6" fill="none" stroke="#111" stroke-width="0.4" stroke-opacity="0.8"/>
<circle cx="436.75" cy="151.31" r="0.6" fill="none" stroke="#111" stroke-width="0.4" stroke-opacity="0.8"/>
<circle cx="434.69" cy="133.08" r="0.6" fill="none" stroke="#111" stroke-width="0.4" stroke-opacity="0.8"/>
<circle cx="435.30" cy="124.66" r="0.6" fill="none" stroke="#111" stroke-width="0.4" stroke-opacity="0.8"/>
<circle cx="433.52" cy="158.87" r="0.6" fill="none" stroke="#111" stroke-width="0.4" stroke-opacity="0.8"/>
<circle cx="434.21" cy="121.34" r="0.6" fill="none" stroke="#111" stroke-width="0.4" stroke-opacity="0.8"/>
<circle cx="435.52" cy="157.89" r="0.6" fill="none" stroke="#111" stroke-width="0.4" stroke-opacity="0.8"/>
<circle cx="429.97" cy="152.51" r="0.6" fill="none" stroke="#111" stroke-width="0.4" stroke-opacity="0.8"/>
<circle cx="436.15" cy="128.62" r="0.6" fill="none" stroke="#111" stroke-width="0.4" stroke-opacity="0.8"/>
<circle cx="435.60" cy="119.88" r="0.6" fill="none" stroke="#111" stroke-width="0.4" stroke-opacity="0.8"/>
<circle cx="434.90" cy="163.70" r="0.6" fill="none" stroke="#111" stroke-width="0.4" stroke-opacity="0.8"/>
<circle cx="432.82" cy="157.42" r="0.6" fill="none" stroke="#111" stroke-width="0.4" stroke-opacity="0.8"/>
<circle cx="433.25" cy="119.89" r="0.6" fill="none" stroke="#111" stroke-width="0.4" stroke-opacity="0.8"/>
<circle cx="433.32" cy="136.32" r="0.6" fill="none" stroke="#111" stroke-width="0.4" stroke-opacity="0.8"/>
<circle cx="433.18" cy="150.65" r="0.6" fill="none" stroke="#111" stroke-width="0.4" stroke-opacity="0.8"/>
<circle cx="434.64" cy="142.57" r="0.6" fill="none" stroke="#111" stroke-width="0.4" stroke-opacity="0.8"/>
<circle cx="438.61" cy="139.42" r="0.6" fill="none" stroke="#111" stroke-width="0.4" stroke-opacity="0.8"/>
<circle cx="433.69" cy="146.58" r="0.6" fill="none" stroke="#111" stroke-width="0.4" stroke-opacity="0.8"/>
<circle cx="431.70" cy="136.18" r="0.6" fill="none" stroke="#111" stroke-width="0.4" stroke-opacity="0.8"/>
<circle cx="433.74" cy="161.01" r="0.6" fill="none" stroke="#111" stroke-width="0.4" stroke-opacity="0.8"/>
<circle cx="432.38" cy="122.24" r="0.6" fill="none" stroke="#111" stroke-width="0.4" stroke-opacity="0.8"/>
<circle cx="432.20" cy="137.31" r="0.6" fill="none" stroke="#111" stroke-width="0.4" stroke-opacity="0.8"/>
<circle cx="431.24" cy="156.85" r="0.6" fill="none" stroke="#111" stroke-width="0.4" stroke-opacity="0.8"/>
<circle cx="433.85" cy="147.37" r="0.6" fill="none" stroke="#111" stroke-width="0.4" stroke-opacity="0.8"/>
<circle cx="433.54" cy="120.66" r="0.6" fill="none" stroke="#111" stroke-width="0.4" stroke-opacity="0.8"/>
<circle cx="434.85" cy="137.99" r="0.6" fill="none" stroke="#111" stroke-width="0.4" stroke-opacity="0.8"/>
<circle cx="434.30" cy="132.30" r="0.6" fill="none" stroke="#111" stroke-width="0.4" stroke-opacity="0.8"/>
<circle cx="431.39" cy="112.85" r="0.6" fill="none" stroke="#111" stroke-width="0.4" stroke-opacity="0.8"/>
<circle cx="435.43" cy="152.06" r="0.6" fill="none" stroke="#111" stroke-width="0.4" stroke-opacity="0.8"/>
<circle cx="431.77" cy="139.29" r="0.6" fill="none" stroke="#111" stroke-width="0.4" stroke-opacity="0.8"/>
<circle cx="429.48" cy="156.82" r="0.6" fill="none" stroke="#111" stroke-width="0.4" stroke-opacity="0.8"/>
<circle cx="434.73" cy="126.71" r="0.6" fill="none" stroke="#111" stroke-width="0.4" stroke-opacity="0.8"/>
<circle cx="431.49" cy="149.94" r="0.6" fill="none" stroke="#111" stroke-width="0.4" stroke-opacity="0.8"/>
<circle cx="436.21" cy="109.30" r="0.6" fill="none" stroke="#111" stroke-width="0.4" stroke-opacity="0.8"/>
<circle cx="430.94" cy="141.95" r="0.6" fill="none" stroke="#111" stroke-width="0.4" stroke-opacity="0.8"/>
<circle cx="435.97" cy="140.37" r="0.6" fill="none" stroke="#111" stroke-width="0.4" stroke-opacity="0.8"/>
<circle cx="435.56" cy="98.60" r="0.6" fill="none" stroke="#111" stroke-width="0.4" stroke-opacity="0.8"/>
<circle cx="429.50" cy="151.34" r="0.6" fill="none" stroke="#111" stroke-width="0.4" stroke-opacity="0.8"/>
<circle cx="430.07" cy="151.83" r="0.6" fill="none" stroke="#111" stroke-width="0.4" stroke-opacity="0.8"/>
<circle cx="434.21" cy="157.73" r="0.6" fill="none" stroke="#111" stroke-width="0.4" stroke-opacity="0.8"/>
<circle cx="432.29" cy="163.70" r="0.6" fill="none" stroke="#111" stroke-width="0.4" stroke-opacity="0.8"/>
<circle cx="436.38" cy="139.58" r="0.6" fill="none" stroke="#111" stroke-width="0.4" stroke-opacity="0.8"/>
<circle cx="432.11" cy="129.26" r="0.6" fill="none" stroke="#111" stroke-width="0.4" stroke-opacity="0.8"/>
<circle cx="433.25" cy="133.55" r="0.6" fill="none" stroke="#111" stroke-width="0.4" stroke-opacity="0.8"/>
<circle cx="434.37" cy="122.19" r="0.6" fill="none" stroke="#111" stroke-width="0.4" stroke-opacity="0.8"/>
<circle cx="433.65" cy="148.19" r="0.6" fill="none" stroke="#111" stroke-width="0.4" stroke-opacity="0.8"/>
<circle cx="432.83" cy="163.70" r="0.6" fill="none" stroke="#111" stroke-width="0.4" stroke-opacity="0.8"/>
<circle cx="432.41" cy="160.41" r="0.6" fill="none" stroke="#111" stroke-width="0.4" stroke-opacity="0.8"/>
<circle cx="429.77" cy="151.59" r="0.6" fill="none" stroke="#111" stroke-width="0.4" stroke-opacity="0.8"/>
<circle cx="432.96" cy="142.67" r="0.6" fill="none" stroke="#111" stroke-width="0.4" stroke-opacity="0.8"/>
<circle cx="431.74" cy="131.58" r="0.6" fill="none" stroke="#111" stroke-width="0.4" stroke-opacity="0.8"/>
<circle cx="431.43" cy="133.94" r="0.6" fill="none" stroke="#111" stroke-width="0.4" stroke-opacity="0.8"/>
<circle cx="432.32" cy="104.41" r="0.6" fill="none" stroke="#111" stroke-width="0.4" stroke-opacity="0.8"/>
<circle cx="431.98" cy="130.71" r="0.6" fill="none" stroke="#111" stroke-width="0.4" stroke-opacity="0.8"/>
<circle cx="433.19" cy="122.58" r="0.6" fill="none" stroke="#111" stroke-width="0.4" stroke-opacity="0.8"/>
<circle cx="432.97" cy="152.05" r="0.6" fill="none" stroke="#111" stroke-width="0.4" stroke-opacity="0.8"/>
<circle cx="437.25" cy="131.62" r="0.6" fill="none" stroke="#111" stroke-width="0.4" stroke-opacity="0.8"/>
<circle cx="435.20" cy="155.13" r="0.6" fill="none" stroke="#111" stroke-width="0.4" stroke-opacity="0.8"/>
<circle cx="432.83" cy="157.99" r="0.6" fill="none" stroke="#111" stroke-width="0.4" stroke-opacity="0.8"/>
<circle cx="436.57" cy="137.43" r="0.6" fill="none" stroke="#111" stroke-width="0.4" stroke-opacity="0.8"/>
<circle cx="433.12" cy="130.63" r="0.6" fill="none" stroke="#111" stroke-width="0.4" stroke-opacity="0.8"/>
<circle cx="434.49" cy="145.55" r="0.6" fill="none" stroke="#111" stroke-width="0.4" stroke-opacity="0.8"/>
<circle cx="436.20" cy="135.08" r="0.6" fill="none" stroke="#111" stroke-width="0.4" stroke-opacity="0.8"/>
<circle cx="435.48" cy="136.65" r="0.6" fill="none" stroke="#111" stroke-width="0.4" stroke-opacity="0.8"/>
<circle cx="434.70" cy="156.63" r="0.6" fill="none" stroke="#111" stroke-width="0.4" stroke-opacity="0.8"/>
<circle cx="431.25" cy="151.23" r="0.6" fill="none" stroke="#111" stroke-width="0.4" stroke-opacity="0.8"/>
<circle cx="432.27" cy="118.52" r="0.6" fill="none" stroke="#111" stroke-width="0.4" stroke-opacity="0.8"/>
<circle cx="437.65" cy="147.10" r="0.6" fill="none" stroke="#111" stroke-width="0.4" stroke-opacity="0.8"/>
<circle cx="434.03" cy="119.94" r="0.6" fill="none" stroke="#111" stroke-width="0.4" stroke-opacity="0.8"/>
<circle cx="432.06" cy="125.83" r="0.6" fill="none" stroke="#111" stroke-width="0.4" stroke-opacity="0.8"/>
<line x1="433.45" y1="97.60" x2="433.45" y2="129.50" stroke="#000" stroke-width="1.0"/>
<line x1="433.45" y1="149.50" x2="433.45" y2="164.20" stroke="#000" stroke-width="1.0"/>
<line x1="466.30" y1="115.80" x2="466.30" y2="137.40" stroke="#000" stroke-width="1.0"/>
<line x1="466.30" y1="153.40" x2="466.30" y2="161.60" stroke="#000" stroke-width="1.0"/>
<line x1="460.80" y1="115.80" x2="471.80" y2="115.80" stroke="#000" stroke-width="1.0"/>
<line x1="460.80" y1="161.60" x2="471.80" y2="161.60" stroke="#000" stroke-width="1.0"/>
<rect x="455.80" y="137.40" width="21.00" height="16.00" fill="#f03e2e" stroke="#000" stroke-width="1.0"/>
<line x1="455.80" y1="145.30" x2="476.80" y2="145.30" stroke="#000" stroke-width="1.0"/>
<circle cx="468.24" cy="141.86" r="0.6" fill="none" stroke="#111" stroke-width="0.4" stroke-opacity="0.8"/>
<circle cx="469.60" cy="148.13" r="0.6" fill="none" stroke="#111" stroke-width="0.4" stroke-opacity="0.8"/>
<circle cx="467.99" cy="132.78" r="0.6" fill="none" stroke="#111" stroke-width="0.4" stroke-opacity="0.8"/>
<circle cx="466.43" cy="157.30" r="0.6" fill="none" stroke="#111" stroke-width="0.4" stroke-opacity="0.8"/>
<circle cx="464.72" cy="151.51" r="0.6" fill="none" stroke="#111" stroke-width="0.4" stroke-opacity="0.8"/>
<circle cx="465.53" cy="131.45" r="0.6" fill="none" stroke="#111" stroke-width="0.4" stroke-opacity="0.8"/>
<circle cx="471.79" cy="137.17" r="0.6" fill="none" stroke="#111" stroke-width="0.4" stroke-opacity="0.8"/>
<circle cx="470.92" cy="139.19" r="0.6" fill="none" stroke="#111" stroke-width="0.4" stroke-opacity="0.8"/>
<circle cx="467.17" cy="147.99" r="0.6" fill="none" stroke="#111" stroke-width="0.4" stroke-opacity="0.8"/>
<circle cx="464.82" cy="154.92" r="0.6" fill="none" stroke="#111" stroke-width="0.4" stroke-opacity="0.8"/>
<circle cx="467.02" cy="157.13" r="0.6" fill="none" stroke="#111" stroke-width="0.4" stroke-opacity="0.8"/>
<circle cx="467.44" cy="126.00" r="0.6" fill="none" stroke="#111" stroke-width="0.4" stroke-opacity="0.8"/>
<circle cx="467.57" cy="152.47" r="0.6" fill="none" stroke="#111" stroke-width="0.4" stroke-opacity="0.8"/>
<circle cx="465.51" cy="161.10" r="0.6" fill="none" stroke="#111" stroke-width="0.4" stroke-opacity="0.8"/>
<circle cx="468.40" cy="151.95" r="0.6" fill="none" stroke="#111" stroke-width="0.4" stroke-opacity="0.8"/>
<circle cx="468.58" cy="133.88" r="0.6" fill="none" stroke="#111" stroke-width="0.4" stroke-opacity="0.8"/>
<circle cx="463.83" cy="126.83" r="0.6" fill="none" stroke="#111" stroke-width="0.4" stroke-opacity="0.8"/>
<circle cx="463.25" cy="152.09" r="0.6" fill="none" stroke="#111" stroke-width="0.4" stroke-opacity="0.8"/>
<circle cx="461.69" cy="143.91" r="0.6" fill="none" stroke="#111" stroke-width="0.4" stroke-opacity="0.8"/>
<circle cx="463.13" cy="146.28" r="0.6" fill="none" stroke="#111" stroke-width="0.4" stroke-opacity="0.8"/>
<circle cx="462.01" cy="149.78" r="0.6" fill="none" stroke="#111" stroke-width="0.4" stroke-opacity="0.8"/>
<circle cx="465.55" cy="151.14" r="0.6" fill="none" stroke="#111" stroke-width="0.4" stroke-opacity="0.8"/>
<circle cx="466.11" cy="146.22" r="0.6" fill="none" stroke="#111" stroke-width="0.4" stroke-opacity="0.8"/>
<circle cx="462.60" cy="147.07" r="0.6" fill="none" stroke="#111" stroke-width="0.4" stroke-opacity="0.8"/>
<circle cx="466.36" cy="116.80" r="0.6" fill="none" stroke="#111" stroke-width="0.4" stroke-opacity="0.8"/>
<circle cx="465.44" cy="133.42" r="0.6" fill="none" stroke="#111" stroke-width="0.4" stroke-opacity="0.8"/>
<circle cx="460.74" cy="150.86" r="0.6" fill="none" stroke="#111" stroke-width="0.4" stroke-opacity="0.8"/>
<circle cx="465.14" cy="135.63" r="0.6" fill="none" stroke="#111" stroke-width="0.4" stroke-opacity="0.8"/>
<circle cx="466.92" cy="131.87" r="0.6" fill="none" stroke="#111" stroke-width="0.4" stroke-opacity="0.8"/>
<circle cx="464.00" cy="143.60" r="0.6" fill="none" stroke="#111" stroke-width="0.4" stroke-opacity="0.8"/>
<circle cx="467.83" cy="132.80" r="0.6" fill="none" stroke="#111" stroke-width="0.4" stroke-opacity="0.8"/>
<circle cx="467.41" cy="136.96" r="0.6" fill="none" stroke="#111" stroke-width="0.4" stroke-opacity="0.8"/>
<circle cx="461.00" cy="151.15" r="0.6" fill="none" stroke="#111" stroke-width="0.4" stroke-opacity="0.8"/>
<circle cx="466.31" cy="131.53" r="0.6" fill="none" stroke="#111" stroke-width="0.4" stroke-opacity="0.8"/>
<circle cx="468.48" cy="149.78" r="0.6" fill="none" stroke="#111" stroke-width="0.4" stroke-opacity="0.8"/>
<circle cx="468.27" cy="155.67" r="0.6" fill="none" stroke="#111" stroke-width="0.4" stroke-opacity="0.8"/>
<circle cx="465.71" cy="140.61" r="0.6" fill="none" stroke="#111" stroke-width="0.4" stroke-opacity="0.8"/>
<circle cx="465.49" cy="155.33" r="0.6" fill="none" stroke="#111" stroke-width="0.4" stroke-opacity="0.8"/>
<circle cx="463.28" cy="158.93" r="0.6" fill="none" stroke="#111" stroke-width="0.4" stroke-opacity="0.8"/>
<circle cx="465.97" cy="153.77" r="0.6" fill="none" stroke="#111" stroke-width="0.4" stroke-opacity="0.8"/>
<circle cx="468.16" cy="120.22" r="0.6" fill="none" stroke="#111" stroke-width="0.4" stroke-opacity="0.8"/>
<circle cx="466.36" cy="149.38" r="0.6" fill="none" stroke="#111" stroke-width="0.4" stroke-opacity="0.8"/>
<circle cx="465.42" cy="131.62" r="0.6" fill="none" stroke="#111" stroke-width="0.4" stroke-opacity="0.8"/>
<circle cx="464.73" cy="161.10" r="0.6" fill="none" stroke="#111" stroke-width="0.4" stroke-opacity="0.8"/>
<circle cx="464.67" cy="116.80" r="0.6" fill="none" stroke="#111" stroke-width="0.4" stroke-opacity="0.8"/>
<circle cx="466.05" cy="130.04" r="0.6" fill="none" stroke="#111" stroke-width="0.4" stroke-opacity="0.8"/>
<circle cx="463.75" cy="140.37" r="0.6" fill="none" stroke="#111" stroke-width="0.4" stroke-opacity="0.8"/>
<circle cx="468.29" cy="134.63" r="0.6" fill="none" stroke="#111" stroke-width="0.4" stroke-opacity="0.8"/>
<circle cx="470.02" cy="126.94" r="0.6" fill="none" stroke="#111" stroke-width="0.4" stroke-opacity="0.8"/>
<circle cx="463.24" cy="138.44" r="0.6" fill="none" stroke="#111" stroke-width="0.4" stroke-opacity="0.8"/>
<circle cx="467.37" cy="155.48" r="0.6" fill="none" stroke="#111" stroke-width="0.4" stroke-opacity="0.8"/>
<circle cx="467.72" cy="132.05" r="0.6" fill="none" stroke="#111" stroke-width="0.4" stroke-opacity="0.8"/>
<circle cx="464.55" cy="121.85" r="0.6" fill="none" stroke="#111" stroke-width="0.4" stroke-opacity="0.8"/>
<circle cx="465.81" cy="159.82" r="0.6" fill="none" stroke="#111" stroke-width="0.4" stroke-opacity="0.8"/>
<circle cx="467.28" cy="128.73" r="0.6" fill="none" stroke="#111" stroke-width="0.4" stroke-opacity="0.8"/>
<circle cx="466.26" cy="157.13" r="0.6" fill="none" stroke="#111" stroke-width="0.4" stroke-opacity="0.8"/>
<circle cx="465.64" cy="122.27" r="0.6" fill="none" stroke="#111" stroke-width="0.4" stroke-opacity="0.8"/>
<circle cx="468.45" cy="150.75" r="0.6" fill="none" stroke="#111" stroke-width="0.4" stroke-opacity="0.8"/>
<circle cx="465.82" cy="161.10" r="0.6" fill="none" stroke="#111" stroke-width="0.4" stroke-opacity="0.8"/>
<circle cx="466.19" cy="139.22" r="0.6" fill="none" stroke="#111" stroke-width="0.4" stroke-opacity="0.8"/>
<line x1="466.30" y1="115.80" x2="466.30" y2="137.40" stroke="#000" stroke-width="1.0"/>
<line x1="466.30" y1="153.40" x2="466.30" y2="161.60" stroke="#000" stroke-width="1.0"/>
<circle cx="302.8" cy="55.7" r="1.05" fill="#fff" stroke="#000" stroke-width="0.55"/>
<circle cx="368.7" cy="69.7" r="1.05" fill="#fff" stroke="#000" stroke-width="0.55"/>
<circle cx="399.2" cy="70.2" r="1.05" fill="#fff" stroke="#000" stroke-width="0.55"/>
<circle cx="435.8" cy="66" r="1.05" fill="#fff" stroke="#000" stroke-width="0.55"/>
<circle cx="466.3" cy="66.5" r="1.05" fill="#fff" stroke="#000" stroke-width="0.55"/>
<path d="M301.6,76.3 V69.7 H335.3 V85.5" fill="none" stroke="#000" stroke-width="0.7"/>
<path d="M367.6,102.4 V87.3 H400.5 V104.5" fill="none" stroke="#000" stroke-width="0.7"/>
<path d="M431.8,90.7 V81.8 H466.3 V107" fill="none" stroke="#000" stroke-width="0.7"/>
<text x="318.20" y="68.20" font-size="8" text-anchor="middle" font-family="Liberation Sans, sans-serif" fill="#000" font-weight="bold">***</text>
<text x="384.20" y="85.90" font-size="8" text-anchor="middle" font-family="Liberation Sans, sans-serif" fill="#000" font-weight="bold">**</text>
<text x="449.00" y="80.50" font-size="8" text-anchor="middle" font-family="Liberation Sans, sans-serif" fill="#000" font-weight="bold">**</text>
<line x1="301.15" y1="172.70" x2="304.05" y2="172.70" stroke="#000" stroke-width="1.0"/>
<line x1="302.60" y1="170.75" x2="302.60" y2="174.65" stroke="#000" stroke-width="1.0"/>
<line x1="302.60" y1="164.40" x2="302.60" y2="167.70" stroke="#000" stroke-width="1.0"/>
<line x1="334.15" y1="173.50" x2="336.45" y2="173.50" stroke="#000" stroke-width="1.0"/>
<line x1="335.30" y1="164.40" x2="335.30" y2="167.70" stroke="#000" stroke-width="1.0"/>
<line x1="366.65" y1="172.70" x2="369.55" y2="172.70" stroke="#000" stroke-width="1.0"/>
<line x1="368.10" y1="170.75" x2="368.10" y2="174.65" stroke="#000" stroke-width="1.0"/>
<line x1="368.10" y1="164.40" x2="368.10" y2="167.70" stroke="#000" stroke-width="1.0"/>
<line x1="399.55" y1="173.50" x2="401.85" y2="173.50" stroke="#000" stroke-width="1.0"/>
<line x1="400.70" y1="164.40" x2="400.70" y2="167.70" stroke="#000" stroke-width="1.0"/>
<line x1="432.05" y1="172.70" x2="434.95" y2="172.70" stroke="#000" stroke-width="1.0"/>
<line x1="433.50" y1="170.75" x2="433.50" y2="174.65" stroke="#000" stroke-width="1.0"/>
<line x1="433.50" y1="164.40" x2="433.50" y2="167.70" stroke="#000" stroke-width="1.0"/>
<line x1="465.15" y1="173.50" x2="467.45" y2="173.50" stroke="#000" stroke-width="1.0"/>
<line x1="466.30" y1="164.40" x2="466.30" y2="167.70" stroke="#000" stroke-width="1.0"/>
<text x="322.00" y="184.00" font-size="6.8" text-anchor="middle" font-family="Liberation Sans, sans-serif" fill="#000" >24h</text>
<text x="387.90" y="184.00" font-size="6.8" text-anchor="middle" font-family="Liberation Sans, sans-serif" fill="#000" >48h</text>
<text x="451.60" y="184.00" font-size="6.8" text-anchor="middle" font-family="Liberation Sans, sans-serif" fill="#000" >72h</text>
<line x1="517.90" y1="10.00" x2="517.90" y2="169.50" stroke="#3c3c3c" stroke-width="1.1"/>
<line x1="517.40" y1="169.00" x2="683.50" y2="169.00" stroke="#3c3c3c" stroke-width="1.1"/>
<line x1="515.20" y1="169.00" x2="517.90" y2="169.00" stroke="#3c3c3c" stroke-width="1.0"/>
<text x="514.30" y="171.30" font-size="6.5" text-anchor="end" font-family="Liberation Sans, sans-serif" fill="#000" >0</text>
<line x1="515.20" y1="137.30" x2="517.90" y2="137.30" stroke="#3c3c3c" stroke-width="1.0"/>
<text x="514.30" y="139.60" font-size="6.5" text-anchor="end" font-family="Liberation Sans, sans-serif" fill="#000" >2</text>
<line x1="515.20" y1="105.60" x2="517.90" y2="105.60" stroke="#3c3c3c" stroke-width="1.0"/>
<text x="514.30" y="107.90" font-size="6.5" text-anchor="end" font-family="Liberation Sans, sans-serif" fill="#000" >4</text>
<line x1="515.20" y1="73.90" x2="517.90" y2="73.90" stroke="#3c3c3c" stroke-width="1.0"/>
<text x="514.30" y="76.20" font-size="6.5" text-anchor="end" font-family="Liberation Sans, sans-serif" fill="#000" >6</text>
<line x1="515.20" y1="42.20" x2="517.90" y2="42.20" stroke="#3c3c3c" stroke-width="1.0"/>
<text x="514.30" y="44.50" font-size="6.5" text-anchor="end" font-family="Liberation Sans, sans-serif" fill="#000" >8</text>
<line x1="515.20" y1="10.50" x2="517.90" y2="10.50" stroke="#3c3c3c" stroke-width="1.0"/>
<text x="514.30" y="12.80" font-size="6.5" text-anchor="end" font-family="Liberation Sans, sans-serif" fill="#000" >10</text>
<text transform="translate(502.2,90) rotate(-90)" font-size="5.6" text-anchor="middle" font-family="Liberation Sans, sans-serif">FC relative to WT +Fe</text>
<rect x="521.30" y="153.20" width="5.4" height="15.80" fill="#8c8c8c" stroke="#111" stroke-width="0.8"/>
<line x1="524.00" y1="151.90" x2="524.00" y2="154.50" stroke="#111" stroke-width="0.7"/>
<line x1="522.40" y1="151.90" x2="525.60" y2="151.90" stroke="#111" stroke-width="0.7"/>
<line x1="522.40" y1="154.50" x2="525.60" y2="154.50" stroke="#111" stroke-width="0.7"/>
<circle cx="524.30" cy="156.13" r="0.35" fill="#222"/>
<circle cx="524.78" cy="155.67" r="0.35" fill="#222"/>
<circle cx="523.87" cy="156.09" r="0.35" fill="#222"/>
<rect x="529.50" y="152.40" width="5.4" height="16.60" fill="#7ef0f0" stroke="#111" stroke-width="0.8"/>
<line x1="532.20" y1="147.90" x2="532.20" y2="156.90" stroke="#111" stroke-width="0.7"/>
<line x1="530.60" y1="147.90" x2="533.80" y2="147.90" stroke="#111" stroke-width="0.7"/>
<line x1="530.60" y1="156.90" x2="533.80" y2="156.90" stroke="#111" stroke-width="0.7"/>
<circle cx="531.86" cy="147.26" r="0.35" fill="#222"/>
<circle cx="532.21" cy="153.09" r="0.35" fill="#222"/>
<circle cx="531.69" cy="147.78" r="0.35" fill="#222"/>
<rect x="537.70" y="152.40" width="5.4" height="16.60" fill="#2a6272" stroke="#111" stroke-width="0.8"/>
<line x1="540.40" y1="149.60" x2="540.40" y2="155.20" stroke="#111" stroke-width="0.7"/>
<line x1="538.80" y1="149.60" x2="542.00" y2="149.60" stroke="#111" stroke-width="0.7"/>
<line x1="538.80" y1="155.20" x2="542.00" y2="155.20" stroke="#111" stroke-width="0.7"/>
<circle cx="540.57" cy="154.33" r="0.35" fill="#222"/>
<circle cx="541.19" cy="151.29" r="0.35" fill="#222"/>
<circle cx="539.67" cy="154.40" r="0.35" fill="#222"/>
<rect x="546.00" y="166.70" width="5.4" height="2.30" fill="#ffffff" stroke="#111" stroke-width="0.8"/>
<line x1="548.70" y1="166.40" x2="548.70" y2="167.00" stroke="#111" stroke-width="0.7"/>
<line x1="547.10" y1="166.40" x2="550.30" y2="166.40" stroke="#111" stroke-width="0.7"/>
<line x1="547.10" y1="167.00" x2="550.30" y2="167.00" stroke="#111" stroke-width="0.7"/>
<circle cx="549.16" cy="166.94" r="0.35" fill="#222"/>
<circle cx="549.01" cy="166.63" r="0.35" fill="#222"/>
<circle cx="548.39" cy="165.73" r="0.35" fill="#222"/>
<rect x="554.20" y="161.00" width="5.4" height="8.00" fill="#f03a2a" stroke="#111" stroke-width="0.8"/>
<line x1="556.90" y1="159.80" x2="556.90" y2="162.20" stroke="#111" stroke-width="0.7"/>
<line x1="555.30" y1="159.80" x2="558.50" y2="159.80" stroke="#111" stroke-width="0.7"/>
<line x1="555.30" y1="162.20" x2="558.50" y2="162.20" stroke="#111" stroke-width="0.7"/>
<circle cx="557.04" cy="163.50" r="0.35" fill="#222"/>
<circle cx="556.41" cy="162.48" r="0.35" fill="#222"/>
<circle cx="556.99" cy="161.49" r="0.35" fill="#222"/>
<rect x="562.60" y="57.90" width="5.4" height="111.10" fill="#9c1c10" stroke="#111" stroke-width="0.8"/>
<line x1="565.30" y1="41.90" x2="565.30" y2="73.90" stroke="#111" stroke-width="0.7"/>
<line x1="563.70" y1="41.90" x2="566.90" y2="41.90" stroke="#111" stroke-width="0.7"/>
<line x1="563.70" y1="73.90" x2="566.90" y2="73.90" stroke="#111" stroke-width="0.7"/>
<circle cx="565.53" cy="45.95" r="0.35" fill="#222"/>
<circle cx="566.10" cy="60.08" r="0.35" fill="#222"/>
<circle cx="565.16" cy="62.36" r="0.35" fill="#222"/>
<rect x="576.40" y="152.80" width="5.4" height="16.20" fill="#8c8c8c" stroke="#111" stroke-width="0.8"/>
<line x1="579.10" y1="149.30" x2="579.10" y2="156.30" stroke="#111" stroke-width="0.7"/>
<line x1="577.50" y1="149.30" x2="580.70" y2="149.30" stroke="#111" stroke-width="0.7"/>
<line x1="577.50" y1="156.30" x2="580.70" y2="156.30" stroke="#111" stroke-width="0.7"/>
<circle cx="578.55" cy="148.30" r="0.35" fill="#222"/>
<circle cx="578.47" cy="156.73" r="0.35" fill="#222"/>
<circle cx="578.57" cy="148.02" r="0.35" fill="#222"/>
<rect x="584.60" y="164.00" width="5.4" height="5.00" fill="#7ef0f0" stroke="#111" stroke-width="0.8"/>
<line x1="587.30" y1="162.50" x2="587.30" y2="165.50" stroke="#111" stroke-width="0.7"/>
<line x1="585.70" y1="162.50" x2="588.90" y2="162.50" stroke="#111" stroke-width="0.7"/>
<line x1="585.70" y1="165.50" x2="588.90" y2="165.50" stroke="#111" stroke-width="0.7"/>
<circle cx="587.82" cy="164.65" r="0.35" fill="#222"/>
<circle cx="587.79" cy="165.27" r="0.35" fill="#222"/>
<circle cx="586.52" cy="161.52" r="0.35" fill="#222"/>
<rect x="592.90" y="161.70" width="5.4" height="7.30" fill="#2a6272" stroke="#111" stroke-width="0.8"/>
<line x1="595.60" y1="160.90" x2="595.60" y2="162.50" stroke="#111" stroke-width="0.7"/>
<line x1="594.00" y1="160.90" x2="597.20" y2="160.90" stroke="#111" stroke-width="0.7"/>
<line x1="594.00" y1="162.50" x2="597.20" y2="162.50" stroke="#111" stroke-width="0.7"/>
<circle cx="595.32" cy="163.43" r="0.35" fill="#222"/>
<circle cx="595.37" cy="163.18" r="0.35" fill="#222"/>
<circle cx="595.23" cy="160.69" r="0.35" fill="#222"/>
<rect x="601.30" y="167.80" width="5.4" height="1.20" fill="#ffffff" stroke="#111" stroke-width="0.8"/>
<line x1="604.00" y1="167.50" x2="604.00" y2="168.10" stroke="#111" stroke-width="0.7"/>
<line x1="602.40" y1="167.50" x2="605.60" y2="167.50" stroke="#111" stroke-width="0.7"/>
<line x1="602.40" y1="168.10" x2="605.60" y2="168.10" stroke="#111" stroke-width="0.7"/>
<circle cx="604.65" cy="167.11" r="0.35" fill="#222"/>
<circle cx="603.76" cy="168.54" r="0.35" fill="#222"/>
<circle cx="603.82" cy="168.15" r="0.35" fill="#222"/>
<rect x="609.60" y="164.00" width="5.4" height="5.00" fill="#f03a2a" stroke="#111" stroke-width="0.8"/>
<line x1="612.30" y1="163.20" x2="612.30" y2="164.80" stroke="#111" stroke-width="0.7"/>
<line x1="610.70" y1="163.20" x2="613.90" y2="163.20" stroke="#111" stroke-width="0.7"/>
<line x1="610.70" y1="164.80" x2="613.90" y2="164.80" stroke="#111" stroke-width="0.7"/>
<circle cx="612.92" cy="162.47" r="0.35" fill="#222"/>
<circle cx="613.04" cy="164.88" r="0.35" fill="#222"/>
<circle cx="612.49" cy="164.22" r="0.35" fill="#222"/>
<rect x="618.00" y="154.20" width="5.4" height="14.80" fill="#9c1c10" stroke="#111" stroke-width="0.8"/>
<line x1="620.70" y1="152.70" x2="620.70" y2="155.70" stroke="#111" stroke-width="0.7"/>
<line x1="619.10" y1="152.70" x2="622.30" y2="152.70" stroke="#111" stroke-width="0.7"/>
<line x1="619.10" y1="155.70" x2="622.30" y2="155.70" stroke="#111" stroke-width="0.7"/>
<circle cx="619.97" cy="153.00" r="0.35" fill="#222"/>
<circle cx="621.27" cy="157.63" r="0.35" fill="#222"/>
<circle cx="621.34" cy="153.44" r="0.35" fill="#222"/>
<rect x="632.20" y="153.00" width="5.4" height="16.00" fill="#8c8c8c" stroke="#111" stroke-width="0.8"/>
<line x1="634.90" y1="149.80" x2="634.90" y2="156.20" stroke="#111" stroke-width="0.7"/>
<line x1="633.30" y1="149.80" x2="636.50" y2="149.80" stroke="#111" stroke-width="0.7"/>
<line x1="633.30" y1="156.20" x2="636.50" y2="156.20" stroke="#111" stroke-width="0.7"/>
<circle cx="634.59" cy="157.37" r="0.35" fill="#222"/>
<circle cx="635.64" cy="154.76" r="0.35" fill="#222"/>
<circle cx="635.62" cy="153.45" r="0.35" fill="#222"/>
<rect x="640.40" y="154.20" width="5.4" height="14.80" fill="#7ef0f0" stroke="#111" stroke-width="0.8"/>
<line x1="643.10" y1="150.70" x2="643.10" y2="157.70" stroke="#111" stroke-width="0.7"/>
<line x1="641.50" y1="150.70" x2="644.70" y2="150.70" stroke="#111" stroke-width="0.7"/>
<line x1="641.50" y1="157.70" x2="644.70" y2="157.70" stroke="#111" stroke-width="0.7"/>
<circle cx="642.92" cy="151.31" r="0.35" fill="#222"/>
<circle cx="642.65" cy="157.58" r="0.35" fill="#222"/>
<circle cx="643.70" cy="152.18" r="0.35" fill="#222"/>
<rect x="648.50" y="159.70" width="5.4" height="9.30" fill="#2a6272" stroke="#111" stroke-width="0.8"/>
<line x1="651.20" y1="157.20" x2="651.20" y2="162.20" stroke="#111" stroke-width="0.7"/>
<line x1="649.60" y1="157.20" x2="652.80" y2="157.20" stroke="#111" stroke-width="0.7"/>
<line x1="649.60" y1="162.20" x2="652.80" y2="162.20" stroke="#111" stroke-width="0.7"/>
<circle cx="651.67" cy="160.04" r="0.35" fill="#222"/>
<circle cx="650.68" cy="157.63" r="0.35" fill="#222"/>
<circle cx="650.70" cy="158.78" r="0.35" fill="#222"/>
<rect x="656.80" y="168.00" width="5.4" height="1.00" fill="#ffffff" stroke="#111" stroke-width="0.8"/>
<line x1="659.50" y1="167.70" x2="659.50" y2="168.30" stroke="#111" stroke-width="0.7"/>
<line x1="657.90" y1="167.70" x2="661.10" y2="167.70" stroke="#111" stroke-width="0.7"/>
<line x1="657.90" y1="168.30" x2="661.10" y2="168.30" stroke="#111" stroke-width="0.7"/>
<circle cx="659.17" cy="169.90" r="0.35" fill="#222"/>
<circle cx="658.88" cy="168.68" r="0.35" fill="#222"/>
<circle cx="659.32" cy="168.60" r="0.35" fill="#222"/>
<rect x="665.00" y="165.20" width="5.4" height="3.80" fill="#f03a2a" stroke="#111" stroke-width="0.8"/>
<line x1="667.70" y1="164.40" x2="667.70" y2="166.00" stroke="#111" stroke-width="0.7"/>
<line x1="666.10" y1="164.40" x2="669.30" y2="164.40" stroke="#111" stroke-width="0.7"/>
<line x1="666.10" y1="166.00" x2="669.30" y2="166.00" stroke="#111" stroke-width="0.7"/>
<circle cx="667.00" cy="165.26" r="0.35" fill="#222"/>
<circle cx="668.22" cy="163.98" r="0.35" fill="#222"/>
<circle cx="667.29" cy="165.02" r="0.35" fill="#222"/>
<rect x="673.50" y="89.20" width="5.4" height="79.80" fill="#9c1c10" stroke="#111" stroke-width="0.8"/>
<line x1="676.20" y1="77.20" x2="676.20" y2="101.20" stroke="#111" stroke-width="0.7"/>
<line x1="674.60" y1="77.20" x2="677.80" y2="77.20" stroke="#111" stroke-width="0.7"/>
<line x1="674.60" y1="101.20" x2="677.80" y2="101.20" stroke="#111" stroke-width="0.7"/>
<circle cx="675.85" cy="77.22" r="0.35" fill="#222"/>
<circle cx="675.46" cy="79.08" r="0.35" fill="#222"/>
<circle cx="675.95" cy="96.34" r="0.35" fill="#222"/>
<line x1="545.00" y1="169.00" x2="545.00" y2="171.60" stroke="#3c3c3c" stroke-width="1.0"/>
<text x="545.00" y="179.00" font-size="7.5" text-anchor="middle" font-family="Liberation Sans, sans-serif" fill="#000" font-style="italic">APL</text>
<line x1="600.10" y1="169.00" x2="600.10" y2="171.60" stroke="#3c3c3c" stroke-width="1.0"/>
<text x="600.10" y="179.00" font-size="7.5" text-anchor="middle" font-family="Liberation Sans, sans-serif" fill="#000" font-style="italic">NAC86</text>
<line x1="655.90" y1="169.00" x2="655.90" y2="171.60" stroke="#3c3c3c" stroke-width="1.0"/>
<text x="655.90" y="179.00" font-size="7.5" text-anchor="middle" font-family="Liberation Sans, sans-serif" fill="#000" font-style="italic">NEN4</text>
<text x="565.30" y="18.00" font-size="5.8" text-anchor="middle" font-family="Liberation Sans, sans-serif" fill="#000" font-weight="bold">**</text>
<circle cx="565.3" cy="26.3" r="0.4" fill="#222"/>
<text x="676.30" y="60.20" font-size="5.8" text-anchor="middle" font-family="Liberation Sans, sans-serif" fill="#000" font-weight="bold">**</text>
<circle cx="676.3" cy="67.4" r="0.4" fill="#222"/>
<text x="548.80" y="164.80" font-size="5.6" text-anchor="middle" font-family="Liberation Sans, sans-serif" fill="#000" font-weight="bold">***</text>
<text x="556.90" y="155.30" font-size="5.6" text-anchor="middle" font-family="Liberation Sans, sans-serif" fill="#000" font-weight="bold">*</text>
<text x="587.30" y="161.30" font-size="5.6" text-anchor="middle" font-family="Liberation Sans, sans-serif" fill="#000" font-weight="bold">*</text>
<text x="604.00" y="167.10" font-size="5.6" text-anchor="middle" font-family="Liberation Sans, sans-serif" fill="#000" font-weight="bold">*</text>
<text x="612.30" y="163.80" font-size="5.6" text-anchor="middle" font-family="Liberation Sans, sans-serif" fill="#000" font-weight="bold">*</text>
<text x="659.50" y="167.30" font-size="5.6" text-anchor="middle" font-family="Liberation Sans, sans-serif" fill="#000" font-weight="bold">*</text>
<text x="667.80" y="162.80" font-size="5.6" text-anchor="middle" font-family="Liberation Sans, sans-serif" fill="#000" font-weight="bold">*</text>
<rect x="597.4" y="13.30" width="3.4" height="3.4" fill="#8c8c8c" stroke="#222" stroke-width="0.85"/>
<text x="606.20" y="16.90" font-size="5.45" text-anchor="start" font-family="Liberation Sans, sans-serif" fill="#000" >WT +Fe</text>
<rect x="597.4" y="22.62" width="3.4" height="3.4" fill="#7ef0f0" stroke="#222" stroke-width="0.85"/>
<text x="606.2" y="26.22" font-size="5.45" font-family="Liberation Sans, sans-serif"><tspan font-style="italic">dof1.5-1</tspan> +Fe</text>
<rect x="597.4" y="31.94" width="3.4" height="3.4" fill="#2a6272" stroke="#222" stroke-width="0.85"/>
<text x="606.20" y="35.54" font-size="5.45" text-anchor="start" font-family="Liberation Sans, sans-serif" fill="#000" >dof1.5-2D +Fe</text>
<rect x="597.4" y="41.26" width="3.4" height="3.4" fill="#ffffff" stroke="#222" stroke-width="0.85"/>
<text x="606.20" y="44.86" font-size="5.45" text-anchor="start" font-family="Liberation Sans, sans-serif" fill="#000" >WT -Fe</text>
<rect x="597.4" y="50.58" width="3.4" height="3.4" fill="#f03a2a" stroke="#222" stroke-width="0.85"/>
<text x="606.2" y="54.18" font-size="5.45" font-family="Liberation Sans, sans-serif"><tspan font-style="italic">dof1.5-1</tspan> -Fe</text>
<rect x="597.4" y="59.90" width="3.4" height="3.4" fill="#9c1c10" stroke="#222" stroke-width="0.85"/>
<text x="606.20" y="63.50" font-size="5.45" text-anchor="start" font-family="Liberation Sans, sans-serif" fill="#000" >dof1.5-2D -Fe</text>
<line x1="39.40" y1="225.60" x2="39.40" y2="354.80" stroke="#000" stroke-width="1.0"/>
<line x1="38.90" y1="354.30" x2="227.40" y2="354.30" stroke="#000" stroke-width="1.0"/>
<line x1="36.40" y1="354.30" x2="39.40" y2="354.30" stroke="#000" stroke-width="0.9"/>
<text x="35.60" y="356.10" font-size="5.1" text-anchor="end" font-family="Liberation Sans, sans-serif" fill="#000" >0.0</text>
<line x1="37.60" y1="347.88" x2="39.40" y2="347.88" stroke="#000" stroke-width="0.7"/>
<line x1="37.60" y1="341.47" x2="39.40" y2="341.47" stroke="#000" stroke-width="0.7"/>
<line x1="37.60" y1="335.06" x2="39.40" y2="335.06" stroke="#000" stroke-width="0.7"/>
<line x1="37.60" y1="328.64" x2="39.40" y2="328.64" stroke="#000" stroke-width="0.7"/>
<line x1="36.40" y1="322.23" x2="39.40" y2="322.23" stroke="#000" stroke-width="0.9"/>
<text x="35.60" y="324.03" font-size="5.1" text-anchor="end" font-family="Liberation Sans, sans-serif" fill="#000" >0.5</text>
<line x1="37.60" y1="315.81" x2="39.40" y2="315.81" stroke="#000" stroke-width="0.7"/>
<line x1="37.60" y1="309.39" x2="39.40" y2="309.39" stroke="#000" stroke-width="0.7"/>
<line x1="37.60" y1="302.98" x2="39.40" y2="302.98" stroke="#000" stroke-width="0.7"/>
<line x1="37.60" y1="296.56" x2="39.40" y2="296.56" stroke="#000" stroke-width="0.7"/>
<line x1="36.40" y1="290.15" x2="39.40" y2="290.15" stroke="#000" stroke-width="0.9"/>
<text x="35.60" y="291.95" font-size="5.1" text-anchor="end" font-family="Liberation Sans, sans-serif" fill="#000" >1.0</text>
<line x1="37.60" y1="283.74" x2="39.40" y2="283.74" stroke="#000" stroke-width="0.7"/>
<line x1="37.60" y1="277.32" x2="39.40" y2="277.32" stroke="#000" stroke-width="0.7"/>
<line x1="37.60" y1="270.91" x2="39.40" y2="270.91" stroke="#000" stroke-width="0.7"/>
<line x1="37.60" y1="264.49" x2="39.40" y2="264.49" stroke="#000" stroke-width="0.7"/>
<line x1="36.40" y1="258.08" x2="39.40" y2="258.08" stroke="#000" stroke-width="0.9"/>
<text x="35.60" y="259.88" font-size="5.1" text-anchor="end" font-family="Liberation Sans, sans-serif" fill="#000" >1.5</text>
<line x1="37.60" y1="251.66" x2="39.40" y2="251.66" stroke="#000" stroke-width="0.7"/>
<line x1="37.60" y1="245.25" x2="39.40" y2="245.25" stroke="#000" stroke-width="0.7"/>
<line x1="37.60" y1="238.83" x2="39.40" y2="238.83" stroke="#000" stroke-width="0.7"/>
<line x1="37.60" y1="232.42" x2="39.40" y2="232.42" stroke="#000" stroke-width="0.7"/>
<line x1="36.40" y1="226.00" x2="39.40" y2="226.00" stroke="#000" stroke-width="0.9"/>
<text x="35.60" y="227.80" font-size="5.1" text-anchor="end" font-family="Liberation Sans, sans-serif" fill="#000" >2.0</text>
<text transform="translate(26.4,290) rotate(-90)" font-size="6" text-anchor="middle" font-family="Liberation Sans, sans-serif">Normalized Ratio-S/Ep</text>
<line x1="133.60" y1="226.30" x2="133.60" y2="354.30" stroke="#000" stroke-width="0.85"/>
<line x1="59.70" y1="253.60" x2="59.70" y2="278.00" stroke="#000" stroke-width="0.95"/>
<line x1="59.70" y1="304.60" x2="59.70" y2="317.80" stroke="#000" stroke-width="0.95"/>
<line x1="55.40" y1="253.60" x2="64.00" y2="253.60" stroke="#000" stroke-width="0.95"/>
<line x1="55.40" y1="317.80" x2="64.00" y2="317.80" stroke="#000" stroke-width="0.95"/>
<rect x="50.40" y="278.00" width="18.60" height="26.60" fill="#a0a0a0" stroke="#000" stroke-width="0.95"/>
<line x1="50.40" y1="288.90" x2="69.00" y2="288.90" stroke="#000" stroke-width="0.95"/>
<circle cx="56.03" cy="296.78" r="0.95" fill="#000"/>
<circle cx="56.35" cy="300.21" r="0.95" fill="#000"/>
<circle cx="62.44" cy="300.25" r="0.95" fill="#000"/>
<circle cx="61.70" cy="287.39" r="0.95" fill="#000"/>
<circle cx="57.07" cy="303.49" r="0.95" fill="#000"/>
<circle cx="57.25" cy="286.01" r="0.95" fill="#000"/>
<circle cx="61.56" cy="281.48" r="0.95" fill="#000"/>
<circle cx="60.49" cy="301.93" r="0.95" fill="#000"/>
<circle cx="60.67" cy="284.55" r="0.95" fill="#000"/>
<circle cx="56.31" cy="301.21" r="0.95" fill="#000"/>
<circle cx="57.63" cy="292.43" r="0.95" fill="#000"/>
<circle cx="61.12" cy="278.31" r="0.95" fill="#000"/>
<circle cx="58.71" cy="286.27" r="0.95" fill="#000"/>
<circle cx="62.86" cy="282.71" r="0.95" fill="#000"/>
<circle cx="56.18" cy="295.63" r="0.95" fill="#000"/>
<circle cx="59.70" cy="287.62" r="0.95" fill="#000"/>
<circle cx="58.00" cy="279.75" r="0.95" fill="#000"/>
<circle cx="61.65" cy="281.36" r="0.95" fill="#000"/>
<circle cx="63.38" cy="288.73" r="0.95" fill="#000"/>
<circle cx="62.95" cy="310.27" r="0.95" fill="#000"/>
<circle cx="55.47" cy="285.36" r="0.95" fill="#000"/>
<circle cx="58.36" cy="296.20" r="0.95" fill="#000"/>
<circle cx="61.49" cy="295.53" r="0.95" fill="#000"/>
<circle cx="58.37" cy="300.52" r="0.95" fill="#000"/>
<circle cx="56.24" cy="265.26" r="0.95" fill="#000"/>
<circle cx="61.61" cy="300.73" r="0.95" fill="#000"/>
<circle cx="56.66" cy="279.06" r="0.95" fill="#000"/>
<circle cx="58.63" cy="286.06" r="0.95" fill="#000"/>
<circle cx="60.94" cy="286.27" r="0.95" fill="#000"/>
<circle cx="60.33" cy="300.33" r="0.95" fill="#000"/>
<line x1="59.70" y1="354.30" x2="59.70" y2="357.20" stroke="#000" stroke-width="0.9"/>
<line x1="89.05" y1="265.10" x2="89.05" y2="281.90" stroke="#000" stroke-width="0.95"/>
<line x1="89.05" y1="302.50" x2="89.05" y2="315.40" stroke="#000" stroke-width="0.95"/>
<line x1="84.75" y1="265.10" x2="93.35" y2="265.10" stroke="#000" stroke-width="0.95"/>
<line x1="84.75" y1="315.40" x2="93.35" y2="315.40" stroke="#000" stroke-width="0.95"/>
<rect x="79.60" y="281.90" width="18.90" height="20.60" fill="#7ef0f0" stroke="#000" stroke-width="0.95"/>
<line x1="79.60" y1="292.30" x2="98.50" y2="292.30" stroke="#000" stroke-width="0.95"/>
<circle cx="88.46" cy="277.91" r="0.95" fill="#000"/>
<circle cx="84.56" cy="282.66" r="0.95" fill="#000"/>
<circle cx="87.13" cy="304.16" r="0.95" fill="#000"/>
<circle cx="90.02" cy="299.50" r="0.95" fill="#000"/>
<circle cx="85.55" cy="286.94" r="0.95" fill="#000"/>
<circle cx="92.78" cy="275.67" r="0.95" fill="#000"/>
<circle cx="90.80" cy="269.43" r="0.95" fill="#000"/>
<circle cx="92.01" cy="297.30" r="0.95" fill="#000"/>
<circle cx="93.07" cy="283.75" r="0.95" fill="#000"/>
<circle cx="90.77" cy="301.06" r="0.95" fill="#000"/>
<circle cx="90.20" cy="306.85" r="0.95" fill="#000"/>
<circle cx="90.83" cy="283.02" r="0.95" fill="#000"/>
<circle cx="92.90" cy="292.44" r="0.95" fill="#000"/>
<circle cx="84.94" cy="297.60" r="0.95" fill="#000"/>
<circle cx="86.90" cy="305.63" r="0.95" fill="#000"/>
<circle cx="90.29" cy="301.87" r="0.95" fill="#000"/>
<circle cx="85.08" cy="287.04" r="0.95" fill="#000"/>
<circle cx="86.36" cy="290.38" r="0.95" fill="#000"/>
<circle cx="90.91" cy="284.71" r="0.95" fill="#000"/>
<circle cx="86.73" cy="277.06" r="0.95" fill="#000"/>
<circle cx="92.97" cy="291.07" r="0.95" fill="#000"/>
<circle cx="92.51" cy="288.07" r="0.95" fill="#000"/>
<circle cx="87.55" cy="293.50" r="0.95" fill="#000"/>
<circle cx="91.39" cy="292.68" r="0.95" fill="#000"/>
<circle cx="89.94" cy="295.63" r="0.95" fill="#000"/>
<circle cx="92.03" cy="297.68" r="0.95" fill="#000"/>
<circle cx="87.79" cy="287.86" r="0.95" fill="#000"/>
<circle cx="87.08" cy="283.14" r="0.95" fill="#000"/>
<circle cx="88.58" cy="296.35" r="0.95" fill="#000"/>
<circle cx="88.77" cy="288.58" r="0.95" fill="#000"/>
<line x1="89.05" y1="354.30" x2="89.05" y2="357.20" stroke="#000" stroke-width="0.9"/>
<line x1="118.55" y1="257.00" x2="118.55" y2="276.30" stroke="#000" stroke-width="0.95"/>
<line x1="118.55" y1="292.30" x2="118.55" y2="310.70" stroke="#000" stroke-width="0.95"/>
<line x1="114.25" y1="257.00" x2="122.85" y2="257.00" stroke="#000" stroke-width="0.95"/>
<line x1="114.25" y1="310.70" x2="122.85" y2="310.70" stroke="#000" stroke-width="0.95"/>
<rect x="109.00" y="276.30" width="19.10" height="16.00" fill="#2f7f92" stroke="#000" stroke-width="0.95"/>
<line x1="109.00" y1="279.00" x2="128.10" y2="279.00" stroke="#000" stroke-width="0.95"/>
<circle cx="114.70" cy="278.99" r="0.95" fill="#000"/>
<circle cx="120.80" cy="292.17" r="0.95" fill="#000"/>
<circle cx="122.87" cy="287.77" r="0.95" fill="#000"/>
<circle cx="118.45" cy="278.04" r="0.95" fill="#000"/>
<circle cx="118.94" cy="279.34" r="0.95" fill="#000"/>
<circle cx="119.85" cy="291.01" r="0.95" fill="#000"/>
<circle cx="119.92" cy="307.22" r="0.95" fill="#000"/>
<circle cx="115.30" cy="280.24" r="0.95" fill="#000"/>
<circle cx="121.61" cy="288.69" r="0.95" fill="#000"/>
<circle cx="119.79" cy="279.27" r="0.95" fill="#000"/>
<circle cx="115.57" cy="306.76" r="0.95" fill="#000"/>
<circle cx="120.73" cy="301.59" r="0.95" fill="#000"/>
<circle cx="121.48" cy="279.25" r="0.95" fill="#000"/>
<circle cx="119.01" cy="282.20" r="0.95" fill="#000"/>
<circle cx="116.20" cy="289.60" r="0.95" fill="#000"/>
<circle cx="119.70" cy="285.37" r="0.95" fill="#000"/>
<line x1="118.55" y1="354.30" x2="118.55" y2="357.20" stroke="#000" stroke-width="0.9"/>
<line x1="148.00" y1="266.60" x2="148.00" y2="299.40" stroke="#000" stroke-width="0.95"/>
<line x1="148.00" y1="322.60" x2="148.00" y2="334.40" stroke="#000" stroke-width="0.95"/>
<line x1="143.70" y1="266.60" x2="152.30" y2="266.60" stroke="#000" stroke-width="0.95"/>
<line x1="143.70" y1="334.40" x2="152.30" y2="334.40" stroke="#000" stroke-width="0.95"/>
<rect x="138.40" y="299.40" width="19.20" height="23.20" fill="#ffffff" stroke="#000" stroke-width="0.95"/>
<line x1="138.40" y1="313.60" x2="157.60" y2="313.60" stroke="#000" stroke-width="0.95"/>
<circle cx="151.65" cy="314.44" r="0.95" fill="#000"/>
<circle cx="148.00" cy="300.12" r="0.95" fill="#000"/>
<circle cx="148.73" cy="306.35" r="0.95" fill="#000"/>
<circle cx="144.97" cy="315.36" r="0.95" fill="#000"/>
<circle cx="144.31" cy="321.90" r="0.95" fill="#000"/>
<circle cx="145.22" cy="309.60" r="0.95" fill="#000"/>
<circle cx="151.07" cy="266.79" r="0.95" fill="#000"/>
<circle cx="147.33" cy="319.95" r="0.95" fill="#000"/>
<circle cx="148.13" cy="314.75" r="0.95" fill="#000"/>
<circle cx="147.45" cy="307.26" r="0.95" fill="#000"/>
<circle cx="151.64" cy="322.61" r="0.95" fill="#000"/>
<circle cx="147.49" cy="306.26" r="0.95" fill="#000"/>
<circle cx="145.26" cy="307.48" r="0.95" fill="#000"/>
<circle cx="147.64" cy="306.91" r="0.95" fill="#000"/>
<circle cx="151.29" cy="328.21" r="0.95" fill="#000"/>
<circle cx="149.08" cy="331.81" r="0.95" fill="#000"/>
<circle cx="149.59" cy="270.67" r="0.95" fill="#000"/>
<circle cx="148.64" cy="286.74" r="0.95" fill="#000"/>
<circle cx="149.33" cy="299.19" r="0.95" fill="#000"/>
<circle cx="151.47" cy="307.37" r="0.95" fill="#000"/>
<line x1="148.00" y1="354.30" x2="148.00" y2="357.20" stroke="#000" stroke-width="0.9"/>
<line x1="177.65" y1="257.00" x2="177.65" y2="279.20" stroke="#000" stroke-width="0.95"/>
<line x1="177.65" y1="305.50" x2="177.65" y2="315.20" stroke="#000" stroke-width="0.95"/>
<line x1="173.35" y1="257.00" x2="181.95" y2="257.00" stroke="#000" stroke-width="0.95"/>
<line x1="173.35" y1="315.20" x2="181.95" y2="315.20" stroke="#000" stroke-width="0.95"/>
<rect x="168.20" y="279.20" width="18.90" height="26.30" fill="#f02a1a" stroke="#000" stroke-width="0.95"/>
<line x1="168.20" y1="293.20" x2="187.10" y2="293.20" stroke="#000" stroke-width="0.95"/>
<circle cx="179.26" cy="284.17" r="0.95" fill="#000"/>
<circle cx="179.09" cy="281.44" r="0.95" fill="#000"/>
<circle cx="176.90" cy="294.47" r="0.95" fill="#000"/>
<circle cx="176.72" cy="294.05" r="0.95" fill="#000"/>
<circle cx="181.16" cy="283.95" r="0.95" fill="#000"/>
<circle cx="180.91" cy="282.15" r="0.95" fill="#000"/>
<circle cx="177.93" cy="281.70" r="0.95" fill="#000"/>
<circle cx="178.14" cy="292.07" r="0.95" fill="#000"/>
<circle cx="174.17" cy="294.26" r="0.95" fill="#000"/>
<circle cx="173.87" cy="294.68" r="0.95" fill="#000"/>
<circle cx="177.11" cy="281.13" r="0.95" fill="#000"/>
<circle cx="179.58" cy="289.04" r="0.95" fill="#000"/>
<circle cx="182.07" cy="263.67" r="0.95" fill="#000"/>
<circle cx="180.62" cy="262.94" r="0.95" fill="#000"/>
<circle cx="181.79" cy="283.70" r="0.95" fill="#000"/>
<circle cx="174.38" cy="299.58" r="0.95" fill="#000"/>
<circle cx="175.28" cy="260.35" r="0.95" fill="#000"/>
<circle cx="178.50" cy="279.60" r="0.95" fill="#000"/>
<circle cx="179.52" cy="287.09" r="0.95" fill="#000"/>
<circle cx="178.74" cy="302.57" r="0.95" fill="#000"/>
<circle cx="181.41" cy="289.76" r="0.95" fill="#000"/>
<circle cx="179.86" cy="266.78" r="0.95" fill="#000"/>
<circle cx="179.27" cy="299.28" r="0.95" fill="#000"/>
<circle cx="176.51" cy="264.14" r="0.95" fill="#000"/>
<line x1="177.65" y1="354.30" x2="177.65" y2="357.20" stroke="#000" stroke-width="0.9"/>
<line x1="207.20" y1="273.20" x2="207.20" y2="284.50" stroke="#000" stroke-width="0.95"/>
<line x1="207.20" y1="318.60" x2="207.20" y2="328.40" stroke="#000" stroke-width="0.95"/>
<line x1="202.90" y1="273.20" x2="211.50" y2="273.20" stroke="#000" stroke-width="0.95"/>
<line x1="202.90" y1="328.40" x2="211.50" y2="328.40" stroke="#000" stroke-width="0.95"/>
<rect x="197.60" y="284.50" width="19.20" height="34.10" fill="#9c1c10" stroke="#000" stroke-width="0.95"/>
<line x1="197.60" y1="307.60" x2="216.80" y2="307.60" stroke="#000" stroke-width="0.95"/>
<circle cx="209.20" cy="325.53" r="0.95" fill="#000"/>
<circle cx="203.60" cy="305.09" r="0.95" fill="#000"/>
<circle cx="203.72" cy="311.88" r="0.95" fill="#000"/>
<circle cx="204.99" cy="310.47" r="0.95" fill="#000"/>
<circle cx="210.24" cy="299.73" r="0.95" fill="#000"/>
<circle cx="202.89" cy="288.37" r="0.95" fill="#000"/>
<circle cx="204.37" cy="311.80" r="0.95" fill="#000"/>
<circle cx="208.88" cy="294.39" r="0.95" fill="#000"/>
<circle cx="210.58" cy="289.42" r="0.95" fill="#000"/>
<circle cx="209.97" cy="308.01" r="0.95" fill="#000"/>
<circle cx="205.78" cy="273.96" r="0.95" fill="#000"/>
<circle cx="210.56" cy="301.61" r="0.95" fill="#000"/>
<circle cx="204.34" cy="275.16" r="0.95" fill="#000"/>
<circle cx="206.23" cy="310.71" r="0.95" fill="#000"/>
<circle cx="210.31" cy="289.90" r="0.95" fill="#000"/>
<circle cx="208.20" cy="314.27" r="0.95" fill="#000"/>
<circle cx="204.65" cy="295.73" r="0.95" fill="#000"/>
<circle cx="203.09" cy="305.73" r="0.95" fill="#000"/>
<line x1="207.20" y1="354.30" x2="207.20" y2="357.20" stroke="#000" stroke-width="0.9"/>
<text x="59.60" y="248.20" font-size="5.9" text-anchor="middle" font-family="Liberation Sans, sans-serif" fill="#000" >AB</text>
<text x="89.00" y="256.70" font-size="5.9" text-anchor="middle" font-family="Liberation Sans, sans-serif" fill="#000" >AB</text>
<text x="118.60" y="248.20" font-size="5.9" text-anchor="middle" font-family="Liberation Sans, sans-serif" fill="#000" >A</text>
<text x="147.90" y="256.70" font-size="5.9" text-anchor="middle" font-family="Liberation Sans, sans-serif" fill="#000" >C</text>
<text x="177.50" y="248.20" font-size="5.9" text-anchor="middle" font-family="Liberation Sans, sans-serif" fill="#000" >AB</text>
<text x="207.10" y="265.80" font-size="5.9" text-anchor="middle" font-family="Liberation Sans, sans-serif" fill="#000" >BC</text>
<line x1="58.30" y1="360.70" x2="60.90" y2="360.70" stroke="#000" stroke-width="0.8"/>
<line x1="59.60" y1="359.20" x2="59.60" y2="362.20" stroke="#000" stroke-width="0.8"/>
<line x1="87.70" y1="360.70" x2="90.30" y2="360.70" stroke="#000" stroke-width="0.8"/>
<line x1="89.00" y1="359.20" x2="89.00" y2="362.20" stroke="#000" stroke-width="0.8"/>
<line x1="117.20" y1="360.70" x2="119.80" y2="360.70" stroke="#000" stroke-width="0.8"/>
<line x1="118.50" y1="359.20" x2="118.50" y2="362.20" stroke="#000" stroke-width="0.8"/>
<line x1="147.00" y1="361.20" x2="148.80" y2="361.20" stroke="#000" stroke-width="0.8"/>
<line x1="176.60" y1="361.20" x2="178.40" y2="361.20" stroke="#000" stroke-width="0.8"/>
<line x1="206.20" y1="361.20" x2="208.00" y2="361.20" stroke="#000" stroke-width="0.8"/>
<text x="59.60" y="369.60" font-size="5.8" text-anchor="middle" font-family="Liberation Sans, sans-serif" fill="#000" >WT</text>
<text x="89.00" y="369.60" font-size="5.8" text-anchor="middle" font-family="Liberation Sans, sans-serif" fill="#000" font-style="italic">dof1.5-1</text>
<text x="118.50" y="369.60" font-size="5.8" text-anchor="middle" font-family="Liberation Sans, sans-serif" fill="#000" >dof1.5-2D</text>
<text x="147.90" y="369.60" font-size="5.8" text-anchor="middle" font-family="Liberation Sans, sans-serif" fill="#000" >WT</text>
<text x="177.50" y="369.60" font-size="5.8" text-anchor="middle" font-family="Liberation Sans, sans-serif" fill="#000" font-style="italic">dof1.5-1</text>
<text x="207.10" y="369.60" font-size="5.8" text-anchor="middle" font-family="Liberation Sans, sans-serif" fill="#000" >dof1.5-2D</text>
<text x="388.00" y="200.40" font-size="7.1" text-anchor="middle" font-family="Liberation Sans, sans-serif" fill="#000" font-weight="bold" font-style="italic">dof1.5-1 pNAC86:HB2-YFP</text>
<defs><clipPath id="cf"><rect x="276.7" y="212.2" width="84.4" height="160.6"/></clipPath></defs>
<g clip-path="url(#cf)">
<rect x="276.7" y="212.2" width="84.4" height="160.6" fill="#000"/>
<path d="M283.0,208.0 L282.9,211.0 L282.7,214.0 L282.6,217.0 L282.4,220.0 L282.3,223.0 L282.1,226.0 L282.0,229.0 L281.8,232.0 L281.7,235.0 L281.5,238.0 L281.4,241.0 L281.2,244.0 L281.1,247.0 L281.1,250.0 L281.0,253.0 L280.9,256.0 L280.8,259.0 L280.7,262.0 L280.7,265.0 L280.6,268.0 L280.5,271.0 L280.4,274.0 L280.3,277.0 L280.1,280.0 L280.0,283.0 L279.8,286.0 L279.7,289.0 L279.7,292.0 L279.9,295.0 L280.1,298.0 L280.3,301.0 L280.5,304.0 L280.7,307.0 L280.9,310.0 L281.1,313.0 L281.3,316.0 L281.4,319.0 L281.6,322.0 L282.0,325.0 L282.3,328.0 L282.7,331.0 L283.1,334.0 L283.5,337.0 L283.9,340.0 L284.2,343.0 L284.6,346.0 L285.0,349.0 L285.4,352.0 L285.7,355.0 L286.2,358.0 L286.7,361.0 L287.2,364.0 L287.8,367.0 L288.3,370.0 L288.8,373.0 L289.2,376.0 L289.5,378.0 L349.0,378.0 L348.9,376.0 L348.7,373.0 L348.5,370.0 L348.2,367.0 L348.0,364.0 L347.8,361.0 L347.6,358.0 L347.4,355.0 L347.2,352.0 L347.0,349.0 L346.8,346.0 L346.6,343.0 L346.4,340.0 L346.2,337.0 L346.0,334.0 L345.8,331.0 L345.6,328.0 L345.4,325.0 L345.2,322.0 L345.0,319.0 L344.8,316.0 L344.6,313.0 L344.4,310.0 L344.2,307.0 L344.0,304.0 L343.8,301.0 L343.6,298.0 L343.3,295.0 L343.1,292.0 L342.9,289.0 L342.7,286.0 L342.5,283.0 L342.3,280.0 L342.1,277.0 L342.0,274.0 L341.9,271.0 L341.9,268.0 L341.8,265.0 L341.8,262.0 L341.7,259.0 L341.7,256.0 L341.6,253.0 L341.6,250.0 L341.5,247.0 L341.5,244.0 L341.4,241.0 L341.3,238.0 L341.2,235.0 L341.1,232.0 L341.0,229.0 L340.9,226.0 L340.8,223.0 L340.7,220.0 L340.7,217.0 L340.6,214.0 L340.4,211.0 L340.3,208.0 Z" fill="#10030a"/>
<g filter="url(#bl2)" fill="none">
<path d="M337.0,212.0 L337.1,216.0 L337.2,220.0 L337.3,224.0 L337.4,228.0 L337.5,232.0 L337.7,236.0 L337.8,240.0 L337.9,244.0 L337.9,248.0 L338.0,252.0 L338.0,256.0 L338.1,260.0 L338.1,264.0 L338.2,268.0 L338.3,272.0 L338.4,276.0 L338.6,280.0 L338.8,284.0 L339.1,288.0 L339.3,292.0 L339.6,296.0 L339.9,300.0 L340.2,304.0 L340.4,308.0 L340.7,312.0 L341.0,316.0 L341.3,320.0 L341.6,324.0 L341.8,328.0 L342.1,332.0 L342.4,336.0 L342.6,340.0 L342.9,344.0 L343.2,348.0 L343.5,352.0 L343.7,356.0 L344.1,360.0 L344.4,364.0 L344.7,368.0 L345.0,372.0" stroke="#a0101c" stroke-width="4.5" opacity="0.75"/>
<path d="M286.3,212.0 L286.1,216.0 L285.9,220.0 L285.7,224.0 L285.6,228.0 L285.4,232.0 L285.2,236.0 L285.0,240.0 L284.9,244.0 L284.7,248.0 L284.6,252.0 L284.6,256.0 L284.5,260.0 L284.4,264.0 L284.3,268.0 L284.2,272.0 L284.0,276.0 L283.9,280.0 L283.7,284.0 L283.5,288.0 L283.5,292.0 L283.8,296.0 L284.0,300.0 L284.3,304.0 L284.6,308.0 L284.8,312.0 L285.1,316.0 L285.3,320.0 L285.6,324.0 L286.1,328.0 L286.6,332.0 L287.1,336.0 L287.6,340.0 L288.1,344.0 L288.6,348.0 L289.1,352.0 L289.6,356.0 L290.2,360.0 L290.9,364.0 L291.5,368.0 L292.2,372.0" stroke="#80101c" stroke-width="3.5" opacity="0.6"/>
<path d="M294.3,212.0 L294.2,216.0 L294.1,220.0 L293.9,224.0 L293.8,228.0 L293.7,232.0 L293.6,236.0 L293.4,240.0 L293.3,244.0 L293.2,248.0 L293.1,252.0 L293.1,256.0 L293.0,260.0 L292.9,264.0 L292.8,268.0 L292.8,272.0 L292.7,276.0 L292.6,280.0 L292.5,284.0 L292.3,288.0 L292.4,292.0 L292.7,296.0 L292.9,300.0 L293.2,304.0 L293.4,308.0 L293.7,312.0 L294.0,316.0 L294.2,320.0 L294.5,324.0 L295.0,328.0 L295.4,332.0 L295.9,336.0 L296.4,340.0 L296.8,344.0 L297.3,348.0 L297.7,352.0 L298.2,356.0 L298.8,360.0 L299.4,364.0 L300.0,368.0 L300.6,372.0" stroke="#50080f" stroke-width="5" opacity="0.5"/>
<path d="M330.1,212.0 L330.2,216.0 L330.2,220.0 L330.3,224.0 L330.4,228.0 L330.4,232.0 L330.5,236.0 L330.6,240.0 L330.6,244.0 L330.7,248.0 L330.7,252.0 L330.7,256.0 L330.8,260.0 L330.8,264.0 L330.8,268.0 L330.9,272.0 L331.0,276.0 L331.1,280.0 L331.3,284.0 L331.5,288.0 L331.7,292.0 L332.0,296.0 L332.3,300.0 L332.5,304.0 L332.8,308.0 L333.1,312.0 L333.4,316.0 L333.6,320.0 L333.9,324.0 L334.2,328.0 L334.5,332.0 L334.8,336.0 L335.1,340.0 L335.4,344.0 L335.7,348.0 L336.1,352.0 L336.4,356.0 L336.7,360.0 L337.1,364.0 L337.5,368.0 L337.8,372.0" stroke="#50080f" stroke-width="5" opacity="0.5"/>
</g>
<g filter="url(#bl1)" fill="none">
<path d="M282.8,212.0 L282.6,216.0 L282.4,220.0 L282.2,224.0 L282.0,228.0 L281.8,232.0 L281.6,236.0 L281.4,240.0 L281.2,244.0 L281.1,248.0 L281.0,252.0 L280.9,256.0 L280.8,260.0 L280.7,264.0 L280.6,268.0 L280.5,272.0 L280.3,276.0 L280.1,280.0 L279.9,284.0 L279.7,288.0 L279.7,292.0 L280.0,296.0 L280.2,300.0 L280.5,304.0 L280.7,308.0 L281.0,312.0 L281.3,316.0 L281.5,320.0 L281.8,324.0 L282.3,328.0 L282.8,332.0 L283.3,336.0 L283.9,340.0 L284.4,344.0 L284.9,348.0 L285.4,352.0 L285.9,356.0 L286.5,360.0 L287.2,364.0 L287.9,368.0 L288.6,372.0" stroke="#e01426" stroke-width="1.3"/>
<path d="M340.5,212.0 L340.6,216.0 L340.7,220.0 L340.9,224.0 L341.0,228.0 L341.1,232.0 L341.2,236.0 L341.3,240.0 L341.5,244.0 L341.6,248.0 L341.6,252.0 L341.7,256.0 L341.8,260.0 L341.8,264.0 L341.9,268.0 L341.9,272.0 L342.1,276.0 L342.3,280.0 L342.6,284.0 L342.9,288.0 L343.1,292.0 L343.4,296.0 L343.7,300.0 L344.0,304.0 L344.3,308.0 L344.5,312.0 L344.8,316.0 L345.1,320.0 L345.4,324.0 L345.6,328.0 L345.9,332.0 L346.1,336.0 L346.4,340.0 L346.7,344.0 L346.9,348.0 L347.2,352.0 L347.4,356.0 L347.7,360.0 L348.0,364.0 L348.3,368.0 L348.6,372.0" stroke="#e81628" stroke-width="1.5"/>
<path d="M286.4,212.0 L286.3,216.0 L286.1,220.0 L285.9,224.0 L285.7,228.0 L285.6,232.0 L285.4,236.0 L285.2,240.0 L285.0,244.0 L284.9,248.0 L284.8,252.0 L284.7,256.0 L284.6,260.0 L284.5,264.0 L284.4,268.0 L284.4,272.0 L284.2,276.0 L284.1,280.0 L283.9,284.0 L283.7,288.0 L283.7,292.0 L284.0,296.0 L284.2,300.0 L284.5,304.0 L284.7,308.0 L285.0,312.0 L285.3,316.0 L285.5,320.0 L285.8,324.0 L286.3,328.0 L286.8,332.0 L287.3,336.0 L287.8,340.0 L288.3,344.0 L288.8,348.0 L289.3,352.0 L289.8,356.0 L290.4,360.0 L291.1,364.0 L291.7,368.0 L292.4,372.0" stroke="#d01424" stroke-width="0.85"/>
<path d="M291.9,212.0 L291.7,216.0 L291.6,220.0 L291.4,224.0 L291.3,228.0 L291.1,232.0 L291.0,236.0 L290.8,240.0 L290.7,244.0 L290.6,248.0 L290.5,252.0 L290.4,256.0 L290.4,260.0 L290.3,264.0 L290.2,268.0 L290.1,272.0 L290.0,276.0 L289.9,280.0 L289.8,284.0 L289.6,288.0 L289.7,292.0 L289.9,296.0 L290.2,300.0 L290.5,304.0 L290.7,308.0 L291.0,312.0 L291.2,316.0 L291.5,320.0 L291.8,324.0 L292.3,328.0 L292.7,332.0 L293.2,336.0 L293.7,340.0 L294.1,344.0 L294.6,348.0 L295.1,352.0 L295.5,356.0 L296.1,360.0 L296.8,364.0 L297.4,368.0 L298.0,372.0" stroke="#b81222" stroke-width="0.8"/>
<path d="M296.9,212.0 L296.8,216.0 L296.7,220.0 L296.6,224.0 L296.5,228.0 L296.4,232.0 L296.2,236.0 L296.1,240.0 L296.0,244.0 L295.9,248.0 L295.9,252.0 L295.8,256.0 L295.7,260.0 L295.7,264.0 L295.6,268.0 L295.5,272.0 L295.5,276.0 L295.4,280.0 L295.3,284.0 L295.2,288.0 L295.3,292.0 L295.5,296.0 L295.8,300.0 L296.0,304.0 L296.3,308.0 L296.6,312.0 L296.8,316.0 L297.1,320.0 L297.4,324.0 L297.8,328.0 L298.3,332.0 L298.7,336.0 L299.2,340.0 L299.6,344.0 L300.1,348.0 L300.5,352.0 L301.0,356.0 L301.5,360.0 L302.1,364.0 L302.7,368.0 L303.3,372.0" stroke="#800e1a" stroke-width="0.65"/>
<path d="M300.2,250.0 L300.1,254.0 L300.1,258.0 L300.0,262.0 L300.0,266.0 L299.9,270.0 L299.9,274.0 L299.8,278.0 L299.8,282.0 L299.7,286.0 L299.6,290.0 L299.9,294.0 L300.2,298.0 L300.4,302.0 L300.7,306.0 L300.9,310.0 L301.2,314.0 L301.5,318.0 L301.7,322.0 L302.1,326.0 L302.5,330.0 L303.0,334.0 L303.4,338.0 L303.8,342.0 L304.3,346.0 L304.7,350.0 L305.1,354.0 L305.6,358.0 L306.2,362.0 L306.7,366.0 L307.3,370.0" stroke="#500a12" stroke-width="0.55"/>
<path d="M304.7,250.0 L304.6,254.0 L304.6,258.0 L304.6,262.0 L304.5,266.0 L304.5,270.0 L304.4,274.0 L304.4,278.0 L304.4,282.0 L304.4,286.0 L304.3,290.0 L304.6,294.0 L304.9,298.0 L305.1,302.0 L305.4,306.0 L305.6,310.0 L305.9,314.0 L306.2,318.0 L306.4,322.0 L306.8,326.0 L307.2,330.0 L307.6,334.0 L308.0,338.0 L308.4,342.0 L308.9,346.0 L309.3,350.0 L309.7,354.0 L310.1,358.0 L310.7,362.0 L311.2,366.0 L311.8,370.0" stroke="#38070e" stroke-width="0.5"/>
<path d="M318.6,250.0 L318.6,254.0 L318.6,258.0 L318.6,262.0 L318.6,266.0 L318.6,270.0 L318.6,274.0 L318.7,278.0 L318.7,282.0 L318.8,286.0 L318.9,290.0 L319.2,294.0 L319.4,298.0 L319.7,302.0 L320.0,306.0 L320.3,310.0 L320.5,314.0 L320.8,318.0 L321.1,322.0 L321.4,326.0 L321.7,330.0 L322.1,334.0 L322.5,338.0 L322.8,342.0 L323.2,346.0 L323.5,350.0 L323.9,354.0 L324.2,358.0 L324.7,362.0 L325.1,366.0 L325.6,370.0" stroke="#38070e" stroke-width="0.5"/>
<path d="M322.8,250.0 L322.8,254.0 L322.8,258.0 L322.9,262.0 L322.9,266.0 L322.9,270.0 L322.9,274.0 L323.0,278.0 L323.1,282.0 L323.2,286.0 L323.3,290.0 L323.6,294.0 L323.9,298.0 L324.2,302.0 L324.4,306.0 L324.7,310.0 L325.0,314.0 L325.2,318.0 L325.5,322.0 L325.8,326.0 L326.2,330.0 L326.5,334.0 L326.8,338.0 L327.2,342.0 L327.5,346.0 L327.8,350.0 L328.2,354.0 L328.5,358.0 L329.0,362.0 L329.4,366.0 L329.8,370.0" stroke="#500a12" stroke-width="0.55"/>
<path d="M326.4,212.0 L326.4,216.0 L326.5,220.0 L326.5,224.0 L326.5,228.0 L326.6,232.0 L326.6,236.0 L326.7,240.0 L326.7,244.0 L326.7,248.0 L326.8,252.0 L326.8,256.0 L326.8,260.0 L326.8,264.0 L326.9,268.0 L326.9,272.0 L326.9,276.0 L327.1,280.0 L327.2,284.0 L327.4,288.0 L327.6,292.0 L327.9,296.0 L328.1,300.0 L328.4,304.0 L328.7,308.0 L329.0,312.0 L329.2,316.0 L329.5,320.0 L329.8,324.0 L330.1,328.0 L330.4,332.0 L330.8,336.0 L331.1,340.0 L331.4,344.0 L331.7,348.0 L332.0,352.0 L332.4,356.0 L332.7,360.0 L333.1,364.0 L333.5,368.0 L333.9,372.0" stroke="#800e1a" stroke-width="0.65"/>
<path d="M331.4,212.0 L331.5,216.0 L331.6,220.0 L331.7,224.0 L331.7,228.0 L331.8,232.0 L331.9,236.0 L331.9,240.0 L332.0,244.0 L332.1,248.0 L332.1,252.0 L332.1,256.0 L332.2,260.0 L332.2,264.0 L332.3,268.0 L332.3,272.0 L332.4,276.0 L332.6,280.0 L332.8,284.0 L333.0,288.0 L333.2,292.0 L333.5,296.0 L333.7,300.0 L334.0,304.0 L334.3,308.0 L334.6,312.0 L334.8,316.0 L335.1,320.0 L335.4,324.0 L335.7,328.0 L336.0,332.0 L336.3,336.0 L336.6,340.0 L336.9,344.0 L337.2,348.0 L337.5,352.0 L337.8,356.0 L338.1,360.0 L338.5,364.0 L338.8,368.0 L339.2,372.0" stroke="#b81222" stroke-width="0.8"/>
<path d="M336.5,212.0 L336.6,216.0 L336.7,220.0 L336.8,224.0 L336.9,228.0 L337.0,232.0 L337.1,236.0 L337.2,240.0 L337.3,244.0 L337.3,248.0 L337.4,252.0 L337.4,256.0 L337.5,260.0 L337.5,264.0 L337.6,268.0 L337.6,272.0 L337.7,276.0 L338.0,280.0 L338.2,284.0 L338.4,288.0 L338.7,292.0 L339.0,296.0 L339.3,300.0 L339.5,304.0 L339.8,308.0 L340.1,312.0 L340.4,316.0 L340.6,320.0 L340.9,324.0 L341.2,328.0 L341.5,332.0 L341.7,336.0 L342.0,340.0 L342.3,344.0 L342.6,348.0 L342.8,352.0 L343.1,356.0 L343.4,360.0 L343.8,364.0 L344.1,368.0 L344.4,372.0" stroke="#d01424" stroke-width="0.85"/>
<path d="M282.4,220.7 L286.1,220.7" stroke="#b81222" stroke-width="0.6"/>
<path d="M280.8,258.5 L284.7,258.5" stroke="#b81222" stroke-width="0.6"/>
<path d="M279.7,291.1 L283.7,291.1" stroke="#b81222" stroke-width="0.6"/>
<path d="M281.1,314.0 L285.1,314.0" stroke="#b81222" stroke-width="0.6"/>
<path d="M282.1,326.0 L286.1,326.0" stroke="#b81222" stroke-width="0.6"/>
<path d="M283.4,336.5 L287.4,336.5" stroke="#b81222" stroke-width="0.6"/>
<path d="M284.5,345.3 L288.4,345.3" stroke="#b81222" stroke-width="0.6"/>
<path d="M285.4,352.1 L289.3,352.1" stroke="#b81222" stroke-width="0.6"/>
<path d="M286.9,361.9 L290.7,361.9" stroke="#b81222" stroke-width="0.6"/>
<path d="M288.3,370.0 L292.1,370.0" stroke="#b81222" stroke-width="0.6"/>
<path d="M285.6,231.6 L291.2,231.6" stroke="#b81222" stroke-width="0.6"/>
<path d="M284.6,259.9 L290.4,259.9" stroke="#b81222" stroke-width="0.6"/>
<path d="M283.6,289.3 L289.6,289.3" stroke="#b81222" stroke-width="0.6"/>
<path d="M284.8,308.5 L290.7,308.5" stroke="#b81222" stroke-width="0.6"/>
<path d="M285.9,324.6 L291.9,324.6" stroke="#b81222" stroke-width="0.6"/>
<path d="M286.9,332.7 L292.8,332.7" stroke="#b81222" stroke-width="0.6"/>
<path d="M287.8,339.9 L293.7,339.9" stroke="#b81222" stroke-width="0.6"/>
<path d="M288.7,347.4 L294.5,347.4" stroke="#b81222" stroke-width="0.6"/>
<path d="M289.6,354.6 L295.4,354.6" stroke="#b81222" stroke-width="0.6"/>
<path d="M290.9,363.4 L296.7,363.4" stroke="#b81222" stroke-width="0.6"/>
<path d="M292.3,371.2 L297.9,371.2" stroke="#b81222" stroke-width="0.6"/>
<path d="M291.7,216.8 L296.8,216.8" stroke="#b81222" stroke-width="0.6"/>
<path d="M290.7,244.6 L296.0,244.6" stroke="#b81222" stroke-width="0.6"/>
<path d="M290.2,266.8 L295.6,266.8" stroke="#b81222" stroke-width="0.6"/>
<path d="M289.7,291.8 L295.3,291.8" stroke="#b81222" stroke-width="0.6"/>
<path d="M290.8,308.6 L296.3,308.6" stroke="#b81222" stroke-width="0.6"/>
<path d="M291.5,320.7 L297.1,320.7" stroke="#b81222" stroke-width="0.6"/>
<path d="M292.3,328.7 L297.9,328.7" stroke="#b81222" stroke-width="0.6"/>
<path d="M293.1,334.9 L298.6,334.9" stroke="#b81222" stroke-width="0.6"/>
<path d="M293.7,340.2 L299.2,340.2" stroke="#b81222" stroke-width="0.6"/>
<path d="M294.6,347.8 L300.0,347.8" stroke="#b81222" stroke-width="0.6"/>
<path d="M295.3,354.2 L300.8,354.2" stroke="#b81222" stroke-width="0.6"/>
<path d="M296.0,359.2 L301.4,359.2" stroke="#b81222" stroke-width="0.6"/>
<path d="M296.9,364.7 L302.2,364.7" stroke="#b81222" stroke-width="0.6"/>
<path d="M297.7,369.9 L303.0,369.9" stroke="#b81222" stroke-width="0.6"/>
<path d="M295.3,281.0 L299.8,281.0" stroke="#5a0a14" stroke-width="0.6"/>
<path d="M295.5,296.4 L300.1,296.4" stroke="#5a0a14" stroke-width="0.6"/>
<path d="M296.5,310.8 L301.0,310.8" stroke="#5a0a14" stroke-width="0.6"/>
<path d="M297.2,322.4 L301.8,322.4" stroke="#5a0a14" stroke-width="0.6"/>
<path d="M298.1,330.0 L302.5,330.0" stroke="#5a0a14" stroke-width="0.6"/>
<path d="M298.9,337.4 L303.3,337.4" stroke="#5a0a14" stroke-width="0.6"/>
<path d="M299.6,343.5 L304.0,343.5" stroke="#5a0a14" stroke-width="0.6"/>
<path d="M300.1,348.4 L304.5,348.4" stroke="#5a0a14" stroke-width="0.6"/>
<path d="M300.8,355.0 L305.2,355.0" stroke="#5a0a14" stroke-width="0.6"/>
<path d="M301.8,361.8 L306.1,361.8" stroke="#5a0a14" stroke-width="0.6"/>
<path d="M302.6,367.2 L306.9,367.2" stroke="#5a0a14" stroke-width="0.6"/>
<path d="M300.0,265.0 L304.5,265.0" stroke="#5a0a14" stroke-width="0.6"/>
<path d="M299.7,284.4 L304.4,284.4" stroke="#5a0a14" stroke-width="0.6"/>
<path d="M300.3,300.2 L305.0,300.2" stroke="#5a0a14" stroke-width="0.6"/>
<path d="M301.2,313.8 L305.9,313.8" stroke="#5a0a14" stroke-width="0.6"/>
<path d="M301.8,322.5 L306.5,322.5" stroke="#5a0a14" stroke-width="0.6"/>
<path d="M302.7,331.3 L307.4,331.3" stroke="#5a0a14" stroke-width="0.6"/>
<path d="M303.5,338.8 L308.1,338.8" stroke="#5a0a14" stroke-width="0.6"/>
<path d="M304.3,346.7 L308.9,346.7" stroke="#5a0a14" stroke-width="0.6"/>
<path d="M305.1,353.8 L309.7,353.8" stroke="#5a0a14" stroke-width="0.6"/>
<path d="M306.0,360.9 L310.5,360.9" stroke="#5a0a14" stroke-width="0.6"/>
<path d="M306.9,367.5 L311.4,367.5" stroke="#5a0a14" stroke-width="0.6"/>
<path d="M336.6,219.3 L340.7,219.3" stroke="#b81222" stroke-width="0.6"/>
<path d="M337.5,260.1 L341.8,260.1" stroke="#b81222" stroke-width="0.6"/>
<path d="M338.6,290.9 L343.1,290.9" stroke="#b81222" stroke-width="0.6"/>
<path d="M339.9,310.0 L344.4,310.0" stroke="#b81222" stroke-width="0.6"/>
<path d="M340.8,321.6 L345.2,321.6" stroke="#b81222" stroke-width="0.6"/>
<path d="M341.3,329.1 L345.7,329.1" stroke="#b81222" stroke-width="0.6"/>
<path d="M341.7,335.8 L346.1,335.8" stroke="#b81222" stroke-width="0.6"/>
<path d="M342.3,343.6 L346.6,343.6" stroke="#b81222" stroke-width="0.6"/>
<path d="M342.9,352.4 L347.2,352.4" stroke="#b81222" stroke-width="0.6"/>
<path d="M343.6,362.0 L347.9,362.0" stroke="#b81222" stroke-width="0.6"/>
<path d="M344.4,371.3 L348.6,371.3" stroke="#b81222" stroke-width="0.6"/>
<path d="M331.8,230.6 L336.9,230.6" stroke="#b81222" stroke-width="0.6"/>
<path d="M332.1,256.0 L337.4,256.0" stroke="#b81222" stroke-width="0.6"/>
<path d="M332.6,281.2 L338.0,281.2" stroke="#b81222" stroke-width="0.6"/>
<path d="M333.3,294.4 L338.9,294.4" stroke="#b81222" stroke-width="0.6"/>
<path d="M334.4,309.8 L339.9,309.8" stroke="#b81222" stroke-width="0.6"/>
<path d="M335.2,320.7 L340.7,320.7" stroke="#b81222" stroke-width="0.6"/>
<path d="M335.8,330.0 L341.3,330.0" stroke="#b81222" stroke-width="0.6"/>
<path d="M336.4,337.7 L341.9,337.7" stroke="#b81222" stroke-width="0.6"/>
<path d="M336.9,344.9 L342.4,344.9" stroke="#b81222" stroke-width="0.6"/>
<path d="M337.5,352.5 L342.9,352.5" stroke="#b81222" stroke-width="0.6"/>
<path d="M338.1,359.7 L343.4,359.7" stroke="#b81222" stroke-width="0.6"/>
<path d="M338.7,366.6 L344.0,366.6" stroke="#b81222" stroke-width="0.6"/>
<path d="M339.2,372.1 L344.4,372.1" stroke="#b81222" stroke-width="0.6"/>
<path d="M326.6,229.9 L331.8,229.9" stroke="#b81222" stroke-width="0.6"/>
<path d="M326.8,255.0 L332.1,255.0" stroke="#b81222" stroke-width="0.6"/>
<path d="M327.2,283.4 L332.7,283.4" stroke="#b81222" stroke-width="0.6"/>
<path d="M328.2,300.0 L333.7,300.0" stroke="#b81222" stroke-width="0.6"/>
<path d="M329.0,311.7 L334.5,311.7" stroke="#b81222" stroke-width="0.6"/>
<path d="M329.4,319.0 L335.0,319.0" stroke="#b81222" stroke-width="0.6"/>
<path d="M330.0,326.5 L335.6,326.5" stroke="#b81222" stroke-width="0.6"/>
<path d="M330.4,331.9 L336.0,331.9" stroke="#b81222" stroke-width="0.6"/>
<path d="M331.0,338.9 L336.5,338.9" stroke="#b81222" stroke-width="0.6"/>
<path d="M331.6,346.7 L337.1,346.7" stroke="#b81222" stroke-width="0.6"/>
<path d="M332.2,354.5 L337.7,354.5" stroke="#b81222" stroke-width="0.6"/>
<path d="M332.9,361.4 L338.2,361.4" stroke="#b81222" stroke-width="0.6"/>
<path d="M333.5,367.5 L338.8,367.5" stroke="#b81222" stroke-width="0.6"/>
<path d="M334.0,372.8 L339.3,372.8" stroke="#b81222" stroke-width="0.6"/>
<path d="M323.0,277.5 L327.0,277.5" stroke="#5a0a14" stroke-width="0.6"/>
<path d="M323.9,298.6 L328.1,298.6" stroke="#5a0a14" stroke-width="0.6"/>
<path d="M324.7,309.5 L328.8,309.5" stroke="#5a0a14" stroke-width="0.6"/>
<path d="M325.3,318.6 L329.4,318.6" stroke="#5a0a14" stroke-width="0.6"/>
<path d="M325.8,325.7 L329.9,325.7" stroke="#5a0a14" stroke-width="0.6"/>
<path d="M326.4,332.6 L330.5,332.6" stroke="#5a0a14" stroke-width="0.6"/>
<path d="M327.0,340.4 L331.1,340.4" stroke="#5a0a14" stroke-width="0.6"/>
<path d="M327.5,345.8 L331.5,345.8" stroke="#5a0a14" stroke-width="0.6"/>
<path d="M328.1,352.7 L332.1,352.7" stroke="#5a0a14" stroke-width="0.6"/>
<path d="M328.8,360.1 L332.7,360.1" stroke="#5a0a14" stroke-width="0.6"/>
<path d="M329.4,365.7 L333.3,365.7" stroke="#5a0a14" stroke-width="0.6"/>
<path d="M329.9,370.8 L333.8,370.8" stroke="#5a0a14" stroke-width="0.6"/>
<path d="M318.6,263.3 L322.9,263.3" stroke="#5a0a14" stroke-width="0.6"/>
<path d="M318.8,286.7 L323.2,286.7" stroke="#5a0a14" stroke-width="0.6"/>
<path d="M319.7,301.5 L324.1,301.5" stroke="#5a0a14" stroke-width="0.6"/>
<path d="M320.5,313.1 L324.9,313.1" stroke="#5a0a14" stroke-width="0.6"/>
<path d="M321.1,322.5 L325.6,322.5" stroke="#5a0a14" stroke-width="0.6"/>
<path d="M321.8,331.0 L326.3,331.0" stroke="#5a0a14" stroke-width="0.6"/>
<path d="M322.4,336.9 L326.7,336.9" stroke="#5a0a14" stroke-width="0.6"/>
<path d="M322.9,342.7 L327.2,342.7" stroke="#5a0a14" stroke-width="0.6"/>
<path d="M323.5,349.5 L327.8,349.5" stroke="#5a0a14" stroke-width="0.6"/>
<path d="M324.2,357.5 L328.5,357.5" stroke="#5a0a14" stroke-width="0.6"/>
<path d="M324.8,363.0 L329.1,363.0" stroke="#5a0a14" stroke-width="0.6"/>
<path d="M325.4,368.0 L329.6,368.0" stroke="#5a0a14" stroke-width="0.6"/>
<path d="M284.0,212.0 L283.8,216.0 L283.6,220.0 L283.4,224.0 L283.2,228.0 L283.0,232.0 L282.8,236.0 L282.6,240.0 L282.5,244.0 L282.3,248.0 L282.2,252.0 L282.1,256.0 L282.0,260.0 L281.9,264.0 L281.8,268.0 L281.7,272.0 L281.6,276.0 L281.4,280.0 L281.2,284.0 L281.0,288.0 L281.0,292.0 L281.3,296.0 L281.5,300.0 L281.8,304.0 L282.0,308.0 L282.3,312.0 L282.5,316.0 L282.8,320.0 L283.1,324.0 L283.6,328.0 L284.1,332.0 L284.6,336.0 L285.1,340.0" stroke="#3838e0" stroke-width="1.0" opacity="0.85"/>
<path d="M339.6,212.0 L339.8,216.0 L339.9,220.0 L340.0,224.0 L340.1,228.0 L340.2,232.0 L340.3,236.0 L340.4,240.0 L340.6,244.0 L340.6,248.0 L340.7,252.0 L340.8,256.0 L340.8,260.0" stroke="#3030c8" stroke-width="0.9" opacity="0.6"/>
<path d="M341.2,262.0 L341.2,266.0 L341.3,270.0 L341.4,274.0 L341.6,278.0 L341.8,282.0" stroke="#b030b0" stroke-width="1.2" opacity="0.8"/>
<path d="M292.3,300.0 L292.6,304.0 L292.8,308.0 L293.1,312.0 L293.3,316.0 L293.6,320.0 L293.9,324.0 L294.4,328.0 L294.8,332.0 L295.3,336.0 L295.7,340.0 L296.2,344.0 L296.7,348.0 L297.1,352.0 L297.6,356.0 L298.2,360.0 L298.8,364.0 L299.4,368.0" stroke="#2828c0" stroke-width="1.1" opacity="0.7" stroke-dasharray="2.5 3.5"/>
<path d="M297.7,300.0 L297.9,304.0 L298.2,308.0 L298.5,312.0 L298.7,316.0 L299.0,320.0 L299.3,324.0 L299.7,328.0 L300.2,332.0 L300.6,336.0 L301.1,340.0 L301.5,344.0 L301.9,348.0 L302.4,352.0 L302.8,356.0 L303.4,360.0 L303.9,364.0 L304.5,368.0" stroke="#2828c0" stroke-width="1.1" opacity="0.7" stroke-dasharray="2.5 3.5"/>
<path d="M326.3,305.0 L326.5,309.0 L326.8,313.0 L327.1,317.0 L327.4,321.0 L327.7,325.0 L328.0,329.0 L328.3,333.0 L328.6,337.0 L329.0,341.0 L329.3,345.0 L329.6,349.0 L330.0,353.0 L330.3,357.0 L330.7,361.0 L331.1,365.0 L331.5,369.0" stroke="#2828c0" stroke-width="1.1" opacity="0.7" stroke-dasharray="2.5 3.5"/>
<path d="M331.0,300.0 L331.3,304.0 L331.6,308.0 L331.8,312.0 L332.1,316.0 L332.4,320.0 L332.7,324.0 L333.0,328.0 L333.3,332.0 L333.6,336.0 L333.9,340.0 L334.2,344.0 L334.5,348.0 L334.8,352.0 L335.1,356.0 L335.5,360.0 L335.9,364.0 L336.2,368.0 L336.6,372.0" stroke="#2828c0" stroke-width="1.1" opacity="0.7" stroke-dasharray="2.5 3.5"/>
<path d="M286.6,290.0 L286.8,294.0 L287.1,298.0 L287.3,302.0 L287.6,306.0 L287.9,310.0 L288.1,314.0 L288.4,318.0 L288.6,322.0 L289.1,326.0 L289.5,330.0 L290.0,334.0 L290.5,338.0 L291.0,342.0 L291.4,346.0 L291.9,350.0 L292.4,354.0 L292.9,358.0" stroke="#2828c0" stroke-width="1.1" opacity="0.7" stroke-dasharray="2.5 3.5"/>
</g>
<g filter="url(#bl1)">
<ellipse cx="309.6" cy="225.6" rx="3.4" ry="4.6" fill="#2424f4"/>
<ellipse cx="317.4" cy="226.7" rx="2.2" ry="3.8" fill="#2424f4"/>
<ellipse cx="308.5" cy="236.8" rx="2.6" ry="3.4" fill="#2424f4"/>
<ellipse cx="318.5" cy="238" rx="2.2" ry="3.6" fill="#2424f4"/>
<ellipse cx="313.5" cy="218" rx="2.6" ry="3" fill="#2424f4"/>
<ellipse cx="308" cy="215" rx="3" ry="3" fill="#2424f4"/>
<ellipse cx="318" cy="214.5" rx="2.4" ry="2.6" fill="#2424f4"/>
<ellipse cx="313" cy="231" rx="1.6" ry="3" fill="#2424f4"/>
<ellipse cx="307" cy="246" rx="2.2" ry="2.6" fill="#2424f4"/>
<ellipse cx="317.5" cy="248.5" rx="1.8" ry="2.8" fill="#2424f4"/>
<ellipse cx="310.5" cy="254" rx="1.8" ry="2.2" fill="#2424f4"/>
<ellipse cx="305.5" cy="259" rx="1.4" ry="2" fill="#2424f4"/>
<ellipse cx="315" cy="260" rx="1.6" ry="2.4" fill="#2424f4"/>
<ellipse cx="309" cy="266" rx="1.4" ry="1.8" fill="#2424f4"/>
<ellipse cx="318" cy="268" rx="1.3" ry="1.8" fill="#2424f4"/>
<ellipse cx="312" cy="273" rx="1.3" ry="1.6" fill="#2424f4"/>
<circle cx="319.3" cy="271.5" r="0.60" fill="#1c1cc0"/>
<circle cx="304.3" cy="267.8" r="0.98" fill="#1c1cc0"/>
<circle cx="314.2" cy="222.9" r="0.62" fill="#1c1cc0"/>
<circle cx="319.6" cy="274.9" r="0.52" fill="#1c1cc0"/>
<circle cx="307.1" cy="241.9" r="0.63" fill="#1c1cc0"/>
<circle cx="316.8" cy="238.2" r="0.89" fill="#1c1cc0"/>
<circle cx="306.6" cy="247.7" r="0.99" fill="#1c1cc0"/>
<circle cx="315.9" cy="219.9" r="0.56" fill="#1c1cc0"/>
<circle cx="314.9" cy="238.4" r="0.68" fill="#1c1cc0"/>
<circle cx="312.1" cy="251.8" r="0.98" fill="#1c1cc0"/>
<circle cx="308.1" cy="251.0" r="0.63" fill="#1c1cc0"/>
<circle cx="313.3" cy="261.5" r="0.57" fill="#1c1cc0"/>
<circle cx="312.2" cy="259.9" r="0.50" fill="#1c1cc0"/>
<circle cx="317.1" cy="241.2" r="0.75" fill="#1c1cc0"/>
<circle cx="314.4" cy="265.5" r="0.53" fill="#1c1cc0"/>
<circle cx="312.5" cy="216.5" r="0.69" fill="#1c1cc0"/>
<circle cx="309.9" cy="215.4" r="0.65" fill="#1c1cc0"/>
<circle cx="311.7" cy="256.6" r="0.96" fill="#1c1cc0"/>
<circle cx="310.3" cy="248.5" r="0.86" fill="#1c1cc0"/>
<circle cx="319.9" cy="275.7" r="0.99" fill="#1c1cc0"/>
<circle cx="309.1" cy="224.8" r="0.97" fill="#1c1cc0"/>
<circle cx="305.3" cy="243.2" r="0.87" fill="#1c1cc0"/>
<circle cx="313.0" cy="239.3" r="0.96" fill="#1c1cc0"/>
<circle cx="309.1" cy="249.9" r="0.91" fill="#1c1cc0"/>
<circle cx="306.3" cy="236.8" r="0.75" fill="#1c1cc0"/>
<circle cx="313.6" cy="227.5" r="0.73" fill="#1c1cc0"/>
<circle cx="305.0" cy="219.7" r="0.67" fill="#1c1cc0"/>
<circle cx="306.4" cy="276.9" r="0.63" fill="#1c1cc0"/>
<circle cx="308.7" cy="264.9" r="0.87" fill="#1c1cc0"/>
<circle cx="308.5" cy="267.9" r="0.81" fill="#1c1cc0"/>
<circle cx="310.6" cy="254.9" r="0.62" fill="#1c1cc0"/>
<circle cx="308.5" cy="271.0" r="0.72" fill="#1c1cc0"/>
<circle cx="319.3" cy="225.5" r="0.57" fill="#1c1cc0"/>
<circle cx="304.9" cy="262.1" r="0.78" fill="#1c1cc0"/>
</g>
<path d="M303.8,212 C302.3,240 301.8,262 303.6,273 Q307,283.5 316,283 Q323.5,281.5 323.3,268 C323,245 321.6,225 320.8,212" fill="none" stroke="#c8b890" stroke-width="0.55"/>
<g filter="url(#bl05)" fill="#eee420">
<rect x="312.4" y="309.5" width="1.3" height="4.6" rx="0.5" opacity="1"/>
<rect x="313.4" y="322.6" width="1.3" height="3.8" rx="0.5" opacity="0.95"/>
<rect x="313.9" y="333" width="1.3" height="3" rx="0.5" opacity="0.9"/>
<rect x="314.3" y="341.3" width="1.3" height="2.4" rx="0.5" opacity="0.75"/>
<rect x="314.9" y="348" width="1.3" height="2" rx="0.5" opacity="0.65"/>
<rect x="315.8" y="354.8" width="1.3" height="2" rx="0.5" opacity="0.6"/>
<rect x="316.7" y="361" width="1.3" height="1.8" rx="0.5" opacity="0.55"/>
<rect x="312.3" y="299" width="1.3" height="1.6" rx="0.5" opacity="0.3"/>
<rect x="312.1" y="293.6" width="1.3" height="1.6" rx="0.5" opacity="0.25"/>
</g>
</g>
<line x1="326.2" y1="280.5" x2="334.3" y2="280.5" stroke="#fff" stroke-width="1.2"/>
<path d="M323.7,280.5 l4,-2.4 v4.8 z" fill="#fff"/>
<ellipse cx="338.6" cy="280.5" rx="4.8" ry="3.4" fill="#fff"/>
<text x="338.60" y="281.80" font-size="3.7" text-anchor="middle" font-family="Liberation Sans, sans-serif" fill="#333" font-weight="bold">EF</text>
<line x1="317.7" y1="311.7" x2="328.3" y2="311.7" stroke="#fff" stroke-width="1.2"/>
<path d="M315.2,311.7 l4,-2.4 v4.8 z" fill="#fff"/>
<ellipse cx="332.6" cy="311.7" rx="4.8" ry="3.4" fill="#fff"/>
<text x="332.60" y="313.00" font-size="3.7" text-anchor="middle" font-family="Liberation Sans, sans-serif" fill="#333" font-weight="bold">EN</text>
<rect x="356.5" y="343.6" width="1.2" height="11.2" fill="#fff"/>
<text transform="translate(354.4,349.2) rotate(-90)" font-size="2.6" text-anchor="middle" fill="#eee" font-family="Liberation Sans, sans-serif">20,000 um</text>
<rect x="363.4" y="211.7" width="58.9" height="37.4" fill="#e9b67c"/>
<rect x="363.4" y="250" width="58.9" height="94.6" fill="#f4e4a2"/>
<path d="M372.20,304.00 C372.02,305.40 371.42,308.47 371.10,312.40 C370.78,316.33 370.30,323.25 370.30,327.60 C370.30,331.95 370.48,334.87 371.10,338.50 C371.72,342.13 372.80,345.77 374.00,349.40 C375.20,353.03 376.85,357.40 378.30,360.30 C379.75,363.20 381.13,365.00 382.70,366.80 C384.27,368.60 386.08,370.08 387.70,371.10 C389.32,372.12 390.83,372.90 392.40,372.90 C393.97,372.90 395.48,372.12 397.10,371.10 C398.72,370.08 400.53,368.60 402.10,366.80 C403.67,365.00 405.05,363.20 406.50,360.30 C407.95,357.40 409.60,353.03 410.80,349.40 C412.00,345.77 413.08,342.13 413.70,338.50 C414.32,334.87 414.50,331.95 414.50,327.60 C414.50,323.25 414.02,316.33 413.70,312.40 C413.38,308.47 412.78,305.40 412.60,304.00 Z" fill="#b9b9b9"/>
<defs><clipPath id="ccap"><path d="M372.20,304.00 C372.02,305.40 371.42,308.47 371.10,312.40 C370.78,316.33 370.30,323.25 370.30,327.60 C370.30,331.95 370.48,334.87 371.10,338.50 C371.72,342.13 372.80,345.77 374.00,349.40 C375.20,353.03 376.85,357.40 378.30,360.30 C379.75,363.20 381.13,365.00 382.70,366.80 C384.27,368.60 386.08,370.08 387.70,371.10 C389.32,372.12 390.83,372.90 392.40,372.90 C393.97,372.90 395.48,372.12 397.10,371.10 C398.72,370.08 400.53,368.60 402.10,366.80 C403.67,365.00 405.05,363.20 406.50,360.30 C407.95,357.40 409.60,353.03 410.80,349.40 C412.00,345.77 413.08,342.13 413.70,338.50 C414.32,334.87 414.50,331.95 414.50,327.60 C414.50,323.25 414.02,316.33 413.70,312.40 C413.38,308.47 412.78,305.40 412.60,304.00 Z"/></clipPath></defs>
<g clip-path="url(#ccap)"><path d="M374.20,305.80 C374.03,307.06 373.50,309.82 373.21,313.36 C372.93,316.90 372.49,323.12 372.49,327.04 C372.49,330.96 372.66,333.58 373.21,336.85 C373.77,340.12 374.74,343.39 375.82,346.66 C376.90,349.93 378.38,353.86 379.69,356.47 C381.00,359.08 382.24,360.70 383.65,362.32 C385.06,363.94 386.69,365.27 388.15,366.19 C389.60,367.11 390.97,367.81 392.38,367.81 C393.79,367.81 395.16,367.11 396.61,366.19 C398.06,365.27 399.70,363.94 401.11,362.32 C402.52,360.70 403.76,359.08 405.07,356.47 C406.38,353.86 407.86,349.93 408.94,346.66 C410.02,343.39 411.00,340.12 411.55,336.85 C412.11,333.58 412.27,330.96 412.27,327.04 C412.27,323.12 411.84,316.90 411.55,313.36 C411.26,309.82 410.73,307.06 410.56,305.80 M376.20,307.60 C376.05,308.72 375.57,311.17 375.32,314.32 C375.07,317.47 374.68,323.00 374.68,326.48 C374.68,329.96 374.83,332.29 375.32,335.20 C375.81,338.11 376.68,341.01 377.64,343.92 C378.60,346.83 379.92,350.32 381.08,352.64 C382.24,354.96 383.35,356.40 384.60,357.84 C385.85,359.28 387.31,360.47 388.60,361.28 C389.89,362.09 391.11,362.72 392.36,362.72 C393.61,362.72 394.83,362.09 396.12,361.28 C397.41,360.47 398.87,359.28 400.12,357.84 C401.37,356.40 402.48,354.96 403.64,352.64 C404.80,350.32 406.12,346.83 407.08,343.92 C408.04,341.01 408.91,338.11 409.40,335.20 C409.89,332.29 410.04,329.96 410.04,326.48 C410.04,323.00 409.65,317.47 409.40,314.32 C409.15,311.17 408.67,308.72 408.52,307.60 M378.20,309.40 C378.07,310.38 377.65,312.53 377.43,315.28 C377.21,318.03 376.87,322.88 376.87,325.92 C376.87,328.97 377.00,331.01 377.43,333.55 C377.86,336.09 378.62,338.64 379.46,341.18 C380.30,343.72 381.46,346.78 382.47,348.81 C383.49,350.84 384.45,352.10 385.55,353.36 C386.65,354.62 387.92,355.66 389.05,356.37 C390.18,357.08 391.24,357.63 392.34,357.63 C393.44,357.63 394.50,357.08 395.63,356.37 C396.76,355.66 398.03,354.62 399.13,353.36 C400.23,352.10 401.19,350.84 402.21,348.81 C403.22,346.78 404.38,343.72 405.22,341.18 C406.06,338.64 406.82,336.09 407.25,333.55 C407.68,331.01 407.81,328.97 407.81,325.92 C407.81,322.88 407.47,318.03 407.25,315.28 C407.03,312.53 406.61,310.38 406.48,309.40 M380.20,311.20 C380.09,312.04 379.73,313.88 379.54,316.24 C379.35,318.60 379.06,322.75 379.06,325.36 C379.06,327.97 379.17,329.72 379.54,331.90 C379.91,334.08 380.56,336.26 381.28,338.44 C382.00,340.62 382.99,343.24 383.86,344.98 C384.73,346.72 385.56,347.80 386.50,348.88 C387.44,349.96 388.53,350.85 389.50,351.46 C390.47,352.07 391.38,352.54 392.32,352.54 C393.26,352.54 394.17,352.07 395.14,351.46 C396.11,350.85 397.20,349.96 398.14,348.88 C399.08,347.80 399.91,346.72 400.78,344.98 C401.65,343.24 402.64,340.62 403.36,338.44 C404.08,336.26 404.73,334.08 405.10,331.90 C405.47,329.72 405.58,327.97 405.58,325.36 C405.58,322.75 405.29,318.60 405.10,316.24 C404.91,313.88 404.55,312.04 404.44,311.20 M382.20,313.00 C382.11,313.70 381.81,315.23 381.65,317.20 C381.49,319.17 381.25,322.62 381.25,324.80 C381.25,326.98 381.34,328.43 381.65,330.25 C381.96,332.07 382.50,333.88 383.10,335.70 C383.70,337.52 384.52,339.70 385.25,341.15 C385.98,342.60 386.67,343.50 387.45,344.40 C388.23,345.30 389.14,346.04 389.95,346.55 C390.76,347.06 391.52,347.45 392.30,347.45 C393.08,347.45 393.84,347.06 394.65,346.55 C395.46,346.04 396.37,345.30 397.15,344.40 C397.93,343.50 398.62,342.60 399.35,341.15 C400.08,339.70 400.90,337.52 401.50,335.70 C402.10,333.88 402.64,332.07 402.95,330.25 C403.26,328.43 403.35,326.98 403.35,324.80 C403.35,322.62 403.11,319.17 402.95,317.20 C402.79,315.23 402.49,313.70 402.40,313.00 M408.0,328.3 L444.7,343.0 M407.2,332.1 L442.3,355.7 M406.2,335.7 L438.7,367.7 M404.8,339.0 L434.2,378.6 M403.1,341.9 L428.7,388.4 M401.3,344.4 L422.4,396.6 M399.2,346.4 L415.4,403.2 M396.9,347.8 L408.0,408.1 M394.6,348.7 L400.2,411.0 M392.2,349.0 L392.2,412.0 M389.8,348.7 L384.2,411.0 M387.5,347.8 L376.4,408.1 M385.2,346.4 L369.0,403.2 M383.1,344.4 L362.0,396.6 M381.3,341.9 L355.7,388.4 M379.6,339.0 L350.2,378.6 M378.2,335.7 L345.7,367.7 M377.2,332.1 L342.1,355.7 M376.4,328.3 L339.7,343.0 M369.5,306.0 l6,1.5 M415,306.0 l-6,1.5 M369.5,310.6 l6,1.5 M415,310.6 l-6,1.5 M369.5,315.2 l6,1.5 M415,315.2 l-6,1.5 M369.5,319.8 l6,1.5 M415,319.8 l-6,1.5 M369.5,324.4 l6,1.5 M415,324.4 l-6,1.5 M369.5,329.0 l6,1.5 M415,329.0 l-6,1.5 M369.5,333.6 l6,1.5 M415,333.6 l-6,1.5 M369.5,338.2 l6,1.5 M415,338.2 l-6,1.5 M369.5,342.8 l6,1.5 M415,342.8 l-6,1.5" fill="none" stroke="#6e6e6e" stroke-width="0.4"/></g>
<path d="M372.20,304.00 C372.02,305.40 371.42,308.47 371.10,312.40 C370.78,316.33 370.30,323.25 370.30,327.60 C370.30,331.95 370.48,334.87 371.10,338.50 C371.72,342.13 372.80,345.77 374.00,349.40 C375.20,353.03 376.85,357.40 378.30,360.30 C379.75,363.20 381.13,365.00 382.70,366.80 C384.27,368.60 386.08,370.08 387.70,371.10 C389.32,372.12 390.83,372.90 392.40,372.90 C393.97,372.90 395.48,372.12 397.10,371.10 C398.72,370.08 400.53,368.60 402.10,366.80 C403.67,365.00 405.05,363.20 406.50,360.30 C407.95,357.40 409.60,353.03 410.80,349.40 C412.00,345.77 413.08,342.13 413.70,338.50 C414.32,334.87 414.50,331.95 414.50,327.60 C414.50,323.25 414.02,316.33 413.70,312.40 C413.38,308.47 412.78,305.40 412.60,304.00 Z" fill="none" stroke="#8c8c8c" stroke-width="0.4"/>
<path d="M371.90,215.10 C371.80,219.25 371.47,230.02 371.30,240.00 C371.13,249.98 370.85,265.83 370.90,275.00 C370.95,284.17 371.45,288.05 371.60,295.00 C371.75,301.95 371.52,311.27 371.80,316.70 C372.08,322.13 372.40,323.97 373.30,327.60 C374.20,331.23 375.82,335.60 377.20,338.50 C378.58,341.40 380.07,343.32 381.60,345.00 C383.13,346.68 384.60,347.83 386.40,348.60 C388.20,349.37 390.37,349.60 392.40,349.60 C394.43,349.60 396.78,349.37 398.60,348.60 C400.42,347.83 401.87,346.68 403.30,345.00 C404.73,343.32 405.92,341.40 407.20,338.50 C408.48,335.60 410.27,331.23 411.00,327.60 C411.73,323.97 411.47,322.13 411.60,316.70 C411.73,311.27 411.67,301.95 411.80,295.00 C411.93,288.05 412.48,284.17 412.40,275.00 C412.32,265.83 411.58,249.98 411.30,240.00 C411.02,230.02 410.80,219.25 410.70,215.10 Z" fill="#e8323e"/>
<path d="M375.70,215.10 C375.72,220.92 375.70,239.18 375.80,250.00 C375.90,260.82 376.13,272.50 376.30,280.00 C376.47,287.50 376.65,288.88 376.80,295.00 C376.95,301.12 376.88,311.27 377.20,316.70 C377.52,322.13 377.90,323.97 378.70,327.60 C379.50,331.23 380.87,335.77 382.00,338.50 C383.13,341.23 384.42,342.68 385.50,344.00 C386.58,345.32 387.37,345.90 388.50,346.40 C389.63,346.90 391.02,347.00 392.30,347.00 C393.58,347.00 395.08,346.90 396.20,346.40 C397.32,345.90 397.95,345.32 399.00,344.00 C400.05,342.68 401.42,341.23 402.50,338.50 C403.58,335.77 404.82,331.23 405.50,327.60 C406.18,323.97 406.32,322.13 406.60,316.70 C406.88,311.27 407.10,301.12 407.20,295.00 C407.30,288.88 407.25,287.50 407.20,280.00 C407.15,272.50 406.98,260.82 406.90,250.00 C406.82,239.18 406.73,220.92 406.70,215.10 Z" fill="#464646"/>
<path d="M384.2,265.5 L384.2,285 Q384.8,295 385.5,300 Q386.3,330 388.1,346.3 L391.3,346.3 Q389.8,330 389.2,300 Q388.4,290 388.1,280 L388.1,265.5 Z" fill="#2fbf9b"/>
<path d="M393.3,259.5 L393.3,290 Q393.4,296 393.5,300 Q393.6,330 392.4,346.3 L395.7,346.3 Q397,330 397.2,300 Q397.1,290 397,280 L397,259.5 Z" fill="#2fbf9b"/>
<rect x="384.2" y="215.1" width="12.8" height="28.3" fill="#5d92da"/>
<path d="M388.4,215.1 V243 M392.9,215.1 V243" stroke="#4f80c6" stroke-width="0.4" fill="none"/>
<rect x="393.3" y="243.3" width="3.7" height="16.3" fill="#e83c7a"/>
<rect x="384.2" y="243.3" width="3.9" height="22.2" fill="#f2b424"/>
<ellipse cx="386.1" cy="249.3" rx="1.2" ry="1.9" fill="#ee7c1c"/>
<ellipse cx="386.1" cy="257" rx="1.2" ry="1.9" fill="#ee7c1c"/>
<ellipse cx="386.1" cy="263.6" rx="1.2" ry="1.2" fill="#ee7c1c"/>
<path d="M378.4,215.3 V320 M381.2,215.3 V320 M390.7,215.3 V320 M399.8,215.3 V320 M402.3,215.3 V320 M404.6,215.3 V320" stroke="#343434" stroke-width="0.35" fill="none"/>
<path d="M370.8,217.0 h5.5 M406.6,217.0 h6 M370.8,219.1 h5.5 M406.6,219.1 h6 M370.8,221.2 h5.5 M406.6,221.2 h6 M370.8,223.3 h5.5 M406.6,223.3 h6 M370.8,225.4 h5.5 M406.6,225.4 h6 M370.8,227.5 h5.5 M406.6,227.5 h6 M370.8,229.6 h5.5 M406.6,229.6 h6 M370.8,231.7 h5.5 M406.6,231.7 h6 M370.8,233.8 h5.5 M406.6,233.8 h6 M370.8,235.9 h5.5 M406.6,235.9 h6 M370.8,238.0 h5.5 M406.6,238.0 h6 M370.8,240.1 h5.5 M406.6,240.1 h6 M370.8,242.2 h5.5 M406.6,242.2 h6 M370.8,244.3 h5.5 M406.6,244.3 h6 M370.8,246.4 h5.5 M406.6,246.4 h6 M370.8,248.5 h5.5 M406.6,248.5 h6 M370.8,250.6 h5.5 M406.6,250.6 h6 M370.8,252.7 h5.5 M406.6,252.7 h6 M370.8,254.8 h5.5 M406.6,254.8 h6 M370.8,256.9 h5.5 M406.6,256.9 h6 M370.8,259.0 h5.5 M406.6,259.0 h6 M370.8,261.1 h5.5 M406.6,261.1 h6 M370.8,263.2 h5.5 M406.6,263.2 h6 M370.8,265.3 h5.5 M406.6,265.3 h6 M370.8,267.4 h5.5 M406.6,267.4 h6 M370.8,269.5 h5.5 M406.6,269.5 h6 M370.8,271.6 h5.5 M406.6,271.6 h6 M370.8,273.7 h5.5 M406.6,273.7 h6 M370.8,275.8 h5.5 M406.6,275.8 h6 M370.8,277.9 h5.5 M406.6,277.9 h6 M370.8,280.0 h5.5 M406.6,280.0 h6 M370.8,282.1 h5.5 M406.6,282.1 h6 M370.8,284.2 h5.5 M406.6,284.2 h6 M370.8,286.3 h5.5 M406.6,286.3 h6 M370.8,288.4 h5.5 M406.6,288.4 h6 M370.8,290.5 h5.5 M406.6,290.5 h6 M370.8,292.6 h5.5 M406.6,292.6 h6 M370.8,294.7 h5.5 M406.6,294.7 h6 M370.8,296.8 h5.5 M406.6,296.8 h6 M370.8,298.9 h5.5 M406.6,298.9 h6 M370.8,301.0 h5.5 M406.6,301.0 h6 M370.8,303.1 h5.5 M406.6,303.1 h6 M370.8,305.2 h5.5 M406.6,305.2 h6 M370.8,307.3 h5.5 M406.6,307.3 h6 M370.8,309.4 h5.5 M406.6,309.4 h6 M370.8,311.5 h5.5 M406.6,311.5 h6 M370.8,313.6 h5.5 M406.6,313.6 h6 M370.8,315.7 h5.5 M406.6,315.7 h6 M370.8,317.8 h5.5 M406.6,317.8 h6 M370.8,319.9 h5.5 M406.6,319.9 h6 M370.8,322.0 h5.5 M406.6,322.0 h6 M370.8,324.1 h5.5 M406.6,324.1 h6 M370.8,326.2 h5.5 M406.6,326.2 h6 M370.8,328.3 h5.5 M406.6,328.3 h6" stroke="#c02232" stroke-width="0.3" fill="none"/>
<path d="M384.2,266.0 h4.8 M393,266.0 h4.2 M384.2,268.1 h4.8 M393,268.1 h4.2 M384.2,270.2 h4.8 M393,270.2 h4.2 M384.2,272.3 h4.8 M393,272.3 h4.2 M384.2,274.4 h4.8 M393,274.4 h4.2 M384.2,276.5 h4.8 M393,276.5 h4.2 M384.2,278.6 h4.8 M393,278.6 h4.2 M384.2,280.7 h4.8 M393,280.7 h4.2 M384.2,282.8 h4.8 M393,282.8 h4.2 M384.2,284.9 h4.8 M393,284.9 h4.2 M384.2,287.0 h4.8 M393,287.0 h4.2 M384.2,289.1 h4.8 M393,289.1 h4.2 M384.2,291.2 h4.8 M393,291.2 h4.2 M384.2,293.3 h4.8 M393,293.3 h4.2 M384.2,295.4 h4.8 M393,295.4 h4.2 M384.2,297.5 h4.8 M393,297.5 h4.2 M384.2,299.6 h4.8 M393,299.6 h4.2 M384.2,301.7 h4.8 M393,301.7 h4.2 M384.2,303.8 h4.8 M393,303.8 h4.2 M384.2,305.9 h4.8 M393,305.9 h4.2 M384.2,308.0 h4.8 M393,308.0 h4.2 M384.2,310.1 h4.8 M393,310.1 h4.2 M384.2,312.2 h4.8 M393,312.2 h4.2 M384.2,314.3 h4.8 M393,314.3 h4.2 M384.2,316.4 h4.8 M393,316.4 h4.2 M384.2,318.5 h4.8 M393,318.5 h4.2 M384.2,320.6 h4.8 M393,320.6 h4.2 M384.2,322.7 h4.8 M393,322.7 h4.2 M384.2,324.8 h4.8 M393,324.8 h4.2 M384.2,326.9 h4.8 M393,326.9 h4.2 M384.2,329.0 h4.8 M393,329.0 h4.2 M384.2,331.1 h4.8 M393,331.1 h4.2 M384.2,333.2 h4.8 M393,333.2 h4.2 M384.2,335.3 h4.8 M393,335.3 h4.2 M384.2,337.4 h4.8 M393,337.4 h4.2 M384.2,339.5 h4.8 M393,339.5 h4.2 M384.2,341.6 h4.8 M393,341.6 h4.2 M384.2,343.7 h4.8 M393,343.7 h4.2" stroke="#24a080" stroke-width="0.3" fill="none"/>
<rect x="387.7" y="346.3" width="8.6" height="1.9" rx="0.5" fill="#d6d826"/>
<line x1="399.4" y1="232" x2="402.4" y2="232" stroke="#fff" stroke-width="0.9"/>
<path d="M397.9,232 l2.6,-1.7 v3.4 z" fill="#fff"/>
<rect x="402.4" y="229.15" width="6.2" height="5.7" rx="0.6" fill="#fff" stroke="#777" stroke-width="0.3"/>
<text x="405.50" y="233.10" font-size="3" text-anchor="middle" font-family="Liberation Sans, sans-serif" fill="#333" >EF</text>
<line x1="390.0" y1="249.5" x2="396.7" y2="249.5" stroke="#fff" stroke-width="0.9"/>
<path d="M388.5,249.5 l2.6,-1.7 v3.4 z" fill="#fff"/>
<rect x="396.7" y="246.65" width="6.2" height="5.7" rx="0.6" fill="#fff" stroke="#777" stroke-width="0.3"/>
<text x="399.80" y="250.60" font-size="3" text-anchor="middle" font-family="Liberation Sans, sans-serif" fill="#333" >EN</text>
<line x1="510.90" y1="211.70" x2="510.90" y2="344.20" stroke="#000" stroke-width="1.2"/>
<line x1="510.30" y1="343.60" x2="681.50" y2="343.60" stroke="#000" stroke-width="1.2"/>
<line x1="507.80" y1="343.60" x2="510.90" y2="343.60" stroke="#000" stroke-width="1.1"/>
<text x="507.00" y="345.70" font-size="6" text-anchor="end" font-family="Liberation Sans, sans-serif" fill="#000" >0</text>
<line x1="507.80" y1="310.80" x2="510.90" y2="310.80" stroke="#000" stroke-width="1.1"/>
<text x="507.00" y="312.90" font-size="6" text-anchor="end" font-family="Liberation Sans, sans-serif" fill="#000" >100</text>
<line x1="507.80" y1="278.00" x2="510.90" y2="278.00" stroke="#000" stroke-width="1.1"/>
<text x="507.00" y="280.10" font-size="6" text-anchor="end" font-family="Liberation Sans, sans-serif" fill="#000" >200</text>
<line x1="507.80" y1="245.20" x2="510.90" y2="245.20" stroke="#000" stroke-width="1.1"/>
<text x="507.00" y="247.30" font-size="6" text-anchor="end" font-family="Liberation Sans, sans-serif" fill="#000" >300</text>
<line x1="507.80" y1="212.40" x2="510.90" y2="212.40" stroke="#000" stroke-width="1.1"/>
<text x="507.00" y="214.50" font-size="6" text-anchor="end" font-family="Liberation Sans, sans-serif" fill="#000" >400</text>
<text transform="translate(493.7,277) rotate(-90)" font-size="5.2" text-anchor="middle" font-family="Liberation Sans, sans-serif">Distance EN-EF  (µm)</text>
<line x1="522.85" y1="294.10" x2="522.85" y2="301.20" stroke="#000" stroke-width="1.0"/>
<line x1="522.85" y1="325.60" x2="522.85" y2="340.00" stroke="#000" stroke-width="1.0"/>
<line x1="519.95" y1="294.10" x2="525.75" y2="294.10" stroke="#000" stroke-width="1.0"/>
<line x1="519.95" y1="340.00" x2="525.75" y2="340.00" stroke="#000" stroke-width="1.0"/>
<rect x="517.20" y="301.20" width="11.30" height="24.40" fill="#707070" stroke="#000" stroke-width="1.0"/>
<line x1="517.20" y1="317.20" x2="528.50" y2="317.20" stroke="#000" stroke-width="1.0"/>
<circle cx="524.79" cy="302.26" r="0.62" fill="#000"/>
<circle cx="520.09" cy="322.46" r="0.62" fill="#000"/>
<circle cx="524.18" cy="304.07" r="0.62" fill="#000"/>
<circle cx="521.18" cy="322.19" r="0.62" fill="#000"/>
<circle cx="520.23" cy="299.20" r="0.62" fill="#000"/>
<circle cx="520.25" cy="298.36" r="0.62" fill="#000"/>
<circle cx="525.20" cy="317.03" r="0.62" fill="#000"/>
<circle cx="523.71" cy="297.28" r="0.62" fill="#000"/>
<circle cx="524.38" cy="299.63" r="0.62" fill="#000"/>
<circle cx="519.86" cy="308.49" r="0.62" fill="#000"/>
<circle cx="525.26" cy="317.77" r="0.62" fill="#000"/>
<circle cx="521.15" cy="304.99" r="0.62" fill="#000"/>
<circle cx="521.08" cy="324.30" r="0.62" fill="#000"/>
<circle cx="520.32" cy="309.81" r="0.62" fill="#000"/>
<circle cx="523.75" cy="316.37" r="0.62" fill="#000"/>
<circle cx="522.80" cy="304.59" r="0.62" fill="#000"/>
<circle cx="523.29" cy="314.62" r="0.62" fill="#000"/>
<circle cx="521.46" cy="300.76" r="0.62" fill="#000"/>
<circle cx="525.25" cy="314.28" r="0.62" fill="#000"/>
<circle cx="522.37" cy="317.36" r="0.62" fill="#000"/>
<line x1="522.85" y1="343.60" x2="522.85" y2="347.00" stroke="#000" stroke-width="1.0"/>
<line x1="551.85" y1="258.50" x2="551.85" y2="275.00" stroke="#000" stroke-width="1.0"/>
<line x1="551.85" y1="306.70" x2="551.85" y2="326.10" stroke="#000" stroke-width="1.0"/>
<line x1="548.95" y1="258.50" x2="554.75" y2="258.50" stroke="#000" stroke-width="1.0"/>
<line x1="548.95" y1="326.10" x2="554.75" y2="326.10" stroke="#000" stroke-width="1.0"/>
<rect x="546.30" y="275.00" width="11.10" height="31.70" fill="#7ef0f0" stroke="#000" stroke-width="1.0"/>
<line x1="546.30" y1="291.50" x2="557.40" y2="291.50" stroke="#000" stroke-width="1.0"/>
<circle cx="550.61" cy="315.01" r="0.62" fill="#000"/>
<circle cx="551.00" cy="283.22" r="0.62" fill="#000"/>
<circle cx="552.63" cy="276.39" r="0.62" fill="#000"/>
<circle cx="549.55" cy="323.14" r="0.62" fill="#000"/>
<circle cx="549.47" cy="281.24" r="0.62" fill="#000"/>
<circle cx="552.34" cy="315.58" r="0.62" fill="#000"/>
<circle cx="551.15" cy="305.82" r="0.62" fill="#000"/>
<circle cx="550.41" cy="307.44" r="0.62" fill="#000"/>
<circle cx="549.43" cy="285.44" r="0.62" fill="#000"/>
<circle cx="551.31" cy="297.72" r="0.62" fill="#000"/>
<circle cx="550.66" cy="262.74" r="0.62" fill="#000"/>
<circle cx="553.59" cy="304.91" r="0.62" fill="#000"/>
<circle cx="549.48" cy="292.73" r="0.62" fill="#000"/>
<circle cx="549.01" cy="282.17" r="0.62" fill="#000"/>
<circle cx="549.50" cy="284.19" r="0.62" fill="#000"/>
<circle cx="554.53" cy="304.58" r="0.62" fill="#000"/>
<line x1="551.85" y1="343.60" x2="551.85" y2="347.00" stroke="#000" stroke-width="1.0"/>
<line x1="581.30" y1="231.20" x2="581.30" y2="275.80" stroke="#000" stroke-width="1.0"/>
<line x1="581.30" y1="307.80" x2="581.30" y2="336.60" stroke="#000" stroke-width="1.0"/>
<line x1="578.40" y1="231.20" x2="584.20" y2="231.20" stroke="#000" stroke-width="1.0"/>
<line x1="578.40" y1="336.60" x2="584.20" y2="336.60" stroke="#000" stroke-width="1.0"/>
<rect x="575.80" y="275.80" width="11.00" height="32.00" fill="#2f7f92" stroke="#000" stroke-width="1.0"/>
<line x1="575.80" y1="292.00" x2="586.80" y2="292.00" stroke="#000" stroke-width="1.0"/>
<circle cx="582.91" cy="279.09" r="0.62" fill="#000"/>
<circle cx="578.80" cy="293.00" r="0.62" fill="#000"/>
<circle cx="580.92" cy="288.40" r="0.62" fill="#000"/>
<circle cx="584.14" cy="293.43" r="0.62" fill="#000"/>
<circle cx="581.39" cy="282.50" r="0.62" fill="#000"/>
<circle cx="582.10" cy="271.44" r="0.62" fill="#000"/>
<circle cx="583.17" cy="265.53" r="0.62" fill="#000"/>
<circle cx="578.62" cy="280.26" r="0.62" fill="#000"/>
<circle cx="580.96" cy="280.32" r="0.62" fill="#000"/>
<circle cx="581.30" cy="291.70" r="0.62" fill="#000"/>
<circle cx="579.84" cy="299.61" r="0.62" fill="#000"/>
<circle cx="581.93" cy="300.07" r="0.62" fill="#000"/>
<circle cx="582.47" cy="282.29" r="0.62" fill="#000"/>
<circle cx="584.29" cy="242.02" r="0.62" fill="#000"/>
<line x1="581.30" y1="343.60" x2="581.30" y2="347.00" stroke="#000" stroke-width="1.0"/>
<line x1="610.25" y1="251.40" x2="610.25" y2="282.10" stroke="#000" stroke-width="1.0"/>
<line x1="610.25" y1="316.40" x2="610.25" y2="329.60" stroke="#000" stroke-width="1.0"/>
<line x1="607.35" y1="251.40" x2="613.15" y2="251.40" stroke="#000" stroke-width="1.0"/>
<line x1="607.35" y1="329.60" x2="613.15" y2="329.60" stroke="#000" stroke-width="1.0"/>
<rect x="604.60" y="282.10" width="11.30" height="34.30" fill="#ffffff" stroke="#000" stroke-width="1.0"/>
<line x1="604.60" y1="298.60" x2="615.90" y2="298.60" stroke="#000" stroke-width="1.0"/>
<circle cx="607.79" cy="287.85" r="0.62" fill="#000"/>
<circle cx="612.39" cy="303.35" r="0.62" fill="#000"/>
<circle cx="607.88" cy="306.07" r="0.62" fill="#000"/>
<circle cx="609.39" cy="290.74" r="0.62" fill="#000"/>
<circle cx="607.98" cy="306.82" r="0.62" fill="#000"/>
<circle cx="610.80" cy="277.71" r="0.62" fill="#000"/>
<circle cx="612.49" cy="289.62" r="0.62" fill="#000"/>
<circle cx="609.25" cy="273.46" r="0.62" fill="#000"/>
<circle cx="609.77" cy="261.79" r="0.62" fill="#000"/>
<circle cx="608.02" cy="315.59" r="0.62" fill="#000"/>
<circle cx="611.62" cy="310.60" r="0.62" fill="#000"/>
<circle cx="609.12" cy="314.47" r="0.62" fill="#000"/>
<circle cx="609.77" cy="303.12" r="0.62" fill="#000"/>
<circle cx="609.29" cy="304.25" r="0.62" fill="#000"/>
<circle cx="611.52" cy="290.90" r="0.62" fill="#000"/>
<circle cx="608.21" cy="313.65" r="0.62" fill="#000"/>
<line x1="610.25" y1="343.60" x2="610.25" y2="347.00" stroke="#000" stroke-width="1.0"/>
<line x1="639.55" y1="246.70" x2="639.55" y2="278.20" stroke="#000" stroke-width="1.0"/>
<line x1="639.55" y1="298.60" x2="639.55" y2="323.00" stroke="#000" stroke-width="1.0"/>
<line x1="636.65" y1="246.70" x2="642.45" y2="246.70" stroke="#000" stroke-width="1.0"/>
<line x1="636.65" y1="323.00" x2="642.45" y2="323.00" stroke="#000" stroke-width="1.0"/>
<rect x="633.80" y="278.20" width="11.50" height="20.40" fill="#f02a1a" stroke="#000" stroke-width="1.0"/>
<line x1="633.80" y1="291.00" x2="645.30" y2="291.00" stroke="#000" stroke-width="1.0"/>
<circle cx="641.29" cy="278.22" r="0.62" fill="#000"/>
<circle cx="636.81" cy="310.57" r="0.62" fill="#000"/>
<circle cx="637.27" cy="287.96" r="0.62" fill="#000"/>
<circle cx="641.67" cy="298.08" r="0.62" fill="#000"/>
<circle cx="640.46" cy="295.11" r="0.62" fill="#000"/>
<circle cx="637.92" cy="291.35" r="0.62" fill="#000"/>
<circle cx="640.49" cy="278.41" r="0.62" fill="#000"/>
<circle cx="639.57" cy="293.37" r="0.62" fill="#000"/>
<circle cx="640.96" cy="284.45" r="0.62" fill="#000"/>
<circle cx="641.10" cy="290.37" r="0.62" fill="#000"/>
<circle cx="636.92" cy="292.20" r="0.62" fill="#000"/>
<circle cx="637.43" cy="295.35" r="0.62" fill="#000"/>
<circle cx="641.15" cy="278.50" r="0.62" fill="#000"/>
<circle cx="639.18" cy="287.55" r="0.62" fill="#000"/>
<line x1="639.55" y1="343.60" x2="639.55" y2="347.00" stroke="#000" stroke-width="1.0"/>
<line x1="668.55" y1="249.00" x2="668.55" y2="275.00" stroke="#000" stroke-width="1.0"/>
<line x1="668.55" y1="318.50" x2="668.55" y2="328.80" stroke="#000" stroke-width="1.0"/>
<line x1="665.65" y1="249.00" x2="671.45" y2="249.00" stroke="#000" stroke-width="1.0"/>
<line x1="665.65" y1="328.80" x2="671.45" y2="328.80" stroke="#000" stroke-width="1.0"/>
<rect x="662.90" y="275.00" width="11.30" height="43.50" fill="#9c1c10" stroke="#000" stroke-width="1.0"/>
<line x1="662.90" y1="304.60" x2="674.20" y2="304.60" stroke="#000" stroke-width="1.0"/>
<circle cx="668.68" cy="287.03" r="0.62" fill="#000"/>
<circle cx="670.15" cy="309.59" r="0.62" fill="#000"/>
<circle cx="669.23" cy="315.62" r="0.62" fill="#000"/>
<circle cx="669.25" cy="316.91" r="0.62" fill="#000"/>
<circle cx="671.49" cy="313.48" r="0.62" fill="#000"/>
<circle cx="667.59" cy="277.87" r="0.62" fill="#000"/>
<circle cx="666.09" cy="291.07" r="0.62" fill="#000"/>
<circle cx="668.12" cy="275.14" r="0.62" fill="#000"/>
<circle cx="667.88" cy="306.70" r="0.62" fill="#000"/>
<circle cx="670.92" cy="316.47" r="0.62" fill="#000"/>
<circle cx="667.97" cy="266.32" r="0.62" fill="#000"/>
<circle cx="665.71" cy="292.78" r="0.62" fill="#000"/>
<circle cx="669.71" cy="308.39" r="0.62" fill="#000"/>
<circle cx="670.13" cy="303.50" r="0.62" fill="#000"/>
<circle cx="670.31" cy="322.19" r="0.62" fill="#000"/>
<circle cx="669.50" cy="303.70" r="0.62" fill="#000"/>
<circle cx="668.21" cy="305.95" r="0.62" fill="#000"/>
<circle cx="667.05" cy="289.24" r="0.62" fill="#000"/>
<circle cx="666.70" cy="310.40" r="0.62" fill="#000"/>
<circle cx="667.74" cy="311.55" r="0.62" fill="#000"/>
<line x1="668.55" y1="343.60" x2="668.55" y2="347.00" stroke="#000" stroke-width="1.0"/>
<text x="522.70" y="288.90" font-size="6.2" text-anchor="middle" font-family="Liberation Sans, sans-serif" fill="#000" >B</text>
<text x="552.00" y="253.00" font-size="6.2" text-anchor="middle" font-family="Liberation Sans, sans-serif" fill="#000" >A</text>
<text x="581.20" y="226.00" font-size="6.2" text-anchor="middle" font-family="Liberation Sans, sans-serif" fill="#000" >A</text>
<text x="610.20" y="246.40" font-size="6.2" text-anchor="middle" font-family="Liberation Sans, sans-serif" fill="#000" >A</text>
<text x="639.70" y="242.00" font-size="6.2" text-anchor="middle" font-family="Liberation Sans, sans-serif" fill="#000" >A</text>
<text x="668.50" y="243.20" font-size="6.2" text-anchor="middle" font-family="Liberation Sans, sans-serif" fill="#000" >A</text>
<line x1="521.60" y1="355.90" x2="524.00" y2="355.90" stroke="#222" stroke-width="0.75"/>
<line x1="522.80" y1="354.50" x2="522.80" y2="357.30" stroke="#222" stroke-width="0.75"/>
<line x1="550.80" y1="355.90" x2="553.20" y2="355.90" stroke="#222" stroke-width="0.75"/>
<line x1="552.00" y1="354.50" x2="552.00" y2="357.30" stroke="#222" stroke-width="0.75"/>
<line x1="580.10" y1="355.90" x2="582.50" y2="355.90" stroke="#222" stroke-width="0.75"/>
<line x1="581.30" y1="354.50" x2="581.30" y2="357.30" stroke="#222" stroke-width="0.75"/>
<line x1="609.35" y1="356.30" x2="611.05" y2="356.30" stroke="#222" stroke-width="0.75"/>
<line x1="638.75" y1="356.30" x2="640.45" y2="356.30" stroke="#222" stroke-width="0.75"/>
<line x1="667.65" y1="356.30" x2="669.35" y2="356.30" stroke="#222" stroke-width="0.75"/>
<text x="522.80" y="367.40" font-size="5.7" text-anchor="middle" font-family="Liberation Sans, sans-serif" fill="#000" font-style="italic">NAC86-YFP</text>
<text x="552.00" y="367.40" font-size="5.7" text-anchor="middle" font-family="Liberation Sans, sans-serif" fill="#000" font-style="italic">dof1.5-1</text>
<text x="552.00" y="373.90" font-size="5.7" text-anchor="middle" font-family="Liberation Sans, sans-serif" fill="#000" font-style="italic">NAC86-</text>
<text x="552.00" y="380.20" font-size="5.7" text-anchor="middle" font-family="Liberation Sans, sans-serif" fill="#000" font-style="italic">YFP</text>
<text x="581.30" y="367.40" font-size="5.7" text-anchor="middle" font-family="Liberation Sans, sans-serif" fill="#000" >dof1.5-2D</text>
<text x="581.30" y="373.90" font-size="5.7" text-anchor="middle" font-family="Liberation Sans, sans-serif" fill="#000" font-style="italic">NAC86-</text>
<text x="581.30" y="380.20" font-size="5.7" text-anchor="middle" font-family="Liberation Sans, sans-serif" fill="#000" font-style="italic">YFP</text>
<text x="611.60" y="367.40" font-size="5.7" text-anchor="middle" font-family="Liberation Sans, sans-serif" fill="#000" font-style="italic">NAC86-YFP</text>
<text x="639.60" y="367.40" font-size="5.7" text-anchor="middle" font-family="Liberation Sans, sans-serif" fill="#000" font-style="italic">dof1.5-1</text>
<text x="639.60" y="373.90" font-size="5.7" text-anchor="middle" font-family="Liberation Sans, sans-serif" fill="#000" font-style="italic">NAC86-</text>
<text x="639.60" y="380.20" font-size="5.7" text-anchor="middle" font-family="Liberation Sans, sans-serif" fill="#000" font-style="italic">YFP</text>
<text x="668.50" y="367.40" font-size="5.7" text-anchor="middle" font-family="Liberation Sans, sans-serif" fill="#000" >dof1.5-2D</text>
<text x="668.50" y="373.90" font-size="5.7" text-anchor="middle" font-family="Liberation Sans, sans-serif" fill="#000" font-style="italic">NAC86-YFP</text>
</svg>
</body></html>
